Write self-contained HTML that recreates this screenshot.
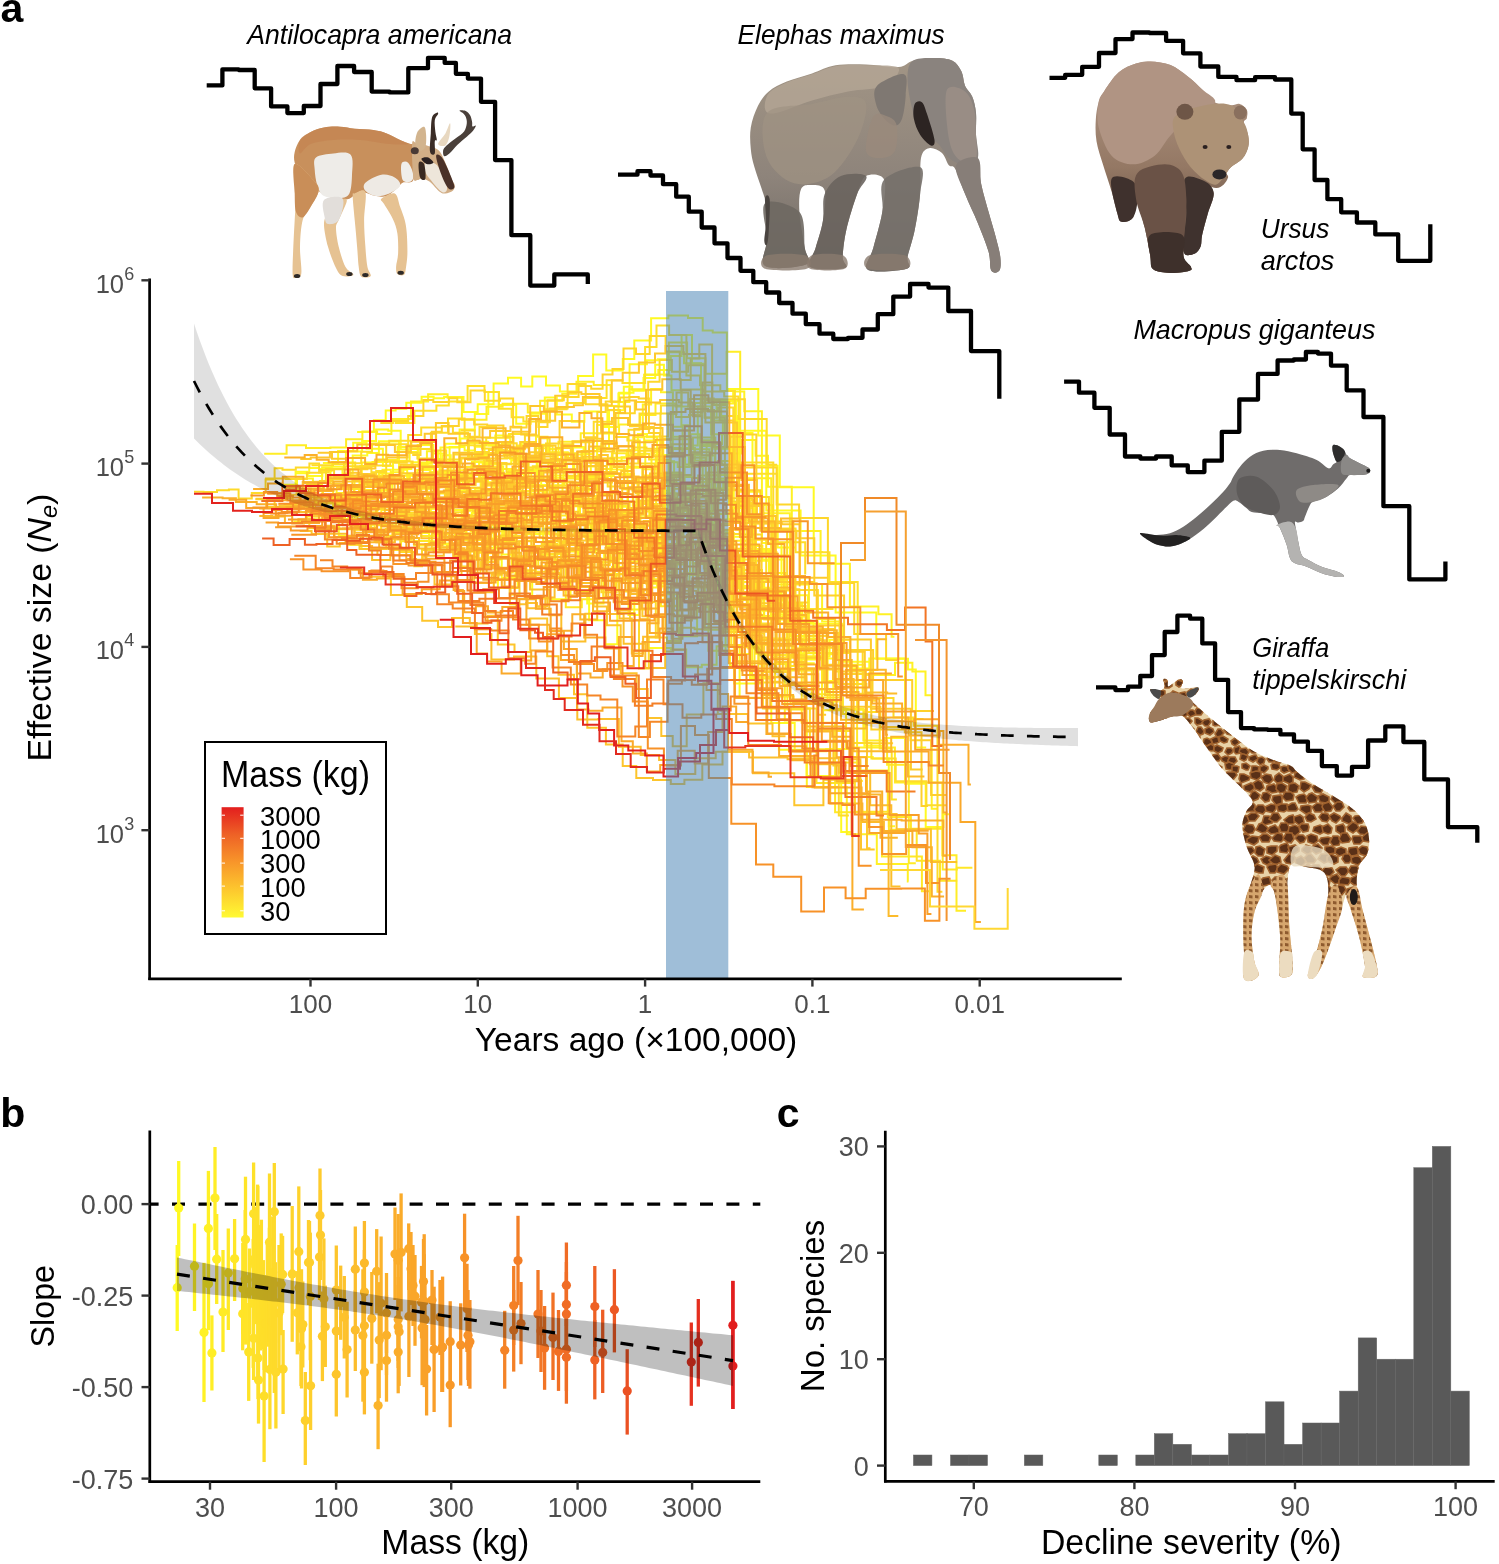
<!DOCTYPE html>
<html><head><meta charset="utf-8"><style>
html,body{margin:0;padding:0;background:#fff;}
svg{display:block;font-family:"Liberation Sans", sans-serif;will-change:transform;}
</style></head><body>
<svg width="1499" height="1564" viewBox="0 0 1499 1564">
<rect width="1499" height="1564" fill="#fff"/>
<g id="lines" fill="none" stroke-width="2" stroke-linejoin="miter"><path d="M439.3,493.6H459.9V470.2H471.3V466.3H487.8V472.3H503.4V474.0H523.8V487.2H541.2V463.2H552.0V477.8H562.5V497.7H582.8V477.7H602.7V493.2H620.8V538.2H634.2V517.3H652.1V520.5H672.0V483.7H685.3V487.3H698.2V497.0H718.3V550.0H742.2V587.7H769.8V590.5H790.5V635.9H827.6V701.5H838.7" stroke="#fffa23"/>
<path d="M336.0,498.9H359.5V481.4H373.0V484.3H392.0V479.0H405.0V488.7H429.7V472.8H449.8V479.4H462.5V487.7H484.1V469.8H501.1V479.3H517.0V481.7H531.2V484.9H549.5V475.6H568.0V476.3H588.9V476.1H613.7V473.8H633.9V489.0H655.5V475.9H680.5V495.8H700.2V455.5H714.7V536.8H752.4V592.9H780.7V600.6H786.1" stroke="#fffa23"/>
<path d="M357.1,432.0H373.9V420.2H385.7V410.6H395.6V408.7H406.3V402.8H421.6V396.7H433.6V398.3H444.1V397.0H463.5V412.1H477.7V404.2H493.6V383.4H508.0V377.8H521.1V386.4H532.3V376.4H546.0V385.6H559.9V391.4H578.1V376.0H593.1V354.5H606.3V370.4H622.8V359.0H634.3V340.4H651.1V318.3H668.4V315.5H688.0V318.0H702.7V330.5H712.7V332.6H726.9V389.1H758.3V435.6H779.8V487.2H813.7V552.1H822.9" stroke="#fffa23"/>
<path d="M283.2,484.8H295.6V471.8H307.7V475.9H322.3V470.9H331.6V466.7H342.5V473.8H352.7V455.4H367.3V452.9H378.9V441.2H390.7V441.4H399.0V469.1H411.3V462.3H419.5V465.1H427.7V461.9H438.2V461.6H449.6V447.1H464.6V450.6H475.0V446.7H484.5V454.9H495.3V435.6H510.2V459.1H521.7V442.5H534.2V444.7H548.9V449.1H561.1V459.9H571.6V447.1H583.6V453.9H593.4V448.0H609.0V410.2H623.8V386.7H632.2V390.4H643.5V378.1H655.2V364.7H663.9V375.4H671.5V390.3H681.4V425.2H688.9V445.6H697.8V406.6H711.0V434.2H722.9V415.9H737.5V432.9H752.5V465.7H777.7V547.4H795.0" stroke="#fffa23"/>
<path d="M405.1,475.7H422.4V487.2H440.0V477.3H457.2V478.3H466.9V481.5H479.1V462.6H487.9V485.6H501.6V464.2H511.2V460.6H526.6V461.0H536.7V476.9H550.6V452.4H567.4V457.7H581.4V489.7H593.9V506.5H611.3V469.6H627.1V450.3H637.9V434.1H647.0V437.3H657.1V474.4H668.6V462.3H677.7V466.9H689.0V434.3H700.1V444.2H714.3V448.7H732.3V502.9H753.4V560.8H770.8V614.2H801.2V663.2H814.7" stroke="#fffa23"/>
<path d="M323.1,517.3H338.8V536.1H348.9V544.7H361.5V549.1H373.8V548.9H386.3V535.8H394.3V532.8H407.2V531.1H420.1V533.1H429.1V542.7H444.3V540.2H459.0V537.1H473.2V543.4H483.6V557.2H495.7V541.8H510.5V533.1H520.3V527.3H535.3V533.8H550.0V534.5H561.0V576.8H570.5V589.4H578.5V556.7H592.4V539.7H608.1V559.1H619.9V553.7H633.7V533.7H643.4V524.2H657.9V560.4H667.6V538.3H676.8V551.3H690.2V533.1H700.1V552.0H713.9V620.7H722.0V613.9H734.2V683.5H761.7V655.2H769.5" stroke="#fffa23"/>
<path d="M362.0,489.9H379.9V490.0H392.2V483.4H408.4V474.7H417.2V470.0H430.5V472.2H442.3V455.2H450.7V475.6H464.3V491.9H475.1V488.7H483.7V512.4H492.3V524.4H502.2V554.4H515.5V521.6H524.7V534.2H540.9V532.2H550.8V526.6H559.4V549.5H567.8V563.3H578.0V546.6H595.3V552.7H604.1V557.6H618.7V538.3H630.7V508.0H646.9V500.0H664.5V503.7H673.0V537.8H682.9V522.8H698.1V501.4H711.6V488.5H731.4V508.0H754.0V550.7H774.0V595.3H807.9V623.8H841.9V661.7H870.1V673.3H871.8" stroke="#fffa23"/>
<path d="M322.9,463.1H338.1V451.1H353.2V442.7H366.6V448.8H382.9V465.9H393.1V469.8H407.2V481.2H426.8V480.5H440.5V447.4H459.6V429.6H474.8V414.1H488.3V392.0H499.0V405.0H516.2V423.7H530.7V413.8H544.8V397.5H556.8V414.5H571.8V421.8H584.4V411.5H601.1V426.9H618.4V393.5H629.6V364.2H646.9V360.2H657.8V359.3H667.6V352.3H684.0V363.2H701.0V402.5H716.2V401.3H736.0V430.8H766.3V510.4H800.6V555.6H835.6V612.5H876.3V658.7H908.0V669.6H915.8V747.6H926.2" stroke="#fffa23"/>
<path d="M295.3,473.2H309.2V468.1H319.0V469.1H332.2V462.0H345.9V451.5H362.1V441.1H376.1V429.6H388.3V430.7H400.7V449.5H408.2V452.0H417.7V445.0H433.3V453.6H445.3V443.8H460.4V438.6H472.9V441.8H488.3V445.7H500.8V444.8H509.8V448.9H523.5V458.0H534.8V448.3H548.1V452.5H557.7V471.6H573.1V447.4H584.8V459.4H597.1V425.0H607.4V405.9H619.1V392.7H633.5V390.4H644.2V374.9H658.3V370.0H670.8V356.0H681.6V334.9H692.0V363.8H704.8V417.7H716.6V401.0H730.6V400.7H739.0V491.8H762.0V543.0H781.5V606.4H799.8V659.5H825.6V681.1H839.1" stroke="#fffa23"/>
<path d="M457.3,490.9H481.4V491.3H493.6V479.0H507.3V494.9H531.6V504.7H555.5V508.6H572.6V531.0H588.1V531.2H602.7V521.2H624.9V561.8H638.2V540.5H655.3V518.7H667.9V483.3H680.8V488.6H697.9V482.0H710.5V478.5H733.8V520.4H755.7V653.7H775.1" stroke="#fffa23"/>
<path d="M435.7,486.7H453.3V510.1H471.0V495.7H483.0V474.2H502.9V475.5H520.9V457.0H537.7V485.9H554.0V523.2H573.1V518.5H584.4V524.5H596.0V511.6H611.4V506.3H621.9V525.6H642.8V542.7H662.9V557.3H681.1V505.8H691.4V518.8H706.9V474.9H728.7V503.8H743.4V545.9H762.4V559.4H784.1V620.6H811.2" stroke="#fffa23"/>
<path d="M413.2,545.5H428.8V541.4H440.9V549.9H456.4V558.8H475.3V547.8H497.9V588.1H517.6V571.6H532.2V598.4H551.4V599.3H570.5V587.1H589.1V620.2H605.3V644.2H617.3V612.9H634.3V600.0H647.5V647.9H670.9V649.6H686.2V667.3H701.8V664.8H716.6V646.3H739.6V697.7H778.9V749.7H806.6V775.9H841.2V832.1H850.8" stroke="#fffa23"/>
<path d="M429.8,536.1H441.2V543.4H451.6V526.4H462.7V527.0H471.6V521.0H480.5V517.4H494.1V513.4H506.3V490.6H519.8V481.0H531.3V470.0H543.0V481.1H556.3V464.3H566.9V476.1H574.3V458.7H586.9V483.6H597.4V506.5H604.6V500.5H617.6V517.5H627.2V532.3H638.1V539.2H651.6V544.4H665.2V545.6H680.2V548.9H690.5V557.8H698.5V592.2H707.1V607.2H721.4V565.2H732.9V599.9H747.0V639.1H773.1V644.1H801.1V622.7H813.5V658.6H833.3V709.8H864.4V745.7H884.2V738.1H905.1V783.7H925.7V826.9H943.4V814.3H948.9" stroke="#fffa23"/>
<path d="M452.0,520.5H461.3V533.4H475.6V536.2H484.6V553.3H494.0V525.6H512.0V512.0H522.1V505.6H536.9V517.2H555.8V510.2H569.2V505.6H584.5V514.2H600.0V493.9H612.4V506.7H627.6V514.7H639.5V518.0H649.3V490.8H668.0V473.0H683.9V485.1H692.8V513.7H709.5V513.8H727.9V519.2H741.6V496.0H755.1V552.2H777.6" stroke="#fffa23"/>
<path d="M333.0,496.0H350.7V493.0H366.5V494.7H381.4V490.7H396.9V498.6H419.5V501.8H436.4V507.8H453.4V515.6H471.8V513.0H494.0V508.9H516.9V508.9H534.5V511.0H551.3V511.7H566.8V499.4H578.2V524.9H590.3V550.5H609.7V545.1H625.6V556.3H646.5V536.4H659.9V552.1H672.3V516.5H683.2V550.6H703.3V513.9H723.3V577.7H763.8V616.2H793.3V656.4H829.6V639.7H850.1V668.6H869.3V658.4H905.0V719.1H923.6" stroke="#fffa23"/>
<path d="M417.6,519.6H430.8V508.8H440.9V544.5H451.2V544.3H460.7V534.4H468.6V551.6H485.1V559.5H501.7V578.0H515.4V548.4H525.3V576.5H535.9V559.9H547.7V544.9H562.1V542.1H578.2V591.1H587.2V603.4H603.5V569.1H611.9V567.1H628.5V614.9H639.3V601.5H651.8V587.6H661.6V533.6H673.1V514.9H681.3V511.3H689.2V549.7H702.2V564.1H710.1V601.7H725.6V653.9H750.0V678.5H771.3V722.9H794.7V751.2H826.2V748.9H852.3V757.0H872.8V758.5H888.8V826.2H895.0" stroke="#fffa23"/>
<path d="M421.7,475.3H435.8V471.6H451.7V480.1H468.7V491.2H482.0V478.1H495.0V474.6H508.3V470.7H527.3V471.2H538.4V470.3H553.9V468.4H565.2V454.5H584.8V484.5H596.5V472.8H610.3V457.7H628.1V467.7H645.3V440.6H663.3V461.3H674.1V516.2H692.6V487.0H706.1V480.5H723.2V513.2H740.9V597.1H780.4V612.2H800.6V653.3H817.7" stroke="#fff624"/>
<path d="M301.4,492.2H313.7V497.8H322.5V489.2H336.6V499.0H346.1V492.8H361.0V482.8H370.6V476.7H382.5V469.7H390.8V472.2H403.4V466.0H420.8V468.7H434.0V472.7H445.9V473.6H458.8V476.8H471.9V462.0H482.7V468.2H497.7V469.0H511.6V477.1H528.2V478.4H537.0V479.4H553.3V494.8H566.8V478.0H578.3V473.3H590.8V458.8H606.9V474.0H619.1V474.9H632.8V505.6H642.5V469.2H655.8V455.0H672.8V426.7H682.6V455.4H700.1V446.1H712.2V420.5H721.2V403.4H733.2V391.5H744.3V411.3H761.9V513.2H789.9V583.9H822.1V621.5H839.6V666.5H855.8" stroke="#fff225"/>
<path d="M293.4,521.6H309.3V528.3H327.5V527.3H339.4V529.3H353.6V529.5H366.8V536.4H381.1V522.8H396.4V514.3H411.6V529.3H424.8V528.6H437.5V516.1H455.7V523.6H470.7V531.2H489.0V544.5H498.2V547.4H512.8V556.3H525.4V556.9H539.6V554.7H554.5V576.7H572.0V579.6H589.8V558.7H603.6V575.3H619.1V578.5H628.1V568.8H646.3V583.8H657.1V586.2H667.8V594.3H678.6V636.2H697.1V594.8H708.4V650.8H730.0V665.6H732.6" stroke="#fff225"/>
<path d="M318.6,502.8H329.7V501.2H341.6V502.5H354.1V504.1H369.1V503.5H378.0V503.7H387.2V505.6H402.0V518.0H415.2V516.3H423.7V519.5H434.9V512.9H444.5V514.5H458.1V516.5H471.4V530.0H481.3V538.5H496.4V536.4H511.7V564.8H522.9V563.9H531.6V552.6H543.1V514.8H555.8V522.1H571.0V529.8H578.7V545.4H592.1V534.0H607.4V523.1H617.4V501.0H627.5V466.5H642.7V497.7H655.5V487.4H665.0V510.0H680.3V497.8H693.1V501.4H701.4V519.4H712.8V538.0H725.5V532.9H733.8V559.4H750.8V610.8H777.8V623.3H804.3V658.6H826.5V654.3H839.7V664.7H864.6V674.9H895.0V662.7H912.4V671.5H925.5V695.3H931.7V808.7H937.3" stroke="#fff125"/>
<path d="M306.1,484.1H319.7V490.9H333.2V505.8H345.5V494.1H354.5V481.1H361.8V462.6H372.5V461.9H387.0V460.1H397.6V447.0H406.9V452.7H418.9V463.8H431.9V458.9H439.7V477.1H448.5V466.7H457.6V473.9H470.2V479.9H484.5V461.6H493.1V466.6H503.2V490.4H516.9V480.9H526.6V467.6H536.3V469.1H548.4V460.0H563.4V482.4H576.3V483.9H588.2V495.9H596.1V517.9H605.4V505.0H618.4V506.0H627.2V534.6H636.5V496.2H644.1V475.4H651.5V452.5H660.8V477.4H669.5V498.8H684.6V447.9H694.9V460.6H706.6V443.9H722.1V434.0H730.8V453.5H741.1V439.9H755.6V455.7H768.0V486.7H791.8V530.9H820.6V563.7H849.9V606.6H878.4V614.3H891.6V636.7H894.4" stroke="#fff125"/>
<path d="M282.1,485.0H297.0V478.4H312.9V484.4H322.1V467.2H330.5V479.2H345.0V476.0H354.0V476.6H367.7V480.6H379.0V473.6H393.0V460.8H409.6V446.7H418.5V462.6H426.9V451.3H437.9V466.7H451.4V461.8H459.5V467.2H474.8V455.1H484.0V464.0H499.1V475.0H512.3V493.2H521.2V501.3H530.8V490.8H545.0V495.2H553.2V452.6H568.0V460.6H580.4V466.6H597.5V460.8H607.9V460.9H621.6V457.2H633.2V437.3H642.8V404.5H651.1V389.1H661.0V392.3H672.9V436.8H685.0V464.5H701.6V440.2H714.1V447.3H729.9V462.4H739.2V499.9H754.1V549.0H769.0V573.1H785.0V603.9H802.4V621.3H817.7V692.3H818.6" stroke="#fff125"/>
<path d="M454.9,478.3H465.3V470.5H483.3V482.2H500.2V489.9H510.2V484.7H521.8V485.6H538.8V498.5H555.3V503.4H575.2V488.1H586.9V489.8H597.8V505.6H617.7V513.4H637.5V478.2H656.5V482.7H676.4V477.1H694.3V449.3H709.3V519.6H732.3V585.9H752.1V676.8H784.8V720.6H806.8V787.1H846.8V834.3H876.8V864.0H907.8V881.6H908.5" stroke="#fff025"/>
<path d="M464.1,443.2H484.4V444.4H498.8V451.3H518.1V445.4H536.0V436.7H547.5V452.9H558.5V441.7H580.7V433.3H599.1V433.5H619.1V424.5H640.0V414.9H655.5V403.5H675.5V406.5H695.0V403.1H711.5V540.8H756.0V616.1H770.0" stroke="#ffee26"/>
<path d="M264.2,453.8H286.6V445.2H306.0V447.9H330.4V447.5H346.1V439.2H362.4V431.5H377.1V434.0H391.4V419.1H411.0V401.4H428.1V394.3H447.6V397.8H461.9V419.8H486.5V406.8H502.6V403.7H527.8V412.4H540.1V400.7H562.3V393.8H576.5V381.8H593.7V384.9H610.7V402.0H629.4V389.2H644.4V374.4H668.8V342.4H687.1V358.3H705.5V373.7H726.7V351.7H740.2V478.2H771.2V638.4H822.0V710.3H846.1V747.4H894.9V782.4H942.4V855.2H956.5V910.7H966.0" stroke="#ffed26"/>
<path d="M299.6,521.7H307.4V519.3H318.7V519.2H329.3V508.0H345.4V507.8H356.9V513.8H367.4V522.6H381.3V509.9H393.7V513.6H403.3V517.8H419.4V513.7H434.8V534.1H448.9V536.1H463.9V539.8H474.3V552.7H482.4V542.7H491.4V524.2H502.7V528.5H518.6V515.9H526.8V509.2H534.9V498.0H551.5V485.4H564.0V478.4H576.3V479.2H588.5V506.4H602.6V512.9H614.7V501.4H628.0V481.2H639.4V481.5H648.1V497.6H656.1V522.0H665.2V504.5H677.9V520.7H692.6V563.2H701.4V539.6H711.4V542.9H725.9V544.8H736.7V582.0H764.2V619.4H783.0V616.4H806.2V694.3H830.3V709.0H863.4V740.6H887.1V764.7H908.8V863.2H915.8" stroke="#ffea27"/>
<path d="M284.8,489.6H305.1V486.4H322.9V494.9H336.7V493.1H353.8V487.8H364.7V475.7H387.6V475.4H409.9V488.3H424.9V477.6H447.4V485.9H466.3V506.3H489.3V531.3H503.2V513.3H524.5V519.6H539.8V503.3H557.7V494.9H580.5V476.4H597.1V469.1H611.9V453.3H626.4V455.6H644.2V436.6H660.7V448.0H682.3V466.7H702.7V493.8H717.8V460.9H737.6V504.9H772.7V584.4H808.9V652.9H850.0V680.2H857.1V781.1H862.8" stroke="#ffe927"/>
<path d="M330.1,498.8H353.3V499.8H370.4V493.0H387.3V499.0H408.1V519.0H423.4V506.8H440.3V526.6H452.5V526.6H465.8V518.3H486.2V511.7H503.5V511.4H514.6V522.2H538.3V522.2H557.9V541.5H575.0V535.5H595.3V542.9H613.0V573.9H629.4V609.4H649.4V571.7H660.9V606.3H677.4V593.8H689.5V573.2H709.8V553.1H731.8V618.1H779.2V595.4H783.9" stroke="#ffe927"/>
<path d="M383.1,518.8H402.9V529.7H426.5V520.9H444.0V522.8H465.5V540.1H480.9V529.0H504.1V543.8H526.3V513.4H548.3V515.5H567.4V514.3H580.0V504.6H592.6V532.0H613.7V535.8H629.3V570.7H651.4V548.5H668.3V554.3H690.0V575.1H706.6V553.5H721.8V593.5H758.3V599.1H786.7V656.4H821.9" stroke="#ffe927"/>
<path d="M350.2,507.8H364.2V512.2H377.3V506.9H394.4V506.3H416.2V499.5H440.0V524.9H461.7V510.8H484.4V511.1H505.7V489.4H519.2V491.0H542.5V500.8H566.9V520.0H584.7V537.3H599.0V534.7H622.4V525.3H636.7V496.9H659.5V493.2H675.6V500.8H696.2V511.1H718.0V613.3H761.0V654.9H801.7V722.7H835.1V812.3H882.0V856.6H921.9V891.2H930.5" stroke="#ffe927"/>
<path d="M418.8,500.4H434.2V482.1H446.8V481.0H456.1V475.5H466.6V466.8H480.7V503.8H494.6V512.9H506.8V516.9H519.3V525.8H536.0V515.8H549.6V514.0H560.5V528.3H574.2V534.2H591.6V504.7H602.8V502.6H618.0V519.4H627.0V559.0H639.7V536.0H652.6V579.2H669.7V564.5H685.7V553.5H695.2V559.8H704.9V629.7H740.2V634.2H754.5V671.2H785.6V666.1H804.9V730.0H831.2" stroke="#ffe727"/>
<path d="M284.7,507.1H295.7V506.6H315.0V509.0H334.3V502.8H346.8V509.0H361.4V524.7H374.6V541.0H391.7V549.9H401.0V541.2H414.6V540.9H430.6V541.5H442.3V538.4H461.7V537.5H472.7V528.3H488.0V557.5H501.4V543.0H513.6V538.0H526.0V558.5H538.3V566.2H553.7V562.4H565.8V607.3H581.8V599.3H599.2V562.3H615.1V597.6H627.9V601.5H637.4V576.6H653.8V582.9H664.6V605.8H680.2V573.2H693.6V563.4H711.7V581.6H727.3V593.2H748.3V648.6H761.7" stroke="#ffe727"/>
<path d="M335.5,519.0H348.4V516.3H362.2V523.0H371.9V517.4H383.1V517.8H397.3V504.7H408.3V515.7H421.2V536.0H434.5V519.4H443.3V538.0H455.0V530.4H466.5V537.9H481.9V524.2H491.3V521.9H501.2V519.9H513.2V508.5H527.6V509.8H540.2V508.5H555.1V529.5H566.0V551.6H576.0V544.5H587.9V539.8H601.1V520.0H610.8V558.2H620.5V521.1H635.5V507.5H643.5V511.4H653.9V520.2H662.0V567.9H675.3V556.5H688.7V514.1H701.5V543.6H710.9V538.7H720.1V561.4H738.5V588.2H758.7V664.1H787.4V709.4H805.5V749.3H829.6V762.5H860.1V770.4H887.8V816.9H910.9V828.8H942.7V869.5H956.8V867.8H972.4" stroke="#ffe727"/>
<path d="M338.3,488.9H359.1V492.9H376.7V501.9H390.4V495.4H409.9V485.1H421.7V479.5H434.2V479.2H446.0V502.9H467.4V521.9H481.2V485.2H495.5V491.1H511.0V503.5H522.6V493.5H539.7V505.1H555.8V485.4H577.3V499.0H593.5V523.3H613.3V515.0H629.6V502.0H648.2V505.9H663.1V482.1H674.3V493.8H698.1V551.6H709.9V530.7H731.2V645.0H775.0V696.4H793.6V708.5H816.5V783.0H854.9V811.8H888.9V829.8H916.7V860.7H940.0V880.7H957.2" stroke="#fee328"/>
<path d="M417.7,466.0H437.6V459.4H459.4V445.3H474.0V445.6H486.2V437.7H509.0V434.0H528.9V445.7H552.6V453.3H575.8V459.8H601.2V443.2H616.7V450.3H630.7V453.7H649.1V459.6H670.2V449.1H692.9V437.4H715.3V495.5H729.9V464.5H744.3V575.9H794.2V609.1H833.5" stroke="#fee228"/>
<path d="M331.7,513.4H341.9V514.1H357.4V526.0H371.3V524.1H389.1V505.5H399.8V509.4H417.1V503.8H426.1V511.9H436.1V485.0H445.8V490.2H457.3V500.8H473.0V511.2H491.0V508.6H509.5V531.0H526.7V558.2H545.5V554.1H563.7V519.5H578.3V515.9H587.3V504.0H597.9V544.2H608.3V515.4H617.8V517.0H627.0V508.9H645.1V516.2H658.9V517.5H676.0V503.0H687.1V525.7H699.5V525.6H711.0V535.8H721.6V572.8H739.7V606.8H776.3V670.6H811.8V697.6H842.9V713.9H864.2V712.1H879.7V748.6H891.7V799.5H896.9" stroke="#fee029"/>
<path d="M394.7,422.9H414.4V410.7H436.4V405.4H448.8V401.4H467.6V386.0H484.5V392.1H498.8V408.7H511.6V417.2H523.4V421.4H546.1V409.2H566.6V402.9H584.9V397.9H606.6V380.3H622.5V382.9H645.1V347.1H656.5V325.5H669.1V335.0H686.4V375.6H700.0V385.2H720.3V391.1H734.9V473.7H777.1V528.5H795.6V552.3H829.5V582.1H857.7V694.0H865.3" stroke="#fee029"/>
<path d="M332.6,506.6H341.4V512.8H353.2V512.8H361.2V507.9H370.6V509.1H384.1V501.8H394.1V511.2H406.9V525.4H418.5V529.7H430.6V526.3H439.6V523.8H452.6V520.2H462.8V515.6H475.8V534.7H487.1V532.7H495.6V526.8H510.7V536.1H521.9V509.6H535.1V509.3H548.4V504.0H564.7V500.2H580.5V506.8H592.1V514.2H606.0V553.2H618.8V591.5H627.7V557.6H640.5V540.0H651.4V519.3H664.6V520.2H675.2V507.4H687.2V524.6H702.5V544.3H715.9V544.7H730.4V534.1H743.3V593.7H772.0V604.2H789.4V655.2H804.6V689.5H829.8V695.0H852.0" stroke="#fedd29"/>
<path d="M311.5,465.2H333.0V464.2H345.7V463.2H361.2V451.8H372.0V443.5H389.2V440.7H411.3V449.0H430.9V432.8H448.0V418.5H464.6V436.7H479.5V427.0H496.0V451.1H514.5V477.9H528.6V462.1H544.6V452.9H561.1V444.2H573.3V442.3H593.7V421.8H614.5V436.9H627.4V440.6H639.7V463.6H654.7V476.3H670.7V439.3H691.1V457.7H705.8V555.1H740.0V594.4H758.4V682.4H767.3" stroke="#fedc2a"/>
<path d="M273.0,507.6H293.6V500.7H311.3V495.4H330.6V501.2H347.3V498.1H362.8V484.7H376.2V470.9H385.9V478.8H402.5V489.1H418.6V486.4H429.9V472.5H442.5V474.7H453.8V454.4H468.9V441.9H482.0V448.4H501.8V443.2H516.7V463.9H527.1V467.8H541.0V479.7H558.1V505.4H574.0V506.2H591.5V536.3H610.3V528.9H621.1V539.0H640.4V504.0H657.7V544.3H671.0V544.1H681.3V543.3H693.0V513.6H706.8V553.5H726.5V617.3H746.0V623.4H772.4V657.5H790.5V703.4H823.1V731.0H852.3V742.9H871.4V758.4H895.7V781.3H926.4V805.2H946.6" stroke="#fedc2a"/>
<path d="M264.0,500.0H280.4V498.1H292.6V502.3H305.1V493.2H315.0V504.0H326.0V509.5H337.4V504.5H349.1V519.0H360.0V519.4H376.7V525.3H396.1V512.6H415.2V508.8H426.9V488.6H437.6V500.5H456.5V501.0H467.3V506.9H477.6V519.0H495.1V520.4H506.6V541.6H524.2V540.7H533.4V510.8H545.8V527.6H559.8V531.5H568.9V516.7H585.9V515.9H597.3V509.1H612.6V544.7H627.9V550.9H645.1V554.5H664.2V472.5H680.9V521.3H690.6V534.8H706.1V547.2H717.4V556.1H730.7V554.8H746.9V539.7H766.2V580.1H783.7V602.4H808.1" stroke="#fedb2a"/>
<path d="M460.8,430.5H474.8V451.9H488.9V450.0H503.8V454.6H518.9V470.0H532.8V466.3H551.6V459.4H565.6V459.1H581.5V451.0H597.2V449.0H612.6V460.8H628.6V429.8H639.5V413.4H660.9V405.6H681.5V389.6H703.1V391.6H724.2V396.6H738.5V419.1H766.7V464.8H777.2" stroke="#fedb2a"/>
<path d="M312.8,481.7H325.9V469.1H343.9V462.5H355.2V467.8H371.4V472.2H386.2V444.3H408.2V434.9H421.2V427.4H441.9V426.4H452.9V432.8H468.0V459.8H490.0V462.9H506.5V472.2H520.2V456.9H536.4V461.7H553.5V453.9H565.7V475.8H582.0V451.1H594.0V451.3H605.3V442.6H616.5V463.6H638.3V450.7H660.7V438.7H672.2V430.5H689.7V453.9H702.0V410.9H717.9V407.5H733.3V462.6H773.3V542.3H805.2V574.4H805.2" stroke="#fedb2a"/>
<path d="M429.6,508.3H453.4V512.3H466.7V504.0H478.1V509.5H497.3V489.8H514.9V487.7H529.3V485.9H549.3V495.0H569.2V501.5H591.5V520.4H609.0V531.8H624.9V530.2H648.6V564.2H661.3V563.7H679.3V544.3H697.3V546.5H712.2V594.0H733.8V647.2H762.9V708.4H809.9V764.3H838.8V815.6H848.9" stroke="#feda2a"/>
<path d="M255.4,499.2H274.6V508.7H299.5V496.4H316.6V502.8H336.1V497.6H358.4V496.7H380.4V494.3H400.6V487.0H416.0V484.0H430.7V486.1H447.7V491.9H471.3V493.2H493.3V500.9H511.6V485.1H531.7V489.9H556.7V496.9H573.7V514.7H596.8V530.7H615.7V524.3H639.4V539.5H655.1V531.3H672.5V488.8H698.2V475.4H719.8V463.2H723.4" stroke="#feda2a"/>
<path d="M194.0,491.7H203.5V491.9H217.0V490.3H228.9V489.4H238.6V498.4H251.8V493.0H265.6V479.4H274.6V468.3H282.5V469.7H295.8V467.5H309.4V463.4H319.1V472.4H328.7V469.2H345.1V466.2H360.4V466.0H374.9V460.6H385.3V461.7H395.0V462.7H406.8V452.7H417.4V458.4H433.0V450.6H446.2V463.2H461.3V458.5H469.7V453.0H477.9V453.6H488.4V452.9H504.6V458.0H518.6V453.7H529.7V459.4H539.2V438.3H549.7V454.3H565.9V463.6H574.8V460.7H586.4V478.9H596.6V478.0H607.7V486.6H622.7V489.3H632.1V447.5H646.5V448.8H660.5V413.6H676.1V417.1H689.0V415.0H700.7V398.4H713.8V405.1H727.0V416.0H734.8V463.4H744.9V497.1H768.9V530.5H787.1V590.0H817.9V619.1H835.1V650.1H862.7V697.9H893.5V717.4H913.7V725.8H937.5V891.8H942.4" stroke="#feda2a"/>
<path d="M297.3,521.7H306.2V516.4H318.6V512.8H334.3V513.9H351.6V511.7H363.4V516.0H373.1V513.0H389.7V515.9H398.6V527.9H412.1V521.8H424.5V529.8H436.3V519.0H452.8V506.2H464.7V515.8H473.6V525.8H487.6V539.0H500.9V535.5H516.3V530.0H529.1V526.9H539.7V537.7H555.2V560.2H563.9V536.0H576.7V536.4H594.1V516.1H609.2V521.2H621.0V547.8H635.9V552.3H650.3V512.9H666.4V551.4H678.2V550.6H690.1V537.5H705.2V565.4H715.1V560.4H730.2V568.7H744.2V569.9H762.0V599.2H787.7V639.4H802.2V647.8H835.7V671.4H864.1V688.8H865.9" stroke="#fed82a"/>
<path d="M265.0,478.6H285.9V478.9H306.9V472.7H320.5V470.1H334.1V476.8H349.8V469.3H367.3V465.4H390.3V461.5H412.6V466.4H434.4V483.7H454.9V481.1H472.6V466.6H484.5V458.6H507.2V447.7H524.9V435.5H538.9V422.2H549.9V408.4H567.6V384.1H585.7V404.2H607.4V410.0H620.0V413.2H634.8V401.9H648.2V381.7H659.6V359.9H671.9V371.7H688.2V365.3H704.6V417.4H724.9V489.6H746.7V555.6H793.3V633.1H838.6V683.9H866.4V743.3H893.1" stroke="#fed82b"/>
<path d="M384.8,529.0H400.3V552.0H414.3V566.3H422.0V550.0H434.2V547.6H449.5V549.6H458.4V566.6H468.7V546.3H477.3V558.2H488.0V567.7H498.6V579.7H509.8V594.6H519.5V570.3H534.9V571.8H549.3V572.4H559.9V582.7H570.0V580.6H579.6V564.2H593.4V587.4H603.4V597.2H614.4V602.6H630.0V620.0H639.0V668.5H648.8V637.4H658.3V595.8H666.3V598.7H674.9V598.2H686.1V596.4H700.0V602.5H713.6V605.6H728.1" stroke="#fed72b"/>
<path d="M296.3,511.9H306.8V519.8H315.5V520.8H327.0V519.0H345.0V512.4H354.6V529.7H370.8V522.6H381.8V526.2H396.1V527.5H405.0V517.4H422.0V530.9H431.8V549.8H447.0V546.0H459.4V542.5H470.4V573.1H480.5V561.9H498.1V572.6H512.8V566.6H524.4V575.0H541.7V544.0H557.2V562.2H572.4V565.1H584.4V559.3H601.4V592.3H616.6V574.2H629.4V588.5H642.2V602.0H655.8V637.4H666.9V641.1H679.4V627.7H694.6V629.3H709.1V585.2H720.9V631.9H757.3V627.2H771.0" stroke="#fed72b"/>
<path d="M380.3,422.9H392.9V421.0H408.2V415.9H423.4V400.0H433.3V401.9H448.9V398.2H457.3V402.2H470.5V390.5H484.8V400.7H500.0V398.5H513.1V427.5H526.6V416.1H538.4V427.1H547.5V400.2H563.8V397.0H578.6V386.0H591.2V388.8H602.6V374.4H612.5V368.9H623.5V348.6H636.0V353.9H649.7V336.0H665.6V351.6H679.8V379.9H690.7V358.5H699.3V344.6H712.1V399.3H744.9V467.4H776.6V504.4H799.1V518.1H827.9V583.1H854.2V633.9H886.1V659.9H897.4" stroke="#fed62b"/>
<path d="M321.8,503.5H344.0V502.4H361.5V507.7H384.8V514.9H398.0V518.2H411.3V514.6H425.9V506.1H448.9V523.9H465.5V505.9H480.5V505.6H499.5V502.0H511.5V515.6H534.7V519.4H547.9V510.4H570.6V499.9H588.8V514.5H613.2V558.8H628.6V545.3H643.6V521.1H662.8V547.5H683.6V553.3H700.5V554.8H723.0V529.8H739.7V534.6H761.6V605.9H805.6V635.8H826.4" stroke="#fed42b"/>
<path d="M412.2,455.1H420.5V443.1H432.0V431.7H441.8V426.0H458.8V419.3H474.2V424.4H487.2V425.4H503.4V436.7H513.5V449.2H524.7V443.8H535.1V453.7H546.0V443.6H559.6V421.1H570.3V421.1H584.0V437.2H597.3V412.0H605.7V401.6H620.1V397.4H629.4V397.1H638.7V398.6H648.9V433.1H659.9V436.6H668.1V413.8H676.5V392.5H688.2V406.4H702.8V409.9H714.0V446.8H730.1V436.8H742.6V434.6H756.4V523.6H771.6V597.7H792.1V657.7H822.8V664.7H852.3" stroke="#fed32c"/>
<path d="M321.1,507.7H333.1V510.8H350.2V515.0H367.3V514.0H382.9V520.0H399.4V514.6H416.9V513.3H426.4V513.6H436.2V502.5H444.9V493.3H454.2V476.1H468.0V497.5H484.1V485.0H496.2V505.4H508.2V512.8H517.1V494.0H525.6V510.1H535.2V531.4H551.8V533.5H569.2V559.3H581.8V556.2H597.4V573.8H611.9V581.8H623.1V566.5H640.7V582.4H649.0V560.5H663.5V583.5H676.9V526.4H692.5V522.5H703.6V564.3H721.0V615.0H750.3V633.4H764.2V671.9H789.2V650.0H823.5V682.2H842.6V674.1H872.5V700.8H877.1" stroke="#fed32c"/>
<path d="M384.0,480.9H400.6V464.8H419.5V473.3H439.6V470.6H459.6V457.4H474.4V456.9H489.2V473.8H500.9V463.7H520.2V442.1H535.9V460.8H556.0V448.1H570.8V458.9H585.6V438.7H602.8V451.4H614.0V406.4H630.0V426.3H641.2V427.0H653.8V456.6H671.7V444.3H690.0V399.0H706.8V399.9H719.7V420.5H733.5V490.3H760.3V530.8H796.5V538.3H814.3V595.4H844.1V650.1H873.1V680.0H912.2V710.9H934.0" stroke="#fed02c"/>
<path d="M268.0,493.6H283.7V491.3H303.1V482.9H315.7V482.0H329.9V483.4H343.1V477.4H362.6V473.9H374.6V476.8H385.7V482.4H404.1V488.8H417.3V497.9H436.3V502.1H449.7V501.2H463.0V499.2H479.7V513.4H494.6V518.4H513.8V493.8H529.8V513.3H539.7V507.5H550.0V506.2H561.4V511.7H578.0V514.2H587.6V513.7H600.8V540.9H620.4V527.3H636.3V559.2H649.7V539.3H669.3V526.9H680.1V521.0H690.4V497.4H708.5V531.9H721.4V523.6H731.0V573.4H761.4V589.3H799.4V629.1H834.1V680.0H854.1V693.7H871.3V729.5H904.8V732.2H921.5V806.0H927.9" stroke="#fed02c"/>
<path d="M448.0,488.8H467.2V480.1H482.2V490.4H493.6V505.4H514.7V495.1H537.5V506.7H551.2V491.6H573.0V506.1H585.0V505.5H600.9V526.6H618.0V520.0H638.7V500.6H658.6V498.0H677.4V493.6H699.4V518.6H717.0V490.1H729.4V501.6H749.9V578.2H795.5V669.5H840.2V706.8H880.4V727.1H910.5V740.2H931.1V795.1H946.9" stroke="#fecf2d"/>
<path d="M283.6,504.9H296.9V508.4H311.4V516.2H325.0V512.3H347.9V502.1H367.7V506.1H382.1V507.5H402.8V510.1H425.7V531.4H437.4V533.1H461.6V542.9H486.4V557.7H509.4V522.8H530.0V505.3H548.5V512.5H568.7V534.6H585.9V539.2H609.0V511.9H633.3V478.7H649.5V476.4H662.4V536.9H680.5V536.2H692.9V587.6H712.0V559.4H726.6V548.7H751.0V599.0H775.8V640.2H824.9V695.0H843.2" stroke="#fece2d"/>
<path d="M264.4,492.3H276.0V492.9H289.5V486.6H302.7V482.1H319.9V480.9H332.6V485.8H349.3V485.4H362.4V492.7H373.3V485.0H383.0V478.2H401.6V473.2H419.9V487.5H437.7V492.7H449.1V505.6H461.8V497.0H476.6V502.7H492.7V491.0H510.8V478.1H525.0V459.1H542.9V445.6H555.6V455.0H565.7V458.1H583.0V456.8H596.8V482.4H612.0V481.0H622.2V524.9H641.4V525.7H655.8V510.1H674.1V557.1H692.4V520.7H707.6V500.4H718.7V471.5H736.9V518.1H755.3V581.9H791.6V627.6H799.5" stroke="#fecd2d"/>
<path d="M336.0,487.2H352.4V480.3H362.1V497.1H379.3V493.8H389.7V497.6H400.1V504.0H408.2V509.5H417.1V505.8H428.5V492.2H439.8V492.6H450.8V494.2H462.3V492.3H470.7V487.8H483.4V483.4H498.2V483.8H514.2V447.5H528.8V452.2H541.8V456.5H555.3V460.5H572.5V441.2H589.2V462.8H599.5V471.9H617.0V450.7H634.3V429.0H649.6V427.9H662.5V478.5H674.0V501.6H683.4V510.2H698.0V538.1H710.6V570.0H737.3V618.4H760.4V645.8H762.9" stroke="#feca2d"/>
<path d="M445.6,494.3H457.7V485.0H468.9V491.0H486.4V493.7H498.8V504.6H513.7V502.7H528.5V503.5H547.0V481.8H566.8V493.0H580.8V488.9H595.6V458.4H614.0V467.0H624.5V476.5H638.7V509.5H650.0V473.6H671.2V474.9H691.7V452.3H710.2V465.0H727.3V498.2H752.3V603.3H779.9V630.1H818.1V714.7H826.1" stroke="#feca2d"/>
<path d="M286.5,494.8H296.5V493.2H312.2V490.0H328.6V478.6H345.9V481.5H362.4V483.2H380.3V495.9H389.6V503.3H401.8V490.2H415.7V485.0H428.7V484.0H442.9V484.5H460.8V484.9H475.6V478.4H492.4V480.4H507.4V482.4H522.5V506.6H536.5V501.1H552.9V509.7H568.1V524.1H583.4V481.2H599.1V455.0H607.8V464.8H624.1V488.3H635.8V493.2H646.3V492.4H660.0V528.6H668.9V537.3H683.0V498.9H693.1V506.4H707.1V472.6H724.7V467.7H741.4V480.1H756.9V523.3H782.1V524.2H799.7V577.8H827.1" stroke="#feca2d"/>
<path d="M408.5,488.6H421.2V499.6H430.0V505.8H443.9V507.0H455.8V502.5H467.2V481.5H483.0V489.2H499.3V485.2H516.3V479.2H526.1V479.4H543.5V472.5H555.6V481.5H572.8V500.9H582.6V498.5H596.5V510.2H612.0V518.3H627.9V527.4H645.7V556.8H656.7V544.2H673.4V514.1H681.9V514.2H692.0V477.9H702.6V491.0H720.2V468.9H731.0V522.9H762.9V521.5H793.4V583.2H816.7V625.5H843.9V651.7H864.8V696.4H867.0V848.2H870.5" stroke="#feca2d"/>
<path d="M317.7,452.7H332.0V458.8H347.4V472.7H360.9V468.5H375.4V459.4H387.0V457.4H407.6V445.5H420.0V442.1H435.9V422.9H448.6V433.8H469.9V437.4H490.1V431.0H510.5V426.8H521.2V434.5H536.0V420.8H555.2V395.7H568.4V392.2H581.4V393.9H599.6V405.6H611.8V380.6H622.7V372.8H638.9V362.4H655.0V353.5H665.6V346.0H683.4V354.0H705.4V422.4H737.1V505.9H763.5V529.2H791.0V582.1H812.8V584.1H839.8V639.6H870.9V708.8H910.9V769.6H922.6" stroke="#feca2d"/>
<path d="M444.5,516.1H452.7V519.3H467.4V502.1H480.9V504.5H497.4V517.0H505.8V510.1H516.2V533.3H531.5V558.8H547.1V578.2H561.5V554.7H575.5V520.7H586.6V549.6H598.6V564.9H609.7V550.3H625.8V568.9H642.4V616.3H654.7V615.8H663.6V651.5H673.2V577.0H686.0V550.7H703.3V517.4H717.7V539.8H732.4V592.0H758.3V628.5H771.8V681.7H780.9" stroke="#feca2d"/>
<path d="M255.6,498.7H266.2V506.9H279.5V505.4H292.8V500.5H307.0V508.9H315.6V512.6H329.5V514.0H340.0V512.0H355.5V503.9H368.4V498.9H376.9V494.0H388.9V482.2H404.4V481.9H415.2V487.0H427.1V492.9H438.9V491.4H447.3V496.5H461.0V495.0H475.3V509.6H484.6V495.4H494.5V516.0H505.9V486.9H514.2V520.0H526.1V546.1H542.8V546.5H554.6V529.2H570.4V519.0H580.0V540.4H594.8V540.4H607.1V539.3H616.5V526.0H627.1V514.8H643.5V507.2H657.4V537.0H673.2V517.3H683.5V492.5H699.1V542.0H713.1V556.6H723.0V580.0H736.6V637.6H767.3V682.6H782.6" stroke="#fec92d"/>
<path d="M433.3,487.3H452.7V479.4H463.9V469.7H483.4V470.5H493.8V481.1H510.0V488.2H523.2V486.3H542.9V501.2H557.1V511.6H571.3V490.0H586.1V465.9H606.5V473.8H621.2V471.0H633.2V483.3H646.5V485.6H665.2V477.3H683.2V541.5H698.3V479.0H713.4V510.2H732.5V556.2H752.7V596.6H776.6V662.1H804.6V729.7H833.4V765.4H846.3" stroke="#fec92d"/>
<path d="M300.3,459.1H310.7V457.5H329.9V451.9H347.2V451.3H357.3V444.5H375.9V444.9H394.9V451.9H410.9V441.7H424.7V433.7H436.1V466.6H453.4V452.7H472.0V458.1H486.8V460.8H495.8V442.0H512.7V431.7H530.2V405.9H543.9V411.1H556.5V407.1H573.9V405.2H582.9V396.9H601.1V432.6H615.7V413.1H625.1V400.5H636.1V409.4H645.5V402.5H660.1V400.1H678.9V402.5H692.7V416.3H701.7V455.2H712.2V443.2H721.1V464.6H739.0V516.0H775.9V611.2H787.1" stroke="#fdc72c"/>
<path d="M376.6,523.6H392.4V539.5H411.8V529.3H427.2V527.7H443.9V526.4H461.2V550.4H474.2V583.0H491.6V574.8H501.6V567.7H519.1V541.2H531.5V552.1H548.1V540.9H557.5V535.3H569.8V530.4H587.8V511.9H599.5V503.4H612.5V515.1H626.4V531.8H644.3V555.2H658.6V572.6H673.6V557.2H692.9V543.2H703.8V568.5H722.7V593.4H746.8V624.9H768.9V653.2H779.4" stroke="#fdc72c"/>
<path d="M369.8,576.7H390.9V595.1H406.8V607.0H422.2V620.7H438.0V627.0H452.0V618.1H469.8V623.6H487.6V615.8H497.8V644.4H514.5V652.1H530.3V618.5H547.2V656.3H558.5V674.7H574.0V694.3H587.3V727.7H605.9V744.5H622.7V766.1H636.3V777.9H653.0V779.9H670.8V784.0H684.4V779.8H702.3V764.5H722.5V751.8H753.0V773.2H794.3V805.3H823.4V779.8H861.0V849.6H874.7" stroke="#fdc52c"/>
<path d="M313.5,482.3H328.8V475.7H341.6V475.6H357.4V474.3H367.3V485.7H379.9V478.5H394.6V493.2H405.3V485.3H416.7V476.3H432.3V474.8H447.6V467.3H465.2V470.0H481.0V472.8H497.7V455.7H515.8V470.2H527.2V455.5H540.8V459.6H551.0V459.0H559.8V471.7H577.2V451.7H588.9V446.4H602.7V423.9H611.9V418.0H628.1V425.1H646.0V389.7H662.3V379.3H680.7V390.3H690.7V412.3H702.5V382.5H712.3V434.5H712.6" stroke="#fdc42c"/>
<path d="M299.7,531.0H311.6V534.1H327.2V546.6H339.8V543.0H350.5V544.5H359.5V549.1H377.4V555.0H394.0V555.0H411.3V561.9H421.2V565.1H434.5V584.5H451.3V575.0H461.5V556.8H477.6V592.2H493.8V573.1H509.8V604.2H526.2V602.9H537.0V606.3H547.3V569.4H559.4V563.1H577.6V593.3H593.6V606.4H606.9V625.3H620.7V673.3H636.6V688.9H647.7V717.9H661.3V736.1H672.7V746.3H686.7V714.6H703.4V683.2H717.8V713.9H747.9V723.6H772.5V736.3H785.5" stroke="#fdc32c"/>
<path d="M318.5,515.8H328.9V517.2H342.8V515.2H360.5V506.0H376.1V514.0H385.6V519.6H404.2V531.1H421.8V525.1H432.9V533.4H445.4V529.7H459.3V536.4H472.9V527.6H484.9V524.5H495.3V539.9H508.3V531.3H525.5V525.5H542.3V522.9H551.1V510.2H560.4V545.0H575.8V524.7H587.9V523.6H604.1V518.7H620.6V510.4H631.7V508.0H642.8V465.9H652.1V519.9H665.9V518.2H677.9V508.8H694.6V528.3H705.1V524.7H714.2V533.7H729.5V592.5H755.6V629.9H782.8V684.9H818.1V729.4H842.0V759.3H860.4V813.9H896.6V829.2H930.9V862.0H957.1" stroke="#fdc22c"/>
<path d="M375.5,529.8H389.6V531.3H404.7V525.6H413.0V531.3H421.3V538.3H438.1V547.3H453.2V556.5H468.6V536.0H482.0V566.8H499.5V572.6H510.5V598.8H527.6V608.2H545.3V597.6H554.6V584.5H568.4V567.4H578.5V583.1H595.9V572.3H607.2V568.7H619.5V618.4H631.8V653.6H643.1V636.7H658.2V577.3H675.1V547.4H684.1V590.8H696.2V593.5H705.0V604.7H721.8V645.0H737.0V661.3H770.3V707.2H790.7V758.4H810.6" stroke="#fdc02c"/>
<path d="M329.1,533.7H347.0V535.8H360.8V546.0H372.1V560.0H390.3V549.2H411.4V562.6H422.8V555.8H443.8V551.9H455.8V549.9H478.6V568.2H494.7V580.0H509.3V557.9H530.1V589.4H549.3V615.3H561.3V641.5H585.4V613.7H599.9V614.0H623.6V643.7H645.3V668.1H665.2V643.0H681.0V618.6H696.3V604.9H715.3V570.7H733.7V606.5H755.1V640.3H788.3V682.9H803.4" stroke="#fcbf2c"/>
<path d="M455.3,626.6H474.9V634.0H491.4V659.6H514.0V656.5H536.3V678.6H558.9V698.1H577.3V719.5H598.3V719.1H618.8V746.7H640.7V755.0H659.1V759.9H675.4V773.9H695.3V758.3H715.7V751.8H749.1V757.4H787.6V759.2H808.6V758.3H838.8V772.8H870.2V805.2H891.3V886.4H900.5" stroke="#fcbf2c"/>
<path d="M339.8,520.4H352.0V513.0H363.3V527.9H376.3V542.3H394.9V534.2H408.7V538.0H419.0V548.6H433.6V552.2H454.6V557.6H466.9V549.2H486.6V573.2H506.4V575.8H518.9V561.9H531.7V578.2H551.7V557.0H565.7V549.9H581.9V560.7H598.0V588.3H615.3V610.5H630.2V590.1H650.0V562.2H664.5V539.2H678.8V551.2H698.2V599.4H716.1V591.3H736.9V604.1H752.3V642.8H771.3V677.2H806.3V726.4H845.4V728.5H866.2V692.6H887.2V693.4H897.2" stroke="#fcbc2b"/>
<path d="M296.6,512.3H313.9V514.5H327.7V508.3H336.1V499.0H345.3V503.2H355.6V512.1H369.4V501.8H385.0V510.1H401.4V498.2H417.0V520.0H426.8V530.3H442.4V536.4H451.4V548.3H464.6V559.4H474.2V543.5H488.4V544.5H497.7V548.1H512.8V560.2H529.4V552.6H545.6V528.3H561.4V548.3H577.2V523.0H589.1V512.3H604.1V538.6H612.3V539.4H621.8V536.1H630.7V594.1H646.9V547.9H662.2V529.3H673.0V521.1H681.8V514.1H691.2V511.6H704.6V537.0H721.2V552.4H738.3V563.0H754.1V618.8H775.6V669.0H806.2V731.4H830.2V803.6H862.4V822.1H883.9V832.1H888.6V915.9H898.3" stroke="#fcbb2b"/>
<path d="M328.7,478.2H344.0V492.6H361.0V487.1H383.8V476.1H404.0V479.3H422.6V467.1H438.1V465.3H459.6V454.5H482.6V428.2H505.6V453.2H523.1V457.4H539.8V454.2H555.4V472.6H577.6V451.4H592.8V440.9H614.6V446.3H632.2V442.2H655.6V439.7H670.8V412.0H685.5V409.0H708.0V411.4H727.0V447.0H744.8V527.9H781.0V518.5H799.7V585.5H800.6" stroke="#fcba2b"/>
<path d="M324.7,525.7H334.5V537.0H354.3V527.1H365.1V514.9H376.8V532.7H387.5V528.0H405.6V507.6H417.4V511.8H427.5V513.0H442.9V525.2H455.6V526.6H473.3V527.8H485.3V540.7H501.2V546.2H511.3V552.7H521.2V576.0H535.1V567.2H547.6V574.5H560.9V581.4H580.7V557.5H593.1V544.2H605.9V547.6H623.5V520.1H638.7V507.6H657.2V547.6H673.3V562.6H686.7V585.7H698.4V563.4H717.1V525.3H730.4V484.8H748.9V521.6H775.0V587.5H793.7V644.1H833.1V679.0H853.6V751.3H891.2V736.8H907.9V776.6H924.4" stroke="#fcb92b"/>
<path d="M259.3,515.9H272.0V516.5H284.9V523.0H298.4V519.3H313.6V520.6H329.8V520.5H347.6V524.6H363.2V542.2H383.8V537.6H405.6V529.1H420.9V523.3H432.6V525.4H452.1V536.7H471.9V548.3H489.4V523.9H501.1V518.3H514.1V531.7H534.0V551.4H553.1V551.0H569.0V536.2H587.4V539.3H604.6V544.1H623.3V532.7H638.5V540.0H657.1V560.9H672.1V587.2H691.0V635.6H710.9V607.1H722.6V566.9H741.6V597.9H769.5V611.5H794.6V648.5H825.0" stroke="#fcb72b"/>
<path d="M304.3,492.8H317.6V497.3H331.7V495.0H347.3V499.2H356.9V493.1H373.7V496.2H382.1V501.5H390.8V500.7H402.3V508.1H414.8V519.6H427.3V514.7H443.5V522.7H460.7V525.6H469.1V527.0H481.8V524.1H490.7V522.3H508.0V492.6H525.2V513.6H538.5V524.0H553.3V549.3H566.3V539.1H580.1V555.8H594.7V578.0H605.5V547.9H622.8V579.7H635.0V583.1H646.5V560.1H660.8V562.7H673.9V610.5H688.5V600.7H697.2V593.7H709.1V579.9H718.3V568.8H728.5V556.3H738.9V564.9H757.5V596.2H784.7V615.0H806.3V668.4H841.0V719.7H865.8V669.8H885.8V734.7H887.9" stroke="#fcb72b"/>
<path d="M315.4,526.8H327.9V528.6H342.7V528.2H354.6V532.8H365.8V535.7H379.2V548.8H392.2V547.2H401.2V549.9H412.1V559.7H426.4V545.3H442.5V537.2H459.1V551.3H472.2V544.5H489.4V519.8H506.1V538.1H516.8V576.8H526.3V550.5H540.5V558.3H552.7V568.0H563.6V595.6H580.3V619.4H597.2V588.8H612.1V594.7H623.3V599.2H637.5V590.2H649.7V561.5H660.5V592.3H671.6V638.8H682.4V574.0H696.5V586.5H709.6V594.4H723.9V628.6H749.2V631.7H770.1V645.8H796.2V668.4H813.7V689.1H845.9V670.0H877.4V639.3H886.8" stroke="#fcb72b"/>
<path d="M433.4,499.3H445.9V537.7H456.8V545.0H467.1V548.8H483.2V572.5H498.5V543.0H515.3V565.6H526.8V547.8H539.2V557.3H554.8V552.3H569.6V542.5H583.1V571.7H593.0V611.2H608.3V560.8H616.8V563.2H629.2V559.5H641.4V608.4H658.6V565.8H672.2V530.1H689.4V516.4H698.7V509.2H707.6V552.9H725.3V613.6H746.2V635.5H761.8V695.1H793.1V702.5H817.2V764.0H836.6V781.2H860.4V794.4H880.5V837.8H897.8" stroke="#fbb52b"/>
<path d="M337.0,498.6H350.2V495.9H364.1V475.4H374.5V480.6H387.6V506.0H396.0V512.1H409.2V507.5H425.7V519.0H437.2V518.6H453.1V531.1H464.1V503.8H477.0V508.2H491.5V483.1H506.6V489.0H520.0V479.3H530.1V496.3H538.0V499.9H549.5V507.4H559.0V521.9H571.6V540.3H580.5V518.8H589.4V519.2H598.9V479.0H610.4V491.1H618.3V524.0H629.4V591.6H643.7V602.7H652.2V537.6H665.8V536.8H677.4V507.7H688.4V557.3H702.3V533.9H713.2V548.0H721.9V617.3H754.5V590.5H768.6V591.3H786.0V626.5H817.3V630.2H836.8V660.1H851.7V698.8H879.3V717.5H908.4V735.4H939.7V731.1H943.4V812.6H947.3" stroke="#fbb22b"/>
<path d="M334.2,528.9H349.0V528.8H363.6V532.0H378.4V531.1H393.3V538.0H416.7V517.6H435.4V513.2H449.7V543.3H462.4V528.7H483.0V529.9H497.2V503.0H520.2V506.5H542.1V509.6H556.7V529.1H576.2V548.8H599.9V531.6H616.0V517.3H637.0V517.9H650.5V567.3H671.8V547.0H683.4V560.1H704.6V584.9H728.8V663.2H766.4V733.9H790.8V760.2H812.4V787.2H838.9" stroke="#fbb12a"/>
<path d="M284.3,457.5H304.7V455.1H316.7V459.7H328.7V462.2H346.0V458.0H365.1V464.0H376.5V454.8H387.9V455.2H406.4V446.2H421.0V443.2H431.7V461.4H444.3V438.2H456.2V443.2H467.3V440.4H479.7V442.9H498.7V445.4H510.3V454.0H529.2V418.9H541.0V411.8H562.0V427.4H579.4V412.9H591.5V418.2H602.4V443.7H616.5V433.9H629.2V435.3H642.8V423.4H654.8V424.8H672.9V430.5H694.1V395.2H708.4V402.3H729.3V486.1H743.8" stroke="#fbb02a"/>
<path d="M351.9,535.9H375.3V531.4H394.0V536.8H413.9V544.3H430.5V542.7H445.1V532.6H462.6V538.8H483.3V579.7H501.8V586.4H514.6V581.0H526.4V624.8H549.7V630.8H572.3V614.2H584.2V637.6H605.3V648.5H619.0V665.9H633.7V650.6H647.3V623.2H658.5V599.8H671.9V615.6H688.8V582.9H703.6V627.5H723.3V635.6H735.0V697.9H779.1V756.0H814.7V787.4H861.6V819.8H901.6V820.4H943.3V855.8H946.3" stroke="#fbaf2a"/>
<path d="M269.9,500.2H286.1V487.6H299.8V492.0H308.7V488.7H323.8V486.0H333.6V481.5H344.6V469.4H358.5V476.5H376.9V478.7H389.8V499.6H408.4V493.8H419.6V502.8H433.9V481.5H450.6V486.2H465.0V458.9H478.5V457.8H488.7V454.8H497.5V482.6H512.5V466.6H523.5V446.0H541.4V462.8H553.5V464.0H562.5V445.9H581.1V440.5H593.3V460.1H602.9V473.5H620.1V488.3H632.5V490.6H650.2V506.3H661.3V480.3H679.6V436.2H690.7V462.8H709.3V536.4H727.6V605.1H747.6V618.1H771.6V650.7H798.8V674.3H818.2V705.2H836.7V757.3H866.0V791.6H882.2V830.9H912.4V847.3H931.8V896.6H944.1" stroke="#fbaf2a"/>
<path d="M202.1,497.4H222.6V498.2H235.9V501.9H256.7V504.3H276.2V507.2H292.7V506.2H310.4V497.6H326.5V507.6H337.8V513.9H352.8V510.2H364.4V497.8H383.9V480.6H407.0V483.6H430.9V497.5H451.5V496.9H467.4V501.7H481.4V489.2H494.5V508.0H508.5V521.2H523.6V526.6H542.8V511.6H562.1V497.1H582.7V501.3H604.6V503.8H628.3V541.6H646.0V533.5H663.5V564.0H675.4V575.6H686.9V550.3H698.9V513.4H719.2V553.3H731.5V578.7H750.7V629.7H779.6V686.0H788.9" stroke="#fbaf2a"/>
<path d="M333.1,499.8H348.6V487.0H362.8V490.7H375.5V497.1H385.5V493.7H399.7V507.7H412.0V501.7H431.7V491.7H443.8V490.6H459.7V495.5H472.5V506.1H486.4V473.3H503.9V498.8H517.0V482.9H535.6V489.8H547.4V470.1H562.0V460.1H579.9V481.4H598.9V515.1H613.8V547.5H631.5V529.9H650.1V543.0H664.7V520.0H674.8V501.5H690.9V553.3H703.9V559.9H715.9V564.7H729.5V527.9H740.0V536.9H751.9V518.2H768.1V543.9H784.4V575.9H805.0V612.6H828.2V637.0H850.4V700.1H872.0V703.4H902.1V728.9H931.9" stroke="#fbae2a"/>
<path d="M397.1,539.1H406.3V559.1H416.1V561.8H425.3V544.0H437.7V540.1H452.5V528.0H462.2V524.8H477.0V559.8H487.6V552.1H496.9V570.8H504.6V587.4H518.9V579.9H532.0V582.1H545.6V562.7H560.3V565.0H573.9V577.0H585.4V561.0H598.3V568.8H606.1V596.9H617.5V609.2H631.2V601.0H639.7V619.2H649.7V633.0H665.9V587.5H681.7V620.5H691.8V585.9H699.8V582.6H714.3V622.0H729.3V604.5H741.6V643.2H768.8V650.2H794.5V664.5H816.0V701.5H832.2V736.7H852.4V909.5H863.9" stroke="#fbae2a"/>
<path d="M336.0,506.4H355.8V503.0H365.8V509.6H378.1V494.0H396.5V494.7H415.2V484.3H433.6V499.1H451.8V479.4H466.8V473.2H477.1V468.4H496.7V501.5H514.0V486.5H526.9V479.7H546.2V481.7H560.3V469.3H575.0V493.6H587.1V474.2H601.1V448.4H618.3V446.3H633.6V482.3H652.9V478.1H662.4V499.5H680.1V554.6H696.6V548.7H710.3V585.8H729.2V616.2H746.7V615.0H762.8" stroke="#fbae2a"/>
<path d="M404.1,492.1H419.7V478.7H442.6V467.1H462.5V463.4H473.6V466.3H492.8V447.2H513.3V448.6H524.6V444.1H540.4V437.3H562.3V454.4H573.8V461.3H587.0V474.3H604.5V479.2H615.9V480.9H636.1V477.2H659.3V447.2H671.8V455.0H692.6V466.1H710.0V453.2H731.8V544.5H759.5V643.7H799.0V626.7H822.8V665.8H856.7V680.1H883.1V721.2H914.2V719.2H938.9V744.7H968.5V784.6H970.9" stroke="#fbad2a"/>
<path d="M253.1,488.9H268.0V483.6H282.8V476.7H303.4V482.4H318.3V490.7H333.4V485.5H344.0V485.1H362.0V481.9H376.9V481.2H397.9V491.1H412.4V491.7H426.1V480.4H438.7V497.7H457.6V478.2H473.3V474.9H492.6V477.4H513.9V479.2H527.0V476.6H549.4V487.7H570.6V495.2H592.7V507.7H607.1V493.1H628.7V487.2H645.9V466.4H658.2V485.9H679.1V495.3H692.9V485.7H708.9V493.0H723.5V551.1H758.6V608.2H799.2V631.4H826.8V692.0H858.5V719.6H883.0V751.5H892.2" stroke="#faac2a"/>
<path d="M416.4,563.6H427.1V558.7H444.4V576.3H455.3V591.1H464.2V612.3H475.9V606.3H488.0V612.6H502.3V606.9H519.4V599.2H535.9V608.8H550.7V631.2H563.9V649.1H576.8V673.5H590.5V677.4H602.7V669.3H618.9V637.1H632.3V655.9H642.6V642.0H659.7V628.6H672.7V649.7H685.2V665.8H698.0V684.0H706.5V690.0H719.8V694.0H728.1V749.7H752.5V772.5H768.6V776.8H772.0" stroke="#faaa2a"/>
<path d="M351.3,569.8H362.9V579.8H376.9V578.4H389.5V575.8H402.6V593.9H421.8V589.2H439.8V580.6H453.6V589.9H462.9V622.9H476.7V653.5H487.0V661.4H501.6V673.6H520.7V660.5H531.2V650.6H547.2V634.3H560.9V659.9H577.0V709.5H588.6V710.7H602.5V707.5H621.5V741.3H632.8V753.4H646.8V771.4H660.2V765.1H677.7V750.8H694.7V763.4H708.1V732.0H722.5V706.4H736.2V722.1H748.3" stroke="#faa92a"/>
<path d="M434.7,527.3H451.9V545.0H469.7V535.9H482.5V542.6H498.9V503.3H510.9V505.2H528.2V500.5H538.8V494.4H554.3V492.8H570.3V482.5H581.3V482.9H599.6V511.0H616.8V526.0H627.5V513.3H642.5V489.5H652.0V508.8H667.1V537.2H681.8V537.3H696.4V517.5H710.9V532.3H722.9V601.8H742.4V675.1H767.3V733.5H790.1V746.3H806.1V750.9H829.4V793.3H869.3V833.1H905.1V830.7H928.7" stroke="#faa82a"/>
<path d="M259.1,508.5H275.9V515.8H292.2V523.4H303.9V523.1H319.0V509.9H331.4V521.3H350.5V527.8H366.8V532.3H389.3V530.1H406.6V507.6H428.9V522.8H450.1V497.8H464.7V495.3H478.3V511.5H495.3V501.0H508.4V501.1H526.7V522.4H550.6V507.8H570.5V525.3H585.8V531.9H608.2V543.9H627.0V557.6H641.3V566.6H654.0V561.0H669.3V568.9H687.0V534.7H700.5V519.9H722.9V578.6H768.1V659.3H788.1V682.5H836.5V723.0H886.4V751.5H928.7V782.7H960.5V822.0H975.3V921.9H980.9" stroke="#faa82a"/>
<path d="M228.6,499.8H246.2V507.9H263.6V518.0H278.5V512.9H287.3V507.4H304.2V504.4H314.3V490.6H330.9V485.4H346.7V478.8H364.3V479.5H378.6V493.0H389.4V494.2H405.3V494.3H422.8V493.4H439.2V499.2H453.9V506.1H467.4V522.3H476.0V513.2H489.4V498.7H501.6V478.0H512.9V477.6H524.9V481.5H539.0V470.8H552.5V491.7H566.0V513.4H575.1V515.4H587.6V561.6H599.9V532.1H613.1V570.7H625.3V590.3H635.3V563.4H648.9V573.2H660.7V592.4H670.9V583.6H686.9V581.5H701.5V603.7H710.3V610.9H722.6V612.7H746.7V630.1H771.6V677.7H774.5" stroke="#faa72a"/>
<path d="M302.4,526.1H322.2V514.9H342.3V504.3H353.4V511.9H366.4V518.4H381.5V526.2H400.9V534.2H418.4V516.6H434.0V526.8H452.6V521.0H467.2V506.9H478.9V529.9H488.7V544.1H508.5V568.3H521.2V561.3H531.0V556.4H544.9V546.5H563.5V560.9H574.4V575.1H584.0V558.3H596.8V553.1H614.6V562.9H634.6V541.5H648.5V616.6H662.5V631.8H677.1V593.7H689.2V608.1H699.2V611.7H716.8V591.9H730.3V593.3H740.2V609.5H780.7V596.2H797.6V633.0H835.2V686.8H851.6V834.2H856.2" stroke="#faa529"/>
<path d="M290.1,508.4H310.9V508.2H321.5V493.9H341.0V500.9H360.7V504.9H381.5V505.2H398.3V496.9H419.1V506.9H440.4V522.9H463.1V522.9H474.1V550.2H493.1V558.3H507.9V575.8H518.9V573.3H541.5V562.5H558.1V559.5H575.7V532.4H597.5V495.6H611.9V547.3H626.3V578.1H642.8V581.1H659.6V553.4H680.6V522.7H691.6V500.7H706.4V541.3H736.3V599.5H760.0V618.2H800.4V645.4H835.7V687.4H869.2V673.4H891.9" stroke="#faa529"/>
<path d="M286.9,509.6H300.6V488.8H310.8V500.2H332.7V501.4H351.3V505.6H363.3V509.2H378.6V504.7H398.5V501.4H415.1V512.1H425.9V516.9H443.6V507.5H465.3V494.6H478.9V511.4H491.6V493.8H502.2V495.4H514.3V503.6H526.6V509.3H538.5V523.6H556.4V506.0H569.3V519.6H586.0V512.1H604.8V514.1H615.1V477.3H631.7V457.0H652.5V445.1H668.5V452.9H683.2V493.9H702.5V496.1H713.1V495.8H730.9V528.7H749.6V591.5H784.2V650.5H819.4V668.2H829.4" stroke="#f9a329"/>
<path d="M265.6,522.6H278.1V526.6H295.3V526.4H313.6V526.9H334.0V537.5H351.2V538.7H363.0V529.7H383.9V544.9H399.5V560.2H413.2V561.8H435.5V572.1H458.5V555.5H472.2V582.6H495.6V558.5H516.6V581.0H536.4V584.1H559.7V577.5H576.7V596.1H594.7V602.5H610.0V620.8H633.2V620.5H654.5V614.2H674.0V616.2H694.0V596.1H705.6V624.1H725.4V635.1H744.9V668.4H790.0V699.5H806.5" stroke="#f9a229"/>
<path d="M445.3,505.2H456.2V500.8H475.4V516.2H494.1V523.6H508.9V518.3H523.6V520.0H532.9V517.0H544.0V517.1H559.7V528.1H569.1V560.2H581.5V552.3H594.2V518.2H605.8V500.3H615.3V482.9H633.7V491.8H646.2V518.0H660.9V518.4H678.5V549.9H695.5V541.8H707.5V598.2H723.7V559.8H732.9V518.5H743.1V553.8H777.8V624.1H809.1V643.0H846.6V697.4H876.6V711.4H915.2V749.7H949.6" stroke="#f9a029"/>
<path d="M456.8,537.7H478.7V531.6H499.3V540.0H513.9V537.7H535.9V542.1H553.9V527.3H567.4V543.2H581.2V567.6H602.7V580.7H621.7V582.9H643.7V555.4H663.4V545.8H680.2V609.5H695.6V599.7H711.0V668.0H756.4V688.3H782.2V704.1H821.8V740.8H849.4V773.1H889.6V814.9H918.7V833.5H927.4V914.1H931.4" stroke="#f99f29"/>
<path d="M288.0,519.4H305.9V511.0H324.2V516.3H342.5V525.2H358.0V518.9H370.3V522.0H384.9V516.0H404.7V517.8H421.7V513.5H440.5V514.0H455.4V514.9H468.8V518.4H487.0V504.0H504.1V501.0H517.0V502.6H530.6V504.9H547.1V551.0H565.5V564.8H586.5V544.0H598.4V551.1H617.4V553.2H636.8V559.1H651.8V576.3H666.8V551.1H685.6V566.4H698.0V547.7H716.1V510.6H731.4V576.0H775.6V631.9H819.3V667.7H821.9" stroke="#f99f29"/>
<path d="M366.2,497.1H378.7V496.3H393.0V504.9H406.8V503.1H420.2V494.4H437.1V486.7H450.9V499.9H468.5V507.8H486.4V512.8H495.6V514.8H508.8V506.3H519.1V508.7H536.1V513.7H551.0V538.5H560.8V525.9H576.0V515.8H585.6V485.9H594.7V492.6H609.5V517.9H623.1V516.8H636.1V521.8H650.1V531.6H666.0V521.8H675.7V528.9H694.3V525.4H706.0V541.9H716.1V605.1H750.0V671.0H764.5" stroke="#f99d29"/>
<path d="M454.2,537.0H463.5V542.7H477.3V533.0H490.5V552.5H502.7V538.3H512.1V526.6H523.8V566.1H534.0V548.9H549.5V573.8H557.7V560.8H571.6V576.4H581.2V586.3H592.0V561.9H601.5V569.3H613.7V601.7H628.4V582.7H640.2V575.7H650.5V595.1H664.4V554.1H680.6V574.0H696.2V550.3H710.5V597.2H723.1V570.5H736.6V605.0H749.4V659.0H751.0" stroke="#f99b28"/>
<path d="M275.1,527.2H290.8V530.5H307.5V527.4H325.1V521.0H341.7V519.9H351.8V535.5H366.0V523.8H377.1V535.0H388.1V518.6H399.3V524.3H413.6V530.7H426.3V530.9H439.6V549.7H456.4V533.7H470.0V537.3H482.9V551.7H495.9V568.6H514.6V568.2H525.3V597.1H543.7V587.1H558.3V589.9H576.7V562.2H592.3V575.1H613.6V569.3H628.5V549.1H639.4V595.0H654.8V601.0H670.7V592.5H684.7V559.7H700.1V573.1H709.5" stroke="#f89b28"/>
<path d="M252.4,507.6H267.2V500.1H279.0V496.0H292.9V497.4H309.3V508.8H327.9V508.1H345.6V507.2H359.6V514.7H381.8V522.9H400.4V520.7H413.7V518.0H434.9V518.6H451.5V529.2H472.8V544.4H485.6V531.2H496.0V544.6H515.1V546.6H526.8V537.4H542.8V537.9H564.1V538.8H581.7V531.0H603.0V543.8H625.3V545.7H641.2V532.1H653.6V510.9H673.3V502.1H690.6V490.6H710.9V503.2H726.3V513.8H737.3V517.0H766.5" stroke="#f89a28"/>
<path d="M391.9,506.0H412.0V499.9H425.5V518.0H436.2V509.3H447.5V519.4H465.6V526.4H484.9V564.8H498.1V568.2H512.9V559.6H529.2V548.8H549.0V547.9H563.4V556.5H581.5V586.6H594.9V598.4H611.6V578.4H621.8V604.1H638.9V589.2H651.2V617.0H665.2V558.1H686.2V541.9H703.3V554.4H713.6" stroke="#f89828"/>
<path d="M291.3,534.8H316.0V529.4H329.0V537.2H345.6V542.1H369.7V547.4H393.3V563.9H408.6V565.4H431.0V572.7H450.1V560.6H474.8V577.7H497.9V579.5H517.5V561.0H534.1V558.4H551.9V566.6H567.0V565.0H580.6V558.0H600.3V570.4H617.1V544.8H629.8V573.1H642.1V571.1H667.1V584.3H683.2V601.1H702.5V642.3H722.1V650.7H734.4V703.7H750.6" stroke="#f89628"/>
<path d="M290.2,502.9H305.7V495.0H318.2V483.1H327.3V489.2H341.2V485.3H351.1V492.0H364.4V492.6H375.5V497.0H389.5V475.1H399.5V467.2H415.0V482.4H428.3V484.8H436.8V477.7H447.6V474.9H458.9V488.1H469.7V493.6H485.5V478.7H500.1V452.4H515.3V453.7H525.9V497.6H538.2V480.5H550.8V465.9H565.2V463.9H580.7V495.8H593.8V481.7H602.1V480.6H617.3V494.3H632.4V496.6H647.4V483.0H658.4V463.1H670.3V483.7H685.5V505.5H699.4V531.6H709.8V547.6H717.7V499.8H725.9V477.7H741.3V465.2H754.3V503.5H768.7V539.3H792.6V521.2H807.8V563.2H834.7" stroke="#f89628"/>
<path d="M250.4,495.4H263.9V492.1H277.2V496.4H287.6V500.5H303.9V504.8H318.4V501.2H328.5V495.4H341.3V499.3H362.2V493.2H373.3V479.6H387.2V479.7H401.2V487.6H413.5V475.0H434.8V484.5H451.0V472.5H467.6V469.6H484.3V471.6H496.7V493.9H517.0V473.1H534.8V495.1H553.6V498.9H569.8V503.5H583.5V508.0H595.0V522.2H616.2V510.0H636.6V508.6H652.9V488.6H664.5V456.4H684.8V426.3H701.6V442.2H720.0V472.6H747.0V514.3H760.9" stroke="#f89528"/>
<path d="M389.9,537.2H401.4V531.7H414.7V520.3H424.3V525.6H439.1V506.2H453.1V524.5H465.2V529.9H480.8V521.4H494.9V568.7H509.2V571.0H520.7V564.6H530.0V566.4H541.6V573.8H549.3V561.9H556.8V587.6H572.4V578.4H584.7V545.3H596.2V522.2H609.1V509.7H619.6V510.0H634.5V523.7H647.0V541.5H654.9V565.9H664.5V575.4H679.8V596.8H693.1V578.5H701.6V575.5H713.5V620.9H728.7V647.1H741.8V670.4H758.2V690.1H776.7V719.2H789.3V750.4H810.5V776.9H828.7V803.2H842.4V805.0H854.8V814.5H869.1V826.9H882.2V854.1H906.2V844.9H926.0V883.0H938.9" stroke="#f89428"/>
<path d="M289.9,559.3H303.4V569.6H321.6V571.2H332.9V571.2H348.3V568.6H360.7V577.5H371.5V570.6H383.3V576.3H401.5V588.3H417.8V581.8H428.5V565.3H444.4V572.1H457.4V579.9H471.2V592.8H485.4V620.7H501.5V617.2H518.9V624.7H538.8V641.4H550.9V628.5H561.2V655.1H574.1V663.9H594.0V671.0H607.3V663.1H622.5V686.4H632.8V701.5H647.8V748.6H663.9V765.6H680.9V726.0H695.0V735.1H708.8V778.1H731.3V823.7H756.0V864.5H773.3V876.8H801.2V911.6H824.0V887.5H845.6V898.2H865.7V888.7H901.2V888.4H924.9V920.7H939.4V878.7H950.6" stroke="#f79228"/>
<path d="M272.0,510.2H281.7V512.1H298.8V504.4H316.0V505.7H325.3V515.4H336.5V515.0H350.1V503.4H363.3V506.1H380.1V505.5H396.9V519.6H410.0V522.8H427.1V524.8H440.1V523.2H457.6V520.4H475.3V517.7H494.2V515.2H507.8V507.8H521.3V528.4H531.9V497.6H545.4V501.5H559.6V527.2H577.0V545.4H595.2V536.2H606.2V544.0H622.1V520.6H638.6V496.5H656.0V495.7H670.3V526.4H684.2V527.4H695.9V489.7H715.3V520.4H725.6V521.4H740.2V526.5H755.4V538.5H773.0V576.9H809.7V584.1H827.4V607.2H860.3V634.0H898.2V676.6H902.8" stroke="#f79228"/>
<path d="M278.3,503.8H293.1V508.8H309.2V507.9H320.7V514.7H332.2V520.9H350.8V520.9H371.1V504.1H390.1V530.5H405.5V541.9H417.0V554.4H428.5V552.2H449.9V539.2H460.7V570.9H470.9V569.5H491.4V557.0H508.5V568.5H520.6V577.7H541.1V576.4H554.8V586.6H574.5V593.4H590.8V559.4H607.9V549.8H626.8V554.3H638.9V565.0H649.4V593.3H659.4V568.7H674.3V585.7H692.4V578.5H708.9V545.6H729.5V593.7H756.5V652.4H796.7V689.3H813.4V741.8H847.1V748.3H858.7V865.8H871.6" stroke="#f79228"/>
<path d="M309.4,513.8H331.6V514.8H347.4V508.6H360.8V506.0H378.6V506.6H393.1V491.6H405.4V494.2H422.8V501.9H443.4V502.3H465.5V522.5H488.3V518.8H505.9V522.7H517.5V508.6H539.6V511.0H562.0V500.8H579.3V503.4H603.0V519.4H616.8V532.6H638.8V550.9H652.5V548.2H676.3V560.0H691.2V503.4H706.9V520.0H723.1V504.8H735.9V529.2H748.1V573.2H773.3V629.5H795.8V686.0H819.5" stroke="#f68e27"/>
<path d="M262.8,512.9H271.2V513.6H284.9V512.7H296.9V515.0H311.4V510.0H324.5V518.1H341.6V511.1H353.0V500.4H362.3V501.4H377.7V487.7H386.2V483.5H403.6V486.2H416.9V493.9H433.2V505.2H441.9V524.7H453.6V524.6H464.1V522.7H478.6V534.1H490.2V522.7H499.2V524.0H512.3V532.8H522.1V550.8H538.0V559.6H552.0V566.6H567.3V577.7H582.1V544.8H599.3V520.2H609.6V532.0H618.0V540.2H626.7V559.1H642.7V533.2H653.1V519.7H669.5V532.2H678.9V545.3H689.9V537.7H701.2V561.3H710.6V576.5H719.3V655.1H746.5V693.3H778.5V713.3H802.3V748.4H814.9" stroke="#f68c27"/>
<path d="M277.6,522.9H302.0V521.6H324.9V539.4H336.7V543.7H354.5V543.0H368.0V539.8H389.0V548.8H408.8V532.9H420.4V531.7H441.6V540.0H455.1V554.0H467.7V568.8H484.3V552.5H498.5V548.4H515.9V547.0H535.1V568.2H550.5V601.2H568.6V565.9H585.6V577.8H605.8V590.1H623.9V597.8H645.7V615.4H658.6V580.9H672.2V577.6H684.3V602.6H697.5V592.7H720.7V666.9H755.9V707.6H789.1V751.4H817.7V728.5H850.4V766.1H868.7" stroke="#f58927"/>
<path d="M457.1,552.2H467.5V590.6H483.3V589.3H498.9V598.0H514.7V579.4H524.6V596.6H537.1V595.8H547.1V569.2H556.6V583.0H568.5V596.7H577.1V593.6H589.9V586.6H604.9V570.6H620.4V568.2H628.8V574.5H640.9V595.2H651.1V574.5H660.4V602.3H669.5V622.8H684.8V617.6H700.5V604.0H713.8V612.1H723.6V619.4H738.1V631.9H746.3V646.0H747.6" stroke="#f58927"/>
<path d="M266.9,493.5H290.3V502.2H312.8V511.3H336.0V510.5H351.3V511.6H366.3V513.6H389.6V489.4H402.3V483.8H424.8V482.2H438.3V480.3H454.3V503.4H466.5V507.7H489.9V522.2H506.8V513.1H526.5V513.0H541.7V504.6H555.6V494.2H567.9V485.2H584.4V460.8H607.6V464.0H627.0V458.6H640.1V466.9H652.6V499.7H672.5V484.1H694.4V465.1H714.3V482.2H736.7V496.0H761.8V531.7H793.1V644.1H842.4V695.6H883.6V761.9H928.8V765.4H943.9" stroke="#f58827"/>
<path d="M320.0,560.2H332.5V566.6H347.2V568.9H358.9V573.2H369.3V571.1H386.5V574.0H403.7V582.8H416.8V587.1H431.4V594.2H448.9V602.6H465.6V602.7H483.4V616.9H500.7V611.0H513.0V619.4H529.1V638.6H544.9V638.4H557.4V636.4H571.6V623.5H585.2V634.8H597.1V669.2H610.3V675.4H627.1V675.6H638.8V737.0H649.9V721.7H667.6V683.8H681.9V679.9H691.8V684.7H707.2V668.8H720.2V710.4H730.7V696.5H748.3V744.9H781.9" stroke="#f58827"/>
<path d="M294.3,555.8H315.7V568.3H333.7V569.4H350.2V578.0H369.4V572.2H381.0V566.5H392.3V576.8H404.4V579.1H416.0V573.0H437.2V604.3H452.7V608.4H474.9V629.2H491.2V630.6H508.4V658.2H525.2V663.7H535.6V651.5H552.6V667.6H570.8V684.6H587.2V695.6H600.5V699.6H617.3V736.6H635.3V726.6H647.0V679.4H663.5V704.3H682.5V717.8H701.3V714.6H716.2V719.1H731.8V784.5H774.4V786.2H814.3V755.5H818.5" stroke="#f58527"/>
<path d="M340.9,538.2H356.9V535.0H369.0V550.4H380.9V555.1H393.4V560.5H406.4V562.9H417.7V564.8H430.6V562.7H452.8V567.9H470.4V605.1H483.7V611.1H495.7V615.5H516.7V596.1H540.5V604.6H556.8V635.9H568.9V662.1H591.6V646.6H613.9V678.9H634.9V705.8H652.4V703.4H668.2V680.4H685.1V643.2H697.9V641.9H720.0V680.0H761.8V706.7H804.7V762.5H845.4V797.0H876.5V815.6H884.0" stroke="#f47f26"/>
<path d="M313.3,527.7H325.7V520.7H344.3V520.3H360.7V529.4H374.3V539.1H391.5V555.5H410.3V560.5H429.4V564.7H441.9V586.3H458.3V600.9H479.4V598.8H493.7V598.5H509.8V593.4H530.0V598.1H542.2V614.4H561.5V600.3H580.1V580.0H598.7V598.1H617.5V613.4H634.6V650.7H652.5V677.0H671.1V680.0H695.1V674.5H712.2V635.5H736.7V667.8H755.7V719.9H804.1V722.9H843.2V771.0H886.7V791.4H915.5" stroke="#f37e26"/>
<path d="M317.5,531.3H331.0V522.3H355.8V523.2H379.2V519.7H404.1V524.6H422.5V518.3H446.6V499.1H458.6V507.0H479.4V529.5H499.0V511.0H515.9V513.8H536.4V496.3H550.0V511.6H567.9V519.2H587.8V516.4H608.2V529.1H625.0V575.4H643.7V571.3H656.5V514.4H676.3V516.0H701.5V556.1H725.3V626.7H772.2V700.9H818.2V777.2H842.1" stroke="#f37a26"/>
<path d="M261.3,500.9H282.4V486.0H299.8V493.3H314.1V494.8H335.0V506.5H345.8V494.7H366.1V518.7H379.7V513.8H393.8V507.4H415.1V502.8H434.5V498.7H452.6V515.7H467.2V499.1H479.3V499.7H490.8V493.3H501.6V493.5H520.5V505.8H535.7V506.0H552.3V520.7H573.1V493.8H591.9V483.5H602.2V500.7H619.1V501.6H634.2V537.7H654.4V557.6H674.0V530.5H691.5V523.7H710.4V538.8H727.1V563.0H747.2V595.4H790.2V610.7H813.2V617.7H848.0V624.3H886.9V629.9H905.0V607.5H925.6V641.5H932.3V745.9H942.5" stroke="#f27525"/>
<path d="M284.8,489.8H296.2V485.8H318.0V495.6H330.3V500.5H345.6V478.7H362.2V494.4H381.2V501.9H403.0V481.4H419.8V459.8H434.5V462.8H456.9V484.3H474.1V473.1H485.7V477.4H504.9V475.8H520.8V461.6H540.1V466.5H552.3V480.8H566.7V472.1H583.9V471.9H602.5V492.1H620.1V496.9H642.3V483.7H659.8V502.8H680.5V482.4H699.6V462.6H719.0V433.0H742.7V556.4H790.2V620.8H816.9V698.5H824.0" stroke="#ee6224"/>
<path d="M262.1,538.5H273.6V545.1H289.6V539.1H304.9V544.8H316.4V544.0H332.5V540.0H347.2V550.0H356.4V554.8H367.3V554.7H380.4V572.1H393.5V578.8H404.5V596.0H416.4V592.9H425.7V593.9H436.0V592.4H445.2V574.7H457.2V593.8H472.1V613.0H482.7V622.7H491.4V620.5H499.5V633.3H508.4V608.4H520.3V630.2H535.0V632.8H543.0V637.0H553.2V672.4H567.6V679.3H580.4V661.1H594.9V657.3H610.5V676.9H625.4V683.7H636.1V698.0H650.9V655.0H663.4V633.7H676.1V635.1H692.8V633.5H708.9V684.0H720.2V653.6H733.1V666.5H756.5V713.5H789.8V737.3H813.1V750.7H841.0V776.0H867.4" stroke="#ee6124"/>
<path d="M295.6,526.3H315.0V531.2H336.8V525.0H347.2V540.7H359.8V538.7H371.4V537.5H382.5V544.4H399.8V547.7H415.0V565.3H432.5V574.5H452.7V561.5H473.6V573.6H488.9V587.5H509.6V566.5H522.7V579.3H541.4V583.6H560.1V588.9H575.7V590.2H593.1V587.8H615.0V608.7H629.9V600.6H650.8V563.7H665.8V519.7H683.1V519.9H694.5V529.3H706.4V519.6H719.9V550.4H735.3V593.5H767.6V600.7H775.1" stroke="#ec5523"/>
<path d="M339.9,567.4H364.2V574.3H385.6V584.5H401.8V584.9H416.6V587.3H433.5V586.7H452.2V581.9H474.4V590.5H494.2V602.9H518.2V628.8H538.1V638.4H558.4V635.4H580.1V625.0H592.0V613.6H604.4V647.5H627.5V668.2H643.7V661.3H661.0V654.0H682.8V676.6H698.0V680.8H711.4V709.7H724.2V747.4H745.3V746.1H790.5V777.2H820.8V778.6H843.6V756.9H852.2V835.9H859.7" stroke="#e63420"/>
<path d="M439.7,619.8H453.5V637.1H471.0V654.1H487.1V663.7H505.8V659.3H521.3V675.3H537.6V685.6H552.6V685.5H567.5V679.4H577.8V703.4H588.1V713.5H599.2V730.1H614.1V745.5H628.3V750.5H645.2V755.4H663.5V776.5H678.1V758.0H696.2V753.0H713.5V708.7H729.2V732.9H748.0V740.7H774.0V741.7H804.6V741.7H827.4" stroke="#e21e1e"/>
<path d="M194,493.7 H212 V503 H233 V510.7 H252 V512 H272 V509 H292 V515 H312 V520 H330 V516 H350 V524 H368 V530" stroke="#E3231E"/>
<path d="M263,498 H284 V491 H306 V486 H328 V475 H348 V448 H370 V421 H391 V408 H413 V440 H436 V558 H458 V575 H478 V590 H496 V602" stroke="#E3231E"/>
<path d="M470,628 H490 V640 H508 V652 H526 V668 H545 V690 H553.7 V699 H564.7 V710 H583 V724.8 H599.5 V741.3 H616 V754 H630.7 V767 H647 V772.5 H663.8 V768.8 H680 V761.5 H700 V745 H716 V730 H728" stroke="#E22A1F"/>
<path d="M812,700 H841 V543 H865 V498 H896.5 V624.7 H939 V773 H950 V860" stroke="#F08A28"/>
<path d="M850,560 H865 V511.6 H905.8 V847 H925" stroke="#F5A030"/>
<path d="M915,640 H946.6 V921" stroke="#F39530"/>
<path d="M880,870 H930 V906.5 H974.4 V928.8 H1007.7 V888" stroke="#FFD733"/></g>
<path d="M194.0,323.5 L197.0,332.4 L200.0,341.0 L203.0,349.1 L206.0,356.9 L209.0,364.4 L212.0,371.5 L215.0,378.3 L218.0,384.9 L221.0,391.1 L224.0,397.0 L227.0,402.7 L230.0,408.2 L233.0,413.4 L236.0,418.4 L239.0,423.1 L242.0,427.7 L245.0,432.0 L248.0,436.2 L251.0,440.2 L254.0,444.0 L257.0,447.7 L260.0,451.2 L263.0,454.5 L266.0,457.7 L269.0,460.7 L272.0,463.7 L275.0,466.5 L278.0,469.1 L281.0,471.7 L284.0,474.1 L287.0,476.5 L290.0,478.7 L293.0,480.9 L296.0,482.9 L299.0,484.9 L302.0,486.8 L305.0,488.6 L308.0,490.3 L311.0,492.0 L314.0,493.5 L317.0,495.1 L320.0,496.5 L323.0,497.9 L326.0,499.2 L329.0,500.5 L332.0,501.7 L335.0,502.9 L338.0,504.0 L341.0,505.1 L344.0,506.1 L347.0,507.1 L350.0,508.0 L353.0,508.9 L356.0,509.8 L359.0,510.6 L362.0,511.4 L365.0,512.1 L368.0,512.8 L371.0,513.5 L374.0,514.2 L377.0,514.8 L380.0,515.4 L383.0,516.0 L386.0,516.6 L389.0,517.1 L392.0,517.6 L395.0,518.1 L398.0,518.6 L401.0,519.1 L404.0,519.5 L407.0,519.9 L410.0,520.3 L413.0,520.7 L416.0,521.0 L419.0,521.4 L422.0,521.7 L425.0,522.0 L428.0,522.4 L431.0,522.6 L434.0,522.9 L437.0,523.2 L440.0,523.5 L443.0,523.7 L446.0,523.9 L449.0,524.2 L452.0,524.4 L455.0,524.6 L458.0,524.8 L461.0,525.0 L464.0,525.2 L467.0,525.4 L470.0,525.5 L473.0,525.7 L476.0,525.8 L479.0,526.0 L482.0,526.1 L485.0,526.3 L488.0,526.4 L491.0,526.5 L494.0,526.7 L497.0,526.8 L500.0,526.9 L503.0,527.0 L506.0,527.1 L509.0,527.2 L512.0,527.3 L515.0,527.4 L518.0,527.5 L521.0,527.5 L524.0,527.6 L527.0,527.7 L530.0,527.8 L533.0,527.8 L536.0,527.9 L539.0,528.0 L542.0,528.0 L545.0,528.1 L548.0,528.2 L551.0,528.2 L554.0,528.3 L557.0,528.3 L560.0,528.4 L563.0,528.4 L566.0,528.5 L569.0,528.5 L572.0,528.5 L575.0,528.6 L578.0,528.6 L581.0,528.6 L584.0,528.7 L587.0,528.7 L590.0,528.7 L593.0,528.8 L596.0,528.8 L599.0,528.8 L602.0,528.9 L605.0,528.9 L608.0,528.9 L611.0,528.9 L614.0,529.0 L617.0,529.0 L620.0,529.0 L623.0,529.0 L626.0,529.0 L629.0,529.1 L632.0,529.1 L635.0,529.1 L638.0,529.1 L641.0,529.1 L644.0,529.1 L647.0,529.2 L650.0,529.2 L653.0,529.2 L656.0,529.2 L659.0,529.2 L662.0,529.2 L665.0,529.2 L668.0,529.2 L671.0,529.3 L674.0,529.3 L677.0,529.3 L680.0,529.3 L683.0,529.3 L686.0,529.3 L689.0,529.3 L692.0,529.3 L695.0,529.3 L695.0,532.3 L692.0,532.3 L689.0,532.3 L686.0,532.3 L683.0,532.3 L680.0,532.3 L677.0,532.3 L674.0,532.3 L671.0,532.3 L668.0,532.3 L665.0,532.3 L662.0,532.2 L659.0,532.2 L656.0,532.2 L653.0,532.2 L650.0,532.2 L647.0,532.2 L644.0,532.2 L641.0,532.2 L638.0,532.1 L635.0,532.1 L632.0,532.1 L629.0,532.1 L626.0,532.1 L623.0,532.1 L620.0,532.1 L617.0,532.0 L614.0,532.0 L611.0,532.0 L608.0,532.0 L605.0,532.0 L602.0,531.9 L599.0,531.9 L596.0,531.9 L593.0,531.9 L590.0,531.8 L587.0,531.8 L584.0,531.8 L581.0,531.7 L578.0,531.7 L575.0,531.7 L572.0,531.7 L569.0,531.6 L566.0,531.6 L563.0,531.5 L560.0,531.5 L557.0,531.5 L554.0,531.4 L551.0,531.4 L548.0,531.3 L545.0,531.3 L542.0,531.2 L539.0,531.2 L536.0,531.1 L533.0,531.1 L530.0,531.0 L527.0,531.0 L524.0,530.9 L521.0,530.8 L518.0,530.8 L515.0,530.7 L512.0,530.6 L509.0,530.6 L506.0,530.5 L503.0,530.4 L500.0,530.3 L497.0,530.2 L494.0,530.1 L491.0,530.0 L488.0,529.9 L485.0,529.8 L482.0,529.7 L479.0,529.6 L476.0,529.5 L473.0,529.4 L470.0,529.3 L467.0,529.1 L464.0,529.0 L461.0,528.9 L458.0,528.7 L455.0,528.6 L452.0,528.4 L449.0,528.3 L446.0,528.1 L443.0,527.9 L440.0,527.7 L437.0,527.6 L434.0,527.4 L431.0,527.2 L428.0,526.9 L425.0,526.7 L422.0,526.5 L419.0,526.3 L416.0,526.0 L413.0,525.8 L410.0,525.5 L407.0,525.2 L404.0,524.9 L401.0,524.7 L398.0,524.3 L395.0,524.0 L392.0,523.7 L389.0,523.4 L386.0,523.0 L383.0,522.6 L380.0,522.3 L377.0,521.9 L374.0,521.4 L371.0,521.0 L368.0,520.6 L365.0,520.1 L362.0,519.6 L359.0,519.2 L356.0,518.6 L353.0,518.1 L350.0,517.6 L347.0,517.0 L344.0,516.4 L341.0,515.8 L338.0,515.2 L335.0,514.5 L332.0,513.8 L329.0,513.1 L326.0,512.4 L323.0,511.6 L320.0,510.8 L317.0,510.0 L314.0,509.2 L311.0,508.3 L308.0,507.4 L305.0,506.5 L302.0,505.5 L299.0,504.5 L296.0,503.5 L293.0,502.4 L290.0,501.3 L287.0,500.1 L284.0,499.0 L281.0,497.7 L278.0,496.5 L275.0,495.1 L272.0,493.8 L269.0,492.4 L266.0,490.9 L263.0,489.4 L260.0,487.9 L257.0,486.3 L254.0,484.6 L251.0,482.9 L248.0,481.2 L245.0,479.4 L242.0,477.5 L239.0,475.6 L236.0,473.6 L233.0,471.5 L230.0,469.4 L227.0,467.2 L224.0,465.0 L221.0,462.6 L218.0,460.2 L215.0,457.8 L212.0,455.3 L209.0,452.7 L206.0,450.0 L203.0,447.2 L200.0,444.4 L197.0,441.5 L194.0,438.5Z" fill="#000" fill-opacity="0.12"/>
<path d="M698.0,527.5 L701.0,536.1 L704.0,544.4 L707.0,552.3 L710.0,559.9 L713.0,567.2 L716.0,574.2 L719.0,580.8 L722.0,587.2 L725.0,593.4 L728.0,599.2 L731.0,604.8 L734.0,610.2 L737.0,615.3 L740.0,620.3 L743.0,625.0 L746.0,629.5 L749.0,633.9 L752.0,638.0 L755.0,642.0 L758.0,645.8 L761.0,649.4 L764.0,652.9 L767.0,656.2 L770.0,659.4 L773.0,662.5 L776.0,665.4 L779.0,668.2 L782.0,670.9 L785.0,673.5 L788.0,676.0 L791.0,678.3 L794.0,680.6 L797.0,682.7 L800.0,684.8 L803.0,686.8 L806.0,688.7 L809.0,690.5 L812.0,692.2 L815.0,693.9 L818.0,695.5 L821.0,697.0 L824.0,698.4 L827.0,699.8 L830.0,701.2 L833.0,702.4 L836.0,703.6 L839.0,704.8 L842.0,705.9 L845.0,707.0 L848.0,708.0 L851.0,709.0 L854.0,709.9 L857.0,710.8 L860.0,711.7 L863.0,712.5 L866.0,713.3 L869.0,714.0 L872.0,714.7 L875.0,715.4 L878.0,716.0 L881.0,716.7 L884.0,717.3 L887.0,717.8 L890.0,718.4 L893.0,718.9 L896.0,719.4 L899.0,719.8 L902.0,720.3 L905.0,720.7 L908.0,721.1 L911.0,721.5 L914.0,721.9 L917.0,722.2 L920.0,722.6 L923.0,722.9 L926.0,723.2 L929.0,723.5 L932.0,723.8 L935.0,724.0 L938.0,724.3 L941.0,724.5 L944.0,724.7 L947.0,724.9 L950.0,725.1 L953.0,725.3 L956.0,725.5 L959.0,725.7 L962.0,725.9 L965.0,726.0 L968.0,726.2 L971.0,726.3 L974.0,726.4 L977.0,726.6 L980.0,726.7 L983.0,726.8 L986.0,726.9 L989.0,727.0 L992.0,727.1 L995.0,727.2 L998.0,727.3 L1001.0,727.3 L1004.0,727.4 L1007.0,727.5 L1010.0,727.5 L1013.0,727.6 L1016.0,727.6 L1019.0,727.7 L1022.0,727.7 L1025.0,727.8 L1028.0,727.8 L1031.0,727.8 L1034.0,727.9 L1037.0,727.9 L1040.0,727.9 L1043.0,727.9 L1046.0,728.0 L1049.0,728.0 L1052.0,728.0 L1055.0,728.0 L1058.0,728.0 L1061.0,728.0 L1064.0,728.0 L1067.0,728.0 L1070.0,728.0 L1073.0,728.0 L1076.0,728.0 L1078.0,728.0 L1078.0,746.2 L1076.0,746.1 L1073.0,746.0 L1070.0,745.9 L1067.0,745.8 L1064.0,745.8 L1061.0,745.7 L1058.0,745.6 L1055.0,745.5 L1052.0,745.4 L1049.0,745.3 L1046.0,745.2 L1043.0,745.1 L1040.0,745.0 L1037.0,744.8 L1034.0,744.7 L1031.0,744.6 L1028.0,744.5 L1025.0,744.4 L1022.0,744.2 L1019.0,744.1 L1016.0,744.0 L1013.0,743.8 L1010.0,743.7 L1007.0,743.5 L1004.0,743.4 L1001.0,743.2 L998.0,743.1 L995.0,742.9 L992.0,742.7 L989.0,742.5 L986.0,742.3 L983.0,742.2 L980.0,742.0 L977.0,741.7 L974.0,741.5 L971.0,741.3 L968.0,741.1 L965.0,740.9 L962.0,740.6 L959.0,740.4 L956.0,740.1 L953.0,739.8 L950.0,739.5 L947.0,739.2 L944.0,738.9 L941.0,738.6 L938.0,738.3 L935.0,738.0 L932.0,737.6 L929.0,737.3 L926.0,736.9 L923.0,736.5 L920.0,736.1 L917.0,735.6 L914.0,735.2 L911.0,734.8 L908.0,734.3 L905.0,733.8 L902.0,733.3 L899.0,732.7 L896.0,732.2 L893.0,731.6 L890.0,731.0 L887.0,730.4 L884.0,729.7 L881.0,729.0 L878.0,728.3 L875.0,727.6 L872.0,726.8 L869.0,726.0 L866.0,725.2 L863.0,724.3 L860.0,723.4 L857.0,722.5 L854.0,721.5 L851.0,720.5 L848.0,719.4 L845.0,718.3 L842.0,717.2 L839.0,716.0 L836.0,714.7 L833.0,713.4 L830.0,712.0 L827.0,710.6 L824.0,709.1 L821.0,707.6 L818.0,706.0 L815.0,704.3 L812.0,702.6 L809.0,700.7 L806.0,698.8 L803.0,696.9 L800.0,694.8 L797.0,692.6 L794.0,690.4 L791.0,688.0 L788.0,685.6 L785.0,683.0 L782.0,680.4 L779.0,677.6 L776.0,674.7 L773.0,671.7 L770.0,668.5 L767.0,665.3 L764.0,661.8 L761.0,658.3 L758.0,654.5 L755.0,650.6 L752.0,646.6 L749.0,642.4 L746.0,637.9 L743.0,633.3 L740.0,628.5 L737.0,623.5 L734.0,618.3 L731.0,612.8 L728.0,607.1 L725.0,601.1 L722.0,594.9 L719.0,588.5 L716.0,581.7 L713.0,574.6 L710.0,567.3 L707.0,559.6 L704.0,551.6 L701.0,543.2 L698.0,534.5Z" fill="#000" fill-opacity="0.12"/>
<rect x="666" y="291" width="62.3" height="687" fill="#4682B4" fill-opacity="0.52"/>
<path d="M194.0,381.0 L197.0,387.0 L200.0,392.7 L203.0,398.2 L206.0,403.5 L209.0,408.5 L212.0,413.4 L215.0,418.1 L218.0,422.5 L221.0,426.9 L224.0,431.0 L227.0,435.0 L230.0,438.8 L233.0,442.4 L236.0,446.0 L239.0,449.3 L242.0,452.6 L245.0,455.7 L248.0,458.7 L251.0,461.6 L254.0,464.3 L257.0,467.0 L260.0,469.5 L263.0,472.0 L266.0,474.3 L269.0,476.6 L272.0,478.7 L275.0,480.8 L278.0,482.8 L281.0,484.7 L284.0,486.5 L287.0,488.3 L290.0,490.0 L293.0,491.6 L296.0,493.2 L299.0,494.7 L302.0,496.1 L305.0,497.5 L308.0,498.9 L311.0,500.1 L314.0,501.4 L317.0,502.5 L320.0,503.7 L323.0,504.8 L326.0,505.8 L329.0,506.8 L332.0,507.8 L335.0,508.7 L338.0,509.6 L341.0,510.4 L344.0,511.2 L347.0,512.0 L350.0,512.8 L353.0,513.5 L356.0,514.2 L359.0,514.9 L362.0,515.5 L365.0,516.1 L368.0,516.7 L371.0,517.3 L374.0,517.8 L377.0,518.3 L380.0,518.9 L383.0,519.3 L386.0,519.8 L389.0,520.2 L392.0,520.7 L395.0,521.1 L398.0,521.5 L401.0,521.9 L404.0,522.2 L407.0,522.6 L410.0,522.9 L413.0,523.2 L416.0,523.5 L419.0,523.8 L422.0,524.1 L425.0,524.4 L428.0,524.6 L431.0,524.9 L434.0,525.1 L437.0,525.4 L440.0,525.6 L443.0,525.8 L446.0,526.0 L449.0,526.2 L452.0,526.4 L455.0,526.6 L458.0,526.8 L461.0,526.9 L464.0,527.1 L467.0,527.3 L470.0,527.4 L473.0,527.5 L476.0,527.7 L479.0,527.8 L482.0,527.9 L485.0,528.1 L488.0,528.2 L491.0,528.3 L494.0,528.4 L497.0,528.5 L500.0,528.6 L503.0,528.7 L506.0,528.8 L509.0,528.9 L512.0,529.0 L515.0,529.0 L518.0,529.1 L521.0,529.2 L524.0,529.3 L527.0,529.3 L530.0,529.4 L533.0,529.5 L536.0,529.5 L539.0,529.6 L542.0,529.6 L545.0,529.7 L548.0,529.7 L551.0,529.8 L554.0,529.8 L557.0,529.9 L560.0,529.9 L563.0,530.0 L566.0,530.0 L569.0,530.1 L572.0,530.1 L575.0,530.1 L578.0,530.2 L581.0,530.2 L584.0,530.2 L587.0,530.3 L590.0,530.3 L593.0,530.3 L596.0,530.3 L599.0,530.4 L602.0,530.4 L605.0,530.4 L608.0,530.4 L611.0,530.5 L614.0,530.5 L617.0,530.5 L620.0,530.5 L623.0,530.5 L626.0,530.6 L629.0,530.6 L632.0,530.6 L635.0,530.6 L638.0,530.6 L641.0,530.6 L644.0,530.7 L647.0,530.7 L650.0,530.7 L653.0,530.7 L656.0,530.7 L659.0,530.7 L662.0,530.7 L665.0,530.7 L668.0,530.8 L671.0,530.8 L674.0,530.8 L677.0,530.8 L680.0,530.8 L683.0,530.8 L686.0,530.8 L689.0,530.8 L692.0,530.8 L695.0,530.8 L698.0,531.0 L701.0,539.7 L704.0,548.0 L707.0,556.0 L710.0,563.6 L713.0,570.9 L716.0,577.9 L719.0,584.7 L722.0,591.1 L725.0,597.2 L728.0,603.2 L731.0,608.8 L734.0,614.2 L737.0,619.4 L740.0,624.4 L743.0,629.2 L746.0,633.7 L749.0,638.1 L752.0,642.3 L755.0,646.3 L758.0,650.2 L761.0,653.8 L764.0,657.4 L767.0,660.8 L770.0,664.0 L773.0,667.1 L776.0,670.1 L779.0,672.9 L782.0,675.7 L785.0,678.3 L788.0,680.8 L791.0,683.2 L794.0,685.5 L797.0,687.7 L800.0,689.8 L803.0,691.8 L806.0,693.7 L809.0,695.6 L812.0,697.4 L815.0,699.1 L818.0,700.7 L821.0,702.3 L824.0,703.8 L827.0,705.2 L830.0,706.6 L833.0,707.9 L836.0,709.2 L839.0,710.4 L842.0,711.5 L845.0,712.7 L848.0,713.7 L851.0,714.7 L854.0,715.7 L857.0,716.6 L860.0,717.5 L863.0,718.4 L866.0,719.2 L869.0,720.0 L872.0,720.8 L875.0,721.5 L878.0,722.2 L881.0,722.8 L884.0,723.5 L887.0,724.1 L890.0,724.7 L893.0,725.2 L896.0,725.8 L899.0,726.3 L902.0,726.8 L905.0,727.2 L908.0,727.7 L911.0,728.1 L914.0,728.5 L917.0,728.9 L920.0,729.3 L923.0,729.7 L926.0,730.0 L929.0,730.4 L932.0,730.7 L935.0,731.0 L938.0,731.3 L941.0,731.6 L944.0,731.8 L947.0,732.1 L950.0,732.3 L953.0,732.6 L956.0,732.8 L959.0,733.0 L962.0,733.2 L965.0,733.4 L968.0,733.6 L971.0,733.8 L974.0,734.0 L977.0,734.2 L980.0,734.3 L983.0,734.5 L986.0,734.6 L989.0,734.8 L992.0,734.9 L995.0,735.0 L998.0,735.2 L1001.0,735.3 L1004.0,735.4 L1007.0,735.5 L1010.0,735.6 L1013.0,735.7 L1016.0,735.8 L1019.0,735.9 L1022.0,736.0 L1025.0,736.1 L1028.0,736.1 L1031.0,736.2 L1034.0,736.3 L1037.0,736.4 L1040.0,736.4 L1043.0,736.5 L1046.0,736.6 L1049.0,736.6 L1052.0,736.7 L1055.0,736.7 L1058.0,736.8 L1061.0,736.8 L1064.0,736.9 L1067.0,736.9 L1070.0,737.0 L1073.0,737.0 L1076.0,737.1 L1075.0,737.1" fill="none" stroke="#000" stroke-width="2.7" stroke-dasharray="12.7 13.3"/>
<g stroke="#000" stroke-width="2.7" fill="none">
<line x1="149.6" y1="278.5" x2="149.6" y2="980"/>
<line x1="148.3" y1="978.8" x2="1121.8" y2="978.8"/>
<line x1="141.4" y1="280.3" x2="149.6" y2="280.3" stroke="#333" stroke-width="2.4"/>
<line x1="141.4" y1="463.6" x2="149.6" y2="463.6" stroke="#333" stroke-width="2.4"/>
<line x1="141.4" y1="646.9" x2="149.6" y2="646.9" stroke="#333" stroke-width="2.4"/>
<line x1="141.4" y1="830.2" x2="149.6" y2="830.2" stroke="#333" stroke-width="2.4"/>
<line x1="310.5" y1="978.8" x2="310.5" y2="986.6" stroke="#333" stroke-width="2.4"/>
<line x1="477.8" y1="978.8" x2="477.8" y2="986.6" stroke="#333" stroke-width="2.4"/>
<line x1="645.1" y1="978.8" x2="645.1" y2="986.6" stroke="#333" stroke-width="2.4"/>
<line x1="812.4" y1="978.8" x2="812.4" y2="986.6" stroke="#333" stroke-width="2.4"/>
<line x1="979.7" y1="978.8" x2="979.7" y2="986.6" stroke="#333" stroke-width="2.4"/>
</g>
<text x="124" y="292.6" font-size="25.5" fill="#4D4D4D" text-anchor="end">10</text>
<text x="124.3" y="279.7" font-size="18" fill="#4D4D4D">6</text>
<text x="124" y="475.9" font-size="25.5" fill="#4D4D4D" text-anchor="end">10</text>
<text x="124.3" y="463.0" font-size="18" fill="#4D4D4D">5</text>
<text x="124" y="659.2" font-size="25.5" fill="#4D4D4D" text-anchor="end">10</text>
<text x="124.3" y="646.3" font-size="18" fill="#4D4D4D">4</text>
<text x="124" y="842.5" font-size="25.5" fill="#4D4D4D" text-anchor="end">10</text>
<text x="124.3" y="829.6" font-size="18" fill="#4D4D4D">3</text>
<text x="310.5" y="1013.2" font-size="26" text-anchor="middle" fill="#4D4D4D" font-weight="normal" font-style="normal">100</text>
<text x="477.8" y="1013.2" font-size="26" text-anchor="middle" fill="#4D4D4D" font-weight="normal" font-style="normal">10</text>
<text x="645.1" y="1013.2" font-size="26" text-anchor="middle" fill="#4D4D4D" font-weight="normal" font-style="normal">1</text>
<text x="812.4" y="1013.2" font-size="26" text-anchor="middle" fill="#4D4D4D" font-weight="normal" font-style="normal">0.1</text>
<text x="979.7" y="1013.2" font-size="26" text-anchor="middle" fill="#4D4D4D" font-weight="normal" font-style="normal">0.01</text>
<text x="636.0" y="1050.8" font-size="33.3" text-anchor="middle" fill="#000" font-weight="normal" font-style="normal" textLength="322.5" lengthAdjust="spacingAndGlyphs">Years ago (×100,000)</text>
<text transform="translate(50.7,627.6) rotate(-90)" font-size="33" text-anchor="middle" fill="#000" textLength="268" lengthAdjust="spacingAndGlyphs">Effective size (<tspan font-style="italic">N</tspan><tspan font-style="italic" font-size="23" dy="6">e</tspan><tspan dy="-6">)</tspan></text>
<rect x="205" y="742" width="181" height="192" fill="#fff" stroke="#000" stroke-width="2"/>
<text x="221.0" y="786.6" font-size="36" text-anchor="start" fill="#000" font-weight="normal" font-style="normal" textLength="149" lengthAdjust="spacingAndGlyphs">Mass (kg)</text>
<defs><linearGradient id="mg" x1="0" y1="1" x2="0" y2="0"><stop offset="0" stop-color="#FFFA33"/><stop offset="0.25" stop-color="#FDC82E"/><stop offset="0.5" stop-color="#F8962A"/><stop offset="0.75" stop-color="#EE6226"/><stop offset="1" stop-color="#E31E1E"/></linearGradient></defs>
<rect x="221.6" y="807.2" width="22" height="110.3" fill="url(#mg)"/>
<line x1="221.6" y1="815.2" x2="225" y2="815.2" stroke="#fff" stroke-width="1"/>
<line x1="240.2" y1="815.2" x2="243.6" y2="815.2" stroke="#fff" stroke-width="1"/>
<line x1="221.6" y1="838.3" x2="225" y2="838.3" stroke="#fff" stroke-width="1"/>
<line x1="240.2" y1="838.3" x2="243.6" y2="838.3" stroke="#fff" stroke-width="1"/>
<line x1="221.6" y1="863.1" x2="225" y2="863.1" stroke="#fff" stroke-width="1"/>
<line x1="240.2" y1="863.1" x2="243.6" y2="863.1" stroke="#fff" stroke-width="1"/>
<line x1="221.6" y1="886.1" x2="225" y2="886.1" stroke="#fff" stroke-width="1"/>
<line x1="240.2" y1="886.1" x2="243.6" y2="886.1" stroke="#fff" stroke-width="1"/>
<line x1="221.6" y1="910.8" x2="225" y2="910.8" stroke="#fff" stroke-width="1"/>
<line x1="240.2" y1="910.8" x2="243.6" y2="910.8" stroke="#fff" stroke-width="1"/>
<text x="260.0" y="825.6" font-size="28.5" text-anchor="start" fill="#000" font-weight="normal" font-style="normal" textLength="60.8" lengthAdjust="spacingAndGlyphs">3000</text>
<text x="260.0" y="849.1" font-size="28.5" text-anchor="start" fill="#000" font-weight="normal" font-style="normal" textLength="60.8" lengthAdjust="spacingAndGlyphs">1000</text>
<text x="260.0" y="873.4" font-size="28.5" text-anchor="start" fill="#000" font-weight="normal" font-style="normal" textLength="45.6" lengthAdjust="spacingAndGlyphs">300</text>
<text x="260.0" y="896.7" font-size="28.5" text-anchor="start" fill="#000" font-weight="normal" font-style="normal" textLength="45.6" lengthAdjust="spacingAndGlyphs">100</text>
<text x="260.0" y="921.2" font-size="28.5" text-anchor="start" fill="#000" font-weight="normal" font-style="normal" textLength="30.4" lengthAdjust="spacingAndGlyphs">30</text>
<path d="M294.7,152.0 C295.6,148.3 297.3,143.4 300.0,140.0 C302.7,136.7 306.7,134.1 310.7,132.0 C314.7,129.9 319.1,128.2 324.0,127.4 C328.9,126.5 334.9,126.5 340.0,126.7 C345.2,126.9 349.2,128.1 354.7,128.7 C360.3,129.2 368.1,129.2 373.4,130.0 C378.7,130.8 382.3,131.7 386.7,133.4 C391.2,135.0 396.1,138.2 400.1,140.0 C404.1,141.8 408.3,143.4 410.8,144.0 C413.2,144.7 414.3,142.0 414.8,144.0 C415.2,146.0 413.6,150.0 413.4,156.0 C413.2,162.0 415.2,175.6 413.4,180.1 C411.6,184.5 405.4,181.4 402.7,182.7 C400.1,184.1 400.1,185.8 397.4,188.1 C394.7,190.3 390.3,194.7 386.7,196.1 C383.2,197.4 380.5,196.7 376.1,196.1 C371.6,195.4 364.5,191.6 360.1,192.1 C355.6,192.5 352.7,197.6 349.4,198.7 C346.0,199.8 343.2,199.0 340.0,198.7 C336.9,198.5 334.0,198.5 330.7,197.4 C327.4,196.3 323.1,194.1 320.0,192.1 C316.9,190.1 315.4,188.3 312.0,185.4 C308.7,182.5 302.9,178.5 300.0,174.7 C297.1,170.9 295.6,166.5 294.7,162.7 C293.8,158.9 293.8,155.8 294.7,152.0 Z" fill="#C8905C"/>
<path d="M300.0,140.0 C301.8,136.5 306.7,134.1 310.7,132.0 C314.7,129.9 319.1,128.2 324.0,127.4 C328.9,126.5 334.9,126.5 340.0,126.7 C345.2,126.9 349.2,128.1 354.7,128.7 C360.3,129.2 368.1,129.2 373.4,130.0 C378.7,130.8 382.3,131.7 386.7,133.4 C391.2,135.0 396.5,138.2 400.1,140.0 C403.6,141.8 409.9,143.4 408.1,144.0 C406.3,144.7 397.4,144.7 389.4,144.0 C381.4,143.4 369.4,140.7 360.1,140.0 C350.7,139.4 341.6,139.4 333.4,140.0 C325.1,140.7 316.2,141.8 310.7,144.0 C305.1,146.3 301.8,154.0 300.0,153.4 C298.2,152.7 298.2,143.6 300.0,140.0 Z" fill="#C48553" opacity="0.8"/>
<path d="M316.0,157.4 C319.1,154.7 327.6,153.8 333.4,153.4 C339.2,152.9 347.6,151.1 350.7,154.7 C353.8,158.3 352.3,168.3 352.0,174.7 C351.8,181.2 351.4,189.5 349.4,193.4 C347.4,197.3 344.3,197.6 340.0,198.1 C335.8,198.5 327.8,198.2 324.0,196.1 C320.2,194.0 318.9,189.8 317.4,185.4 C315.8,180.9 314.9,174.0 314.7,169.4 C314.5,164.7 312.9,160.0 316.0,157.4 Z" fill="#EEECE8"/>
<path d="M365.4,182.7 C368.1,180.1 376.5,175.6 381.4,174.7 C386.3,173.8 391.6,175.6 394.7,177.4 C397.9,179.2 401.0,182.7 400.1,185.4 C399.2,188.1 393.4,191.6 389.4,193.4 C385.4,195.2 380.1,196.5 376.1,196.1 C372.1,195.6 367.2,193.0 365.4,190.7 C363.6,188.5 362.7,185.4 365.4,182.7 Z" fill="#EEEAE4"/>
<path d="M401.4,164.0 C402.3,161.2 406.1,160.9 408.1,162.7 C410.1,164.5 413.0,171.6 413.4,174.7 C413.9,177.8 412.5,180.5 410.8,181.4 C409.0,182.3 404.3,182.9 402.7,180.1 C401.2,177.2 400.5,166.9 401.4,164.0 Z" fill="#F0EEEA"/>
<path d="M394.7,193.4 C397.9,194.7 398.4,202.3 400.1,206.7 C401.7,211.2 403.6,215.6 404.7,220.1 C405.9,224.5 406.3,227.9 406.8,233.4 C407.2,239.0 407.5,247.9 407.4,253.4 C407.3,259.0 406.6,263.2 406.1,266.8 C405.5,270.3 405.5,273.6 404.1,274.8 C402.6,276.0 398.7,275.5 397.4,274.1 C396.1,272.8 396.0,270.2 396.1,266.8 C396.2,263.3 397.9,259.0 398.1,253.4 C398.3,247.9 398.3,239.2 397.4,233.4 C396.5,227.6 395.0,223.6 392.7,218.7 C390.5,213.9 386.0,207.4 384.1,204.1 C382.2,200.7 379.6,200.5 381.4,198.7 C383.2,197.0 391.6,192.1 394.7,193.4 Z" fill="#E6C292"/>
<path d="M354.7,193.4 C356.8,192.7 363.8,187.6 365.4,192.1 C366.9,196.5 364.1,211.0 364.1,220.1 C364.1,229.2 364.8,239.0 365.4,246.8 C365.9,254.5 366.5,261.9 367.4,266.8 C368.3,271.7 371.7,274.4 370.7,276.1 C369.7,277.8 363.4,278.3 361.4,276.8 C359.4,275.2 359.4,271.8 358.7,266.8 C358.0,261.8 357.8,254.5 357.1,246.8 C356.5,239.0 355.5,228.5 354.7,220.1 C354.0,211.6 352.7,200.5 352.7,196.1 C352.7,191.6 352.6,194.1 354.7,193.4 Z" fill="#E6C292"/>
<path d="M342.7,198.7 C345.2,199.2 347.4,197.8 346.7,201.4 C346.0,205.0 340.5,215.6 338.7,220.1 C336.9,224.5 336.0,223.6 336.0,228.1 C336.0,232.5 337.1,240.3 338.7,246.8 C340.3,253.2 342.9,262.1 345.4,266.8 C347.8,271.4 353.8,273.2 353.4,274.8 C352.9,276.3 345.6,277.2 342.7,276.1 C339.8,275.0 338.5,273.0 336.0,268.1 C333.6,263.2 330.0,253.9 328.0,246.8 C326.0,239.6 324.3,231.0 324.0,225.4 C323.8,219.9 325.4,217.9 326.7,213.4 C328.0,209.0 329.4,201.2 332.0,198.7 C334.7,196.3 340.3,198.3 342.7,198.7 Z" fill="#E6C292"/>
<path d="M313.4,180.1 C317.4,184.5 319.1,186.3 318.7,190.7 C318.2,195.2 313.4,201.8 310.7,206.7 C308.0,211.6 304.5,213.4 302.7,220.1 C300.9,226.8 300.2,237.9 300.0,246.8 C299.8,255.7 302.0,268.3 301.3,273.4 C300.7,278.6 297.5,277.2 296.0,277.5 C294.6,277.7 293.1,279.9 292.7,274.8 C292.2,269.7 293.0,255.9 293.3,246.8 C293.7,237.6 294.2,229.0 294.7,220.1 C295.1,211.2 296.0,202.7 296.0,193.4 C296.0,184.1 291.8,166.3 294.7,164.0 C297.6,161.8 309.4,175.6 313.4,180.1 Z" fill="#E6C292"/>
<path d="M294.7,164.0 C297.8,161.8 309.4,175.6 313.4,180.1 C317.4,184.5 319.1,186.3 318.7,190.7 C318.2,195.2 313.4,202.3 310.7,206.7 C308.0,211.2 305.1,216.5 302.7,217.4 C300.2,218.3 297.3,216.1 296.0,212.1 C294.7,208.1 294.9,201.4 294.7,193.4 C294.5,185.4 291.6,166.3 294.7,164.0 Z" fill="#C98E58"/>
<path d="M324.0,200.1 C327.0,197.0 340.3,195.4 342.7,198.7 C345.2,202.1 341.2,215.9 338.7,220.1 C336.3,224.3 330.4,224.5 328.0,224.1 C325.7,223.6 325.4,221.4 324.7,217.4 C324.0,213.4 321.0,203.2 324.0,200.1 Z" fill="#E2DEDA"/>
<ellipse cx="400.7" cy="272.8" rx="3.2" ry="2" fill="#2E2A28"/>
<ellipse cx="365.4" cy="275.1" rx="3.2" ry="2" fill="#2E2A28"/>
<ellipse cx="349.4" cy="274.1" rx="3.2" ry="2" fill="#2E2A28"/>
<ellipse cx="297.1" cy="275.9" rx="3.2" ry="2" fill="#2E2A28"/>
<path d="M412.1,144.0 C412.5,138.2 413.6,142.5 416.1,142.7 C418.5,142.9 423.7,144.5 426.8,145.4 C429.9,146.3 432.5,146.9 434.8,148.0 C437.0,149.1 438.3,149.6 440.1,152.0 C441.9,154.5 443.4,158.0 445.4,162.7 C447.4,167.4 450.6,176.3 452.1,180.1 C453.7,183.8 454.7,183.6 454.8,185.4 C454.9,187.2 454.3,189.4 452.8,190.7 C451.2,192.1 447.6,193.2 445.4,193.4 C443.3,193.6 442.8,194.1 440.1,192.1 C437.4,190.1 432.5,183.6 429.4,181.4 C426.3,179.2 423.4,178.9 421.4,178.7 C419.4,178.5 418.8,180.3 417.4,180.1 C416.1,179.8 414.3,183.4 413.4,177.4 C412.5,171.4 411.6,149.8 412.1,144.0 Z" fill="#D2AE86"/>
<path d="M425.4,162.7 C426.8,161.2 431.0,161.6 433.4,162.7 C435.9,163.8 437.9,165.6 440.1,169.4 C442.3,173.2 445.9,181.6 446.8,185.4 C447.7,189.2 446.6,191.2 445.4,192.1 C444.3,193.0 442.6,192.7 440.1,190.7 C437.7,188.7 433.2,183.2 430.8,180.1 C428.3,176.9 426.3,174.9 425.4,172.0 C424.5,169.2 424.1,164.3 425.4,162.7 Z" fill="#EEE6DA"/>
<path d="M436.1,156.0 C436.3,153.4 439.9,154.3 442.8,158.7 C445.7,163.2 451.7,177.7 453.4,182.7 C455.2,187.7 454.3,187.8 453.4,188.7 C452.6,189.6 450.1,190.4 448.1,188.1 C446.1,185.7 443.4,180.1 441.4,174.7 C439.4,169.4 435.9,158.7 436.1,156.0 Z" fill="#4A3128"/>
<path d="M421.4,158.7 C421.6,157.6 426.1,156.7 428.1,157.4 C430.1,158.0 433.7,161.6 433.4,162.7 C433.2,163.8 428.8,164.7 426.8,164.0 C424.8,163.4 421.2,159.8 421.4,158.7 Z" fill="#2A2020"/>
<path d="M418.8,162.7 C419.4,160.5 423.0,161.4 424.1,164.0 C425.2,166.7 426.1,176.5 425.4,178.7 C424.8,180.9 421.2,180.1 420.1,177.4 C419.0,174.7 418.1,164.9 418.8,162.7 Z" fill="#3A2A22"/>
<path d="M415.4,144.0 C415.0,140.9 416.0,134.9 417.4,132.0 C418.9,129.1 422.7,126.2 424.1,126.7 C425.5,127.1 425.9,131.4 426.1,134.7 C426.3,138.0 426.4,144.0 425.4,146.7 C424.4,149.4 421.8,151.1 420.1,150.7 C418.4,150.3 415.9,147.1 415.4,144.0 Z" fill="#D2B48E"/>
<ellipse cx="414.8" cy="150.7" rx="4" ry="3.5" fill="#4A3A35"/>
<path d="M430.1,152.0 C429.4,148.7 430.4,139.1 430.8,133.4 C431.1,127.6 431.1,120.8 432.1,117.3 C433.1,113.9 435.8,113.2 436.8,112.7 C437.8,112.1 438.4,112.8 438.1,114.0 C437.8,115.2 435.2,117.0 434.8,120.0 C434.3,123.0 435.1,128.7 435.4,132.0 C435.8,135.4 436.9,138.5 436.8,140.0 C436.7,141.6 435.1,139.1 434.8,141.4 C434.4,143.6 435.5,151.6 434.8,153.4 C434.0,155.1 430.8,155.4 430.1,152.0 Z" fill="#3A2C26"/>
<path d="M443.4,149.4 C444.2,147.4 446.3,145.9 448.4,144.0 C450.5,142.1 453.5,140.1 456.1,138.0 C458.7,135.9 462.3,133.8 464.1,131.4 C465.9,128.9 466.5,125.8 466.8,123.3 C467.1,120.9 466.4,118.4 465.7,116.7 C465.0,114.9 463.6,113.9 462.5,112.8 C461.5,111.8 458.9,110.7 459.5,110.4 C460.0,110.1 463.9,110.1 465.7,110.9 C467.5,111.8 469.1,113.5 470.1,115.3 C471.2,117.2 471.8,120.2 472.1,122.0 C472.5,123.9 471.8,125.8 472.4,126.4 C473.0,127.0 475.7,124.9 475.9,125.6 C476.0,126.3 474.7,128.6 473.2,130.4 C471.7,132.3 469.4,134.3 466.8,136.7 C464.2,139.1 460.3,141.9 457.5,144.7 C454.6,147.5 451.7,151.5 449.4,153.4 C447.2,155.3 445.1,156.7 444.1,156.0 C443.1,155.4 442.7,151.4 443.4,149.4 Z" fill="#4A403A"/>
<path d="M438.1,144.0 C438.1,142.0 443.4,136.8 445.4,133.4 C447.4,129.9 449.4,122.9 450.1,123.3 C450.8,123.8 450.2,132.4 449.4,136.0 C448.7,139.7 447.3,144.0 445.4,145.4 C443.6,146.7 438.1,146.0 438.1,144.0 Z" fill="#E8D8C0"/>
<defs><linearGradient id="eg" x1="0" y1="0" x2="0" y2="1"><stop offset="0" stop-color="#A29585"/><stop offset="0.55" stop-color="#8E847B"/><stop offset="1" stop-color="#6E6862"/></linearGradient></defs>
<path d="M750.8,127.4 C752.0,120.2 755.0,111.8 758.0,105.8 C761.0,99.8 764.0,95.5 768.8,91.4 C773.6,87.4 779.6,84.5 786.8,81.5 C794.0,78.5 803.9,76.1 812.0,73.4 C820.2,70.7 826.5,66.8 835.5,65.3 C844.5,63.8 855.6,64.1 866.1,64.4 C876.6,64.7 890.7,67.7 898.5,67.1 C906.3,66.5 906.9,62.3 912.9,60.8 C918.9,59.3 927.9,58.1 934.5,58.1 C941.1,58.1 948.0,58.6 952.5,60.8 C957.0,63.1 959.4,67.4 961.5,71.6 C963.6,75.8 963.3,81.8 965.1,86.0 C966.9,90.2 970.5,92.3 972.3,96.8 C974.1,101.3 975.4,106.7 976.0,113.0 C976.6,119.3 975.7,127.1 976.0,134.7 C976.3,142.2 976.9,149.7 977.8,158.1 C978.7,166.5 979.6,176.1 981.4,185.1 C983.2,194.1 986.2,203.4 988.6,212.1 C991.0,220.8 993.8,229.8 995.8,237.3 C997.7,244.8 999.7,251.6 1000.3,257.1 C1000.9,262.7 1000.9,268.4 999.4,270.6 C997.9,272.9 993.1,273.8 991.3,270.6 C989.5,267.5 990.8,259.7 988.6,251.7 C986.3,243.8 981.7,232.5 977.8,222.9 C973.8,213.3 968.9,203.1 965.1,194.1 C961.4,185.1 957.9,173.7 955.2,168.9 C952.5,164.1 951.2,168.0 948.9,165.3 C946.7,162.6 945.0,155.5 941.7,152.7 C938.4,149.8 932.6,147.3 929.1,148.2 C925.7,149.1 922.5,150.4 921.0,158.1 C919.5,165.7 921.2,182.1 920.1,194.1 C919.1,206.1 916.8,219.6 914.7,230.1 C912.6,240.6 908.9,250.7 907.5,257.1 C906.2,263.6 913.2,266.7 906.6,268.8 C900.0,270.9 873.4,273.2 867.9,269.7 C862.3,266.3 870.9,257.7 873.3,248.1 C875.7,238.5 880.5,223.5 882.3,212.1 C884.1,200.7 886.8,185.7 884.1,179.7 C881.4,173.7 870.6,173.7 866.1,176.1 C861.6,178.5 860.4,185.1 857.1,194.1 C853.8,203.1 848.7,219.6 846.3,230.1 C843.9,240.6 843.0,250.8 842.7,257.1 C842.4,263.4 849.9,266.3 844.5,267.9 C839.1,269.6 815.0,270.3 810.2,267.0 C805.4,263.7 813.5,255.8 815.6,248.1 C817.7,240.5 821.4,230.7 822.9,221.1 C824.4,211.5 826.5,196.5 824.7,190.5 C822.9,184.5 815.9,185.4 812.0,185.1 C808.1,184.8 803.3,184.2 801.2,188.7 C799.1,193.2 798.8,202.2 799.4,212.1 C800.0,222.0 803.6,239.4 804.8,248.1 C806.0,256.8 813.2,261.3 806.6,264.3 C800.0,267.3 771.8,270.3 765.2,266.1 C758.6,261.9 767.0,249.6 767.0,239.1 C767.0,228.6 765.8,210.6 765.2,203.1 C764.6,195.6 765.2,200.1 763.4,194.1 C761.6,188.1 756.5,174.6 754.4,167.1 C752.3,159.6 751.4,155.7 750.8,149.1 C750.2,142.5 749.6,134.7 750.8,127.4 Z" fill="url(#eg)"/>
<path d="M768.8,93.2 C772.4,88.7 779.6,85.6 786.8,82.4 C794.0,79.3 803.9,77.0 812.0,74.3 C820.2,71.6 826.5,67.7 835.5,66.2 C844.5,64.7 855.6,65.0 866.1,65.3 C876.6,65.6 895.5,64.6 898.5,68.0 C901.5,71.5 892.5,82.1 884.1,86.0 C875.7,89.9 860.1,89.0 848.1,91.4 C836.1,93.8 824.1,96.8 812.0,100.4 C800.0,104.0 783.8,111.5 776.0,113.0 C768.2,114.5 766.4,112.7 765.2,109.4 C764.0,106.1 765.2,97.7 768.8,93.2 Z" fill="#B3A594" opacity="0.85"/>
<path d="M767.0,113.0 C774.5,104.0 798.5,106.7 812.0,104.0 C825.6,101.3 839.1,96.8 848.1,96.8 C857.1,96.8 864.6,96.8 866.1,104.0 C867.6,111.2 863.1,128.0 857.1,140.1 C851.1,152.1 840.6,168.9 830.1,176.1 C819.6,183.3 804.5,186.3 794.0,183.3 C783.5,180.3 771.5,169.8 767.0,158.1 C762.5,146.4 759.5,122.0 767.0,113.0 Z" fill="#A09383" opacity="0.7"/>
<path d="M765.2,203.1 C770.6,198.6 792.8,204.6 799.4,212.1 C806.0,219.6 803.6,239.4 804.8,248.1 C806.0,256.8 813.2,261.3 806.6,264.3 C800.0,267.3 771.8,270.3 765.2,266.1 C758.6,261.9 767.0,249.6 767.0,239.1 C767.0,228.6 759.8,207.6 765.2,203.1 Z" fill="#6E6862" opacity="0.9"/>
<path d="M824.7,194.1 C827.7,186.6 834.0,179.1 840.9,176.1 C847.8,173.1 863.4,173.1 866.1,176.1 C868.8,179.1 860.4,185.1 857.1,194.1 C853.8,203.1 848.7,219.6 846.3,230.1 C843.9,240.6 843.0,250.8 842.7,257.1 C842.4,263.4 849.9,266.3 844.5,267.9 C839.1,269.6 815.0,270.3 810.2,267.0 C805.4,263.7 813.5,255.8 815.6,248.1 C817.7,240.5 821.4,230.1 822.9,221.1 C824.4,212.1 821.7,201.6 824.7,194.1 Z" fill="#6A645E" opacity="0.9"/>
<path d="M884.1,179.7 C890.4,172.2 914.1,164.7 920.1,167.1 C926.1,169.5 921.0,183.6 920.1,194.1 C919.2,204.6 916.8,219.6 914.7,230.1 C912.6,240.6 908.9,250.7 907.5,257.1 C906.2,263.6 913.2,266.7 906.6,268.8 C900.0,270.9 873.4,273.2 867.9,269.7 C862.3,266.3 870.9,257.7 873.3,248.1 C875.7,238.5 880.5,223.5 882.3,212.1 C884.1,200.7 877.8,187.2 884.1,179.7 Z" fill="#75706A" opacity="0.9"/>
<path d="M767.0,255.3 C773.6,253.1 798.2,253.1 804.8,255.3 C811.4,257.6 813.2,266.6 806.6,268.8 C800.0,271.1 771.8,271.1 765.2,268.8 C758.6,266.6 760.4,257.6 767.0,255.3 Z" fill="#8A7A6E" opacity="0.8"/>
<path d="M812.0,255.3 C817.4,253.1 837.3,253.1 842.7,255.3 C848.1,257.6 849.9,266.6 844.5,268.8 C839.1,271.1 815.6,271.1 810.2,268.8 C804.8,266.6 806.6,257.6 812.0,255.3 Z" fill="#8A7A6E" opacity="0.8"/>
<path d="M869.7,255.3 C875.8,253.1 898.7,253.1 904.8,255.3 C911.0,257.6 912.8,266.6 906.6,268.8 C900.5,271.1 874.0,271.1 867.9,268.8 C861.7,266.6 863.5,257.6 869.7,255.3 Z" fill="#8A7A6E" opacity="0.8"/>
<path d="M912.9,60.8 C917.4,57.7 927.9,58.1 934.5,58.1 C941.1,58.1 948.0,58.6 952.5,60.8 C957.0,63.1 959.4,67.4 961.5,71.6 C963.6,75.8 963.3,81.8 965.1,86.0 C966.9,90.2 970.5,92.3 972.3,96.8 C974.1,101.3 975.4,106.7 976.0,113.0 C976.6,119.3 975.7,127.1 976.0,134.7 C976.3,142.2 979.6,153.0 977.8,158.1 C976.0,163.2 969.9,165.3 965.1,165.3 C960.3,165.3 953.4,161.7 948.9,158.1 C944.4,154.5 942.9,148.2 938.1,143.7 C933.3,139.2 924.6,137.7 920.1,131.1 C915.6,124.4 913.2,113.0 911.1,104.0 C909.0,95.0 907.2,84.2 907.5,77.0 C907.8,69.8 908.4,64.0 912.9,60.8 Z" fill="#8A837E"/>
<path d="M947.1,89.6 C950.1,83.9 960.6,88.1 965.1,91.4 C969.6,94.7 972.3,102.2 974.1,109.4 C976.0,116.6 975.7,126.5 976.0,134.7 C976.3,142.8 978.1,153.6 976.0,158.1 C973.8,162.6 967.2,162.9 963.3,161.7 C959.4,160.5 955.2,156.9 952.5,150.9 C949.8,144.9 948.0,135.9 947.1,125.6 C946.2,115.4 944.1,95.3 947.1,89.6 Z" fill="#9A8E86" opacity="0.9"/>
<path d="M876.9,86.0 C881.5,81.1 899.1,72.8 903.9,74.3 C908.7,75.8 906.0,87.7 905.7,95.0 C905.4,102.4 903.9,113.3 902.1,118.4 C900.3,123.5 897.9,125.6 894.9,125.6 C891.9,125.6 887.2,122.0 884.1,118.4 C880.9,114.8 877.2,109.4 876.0,104.0 C874.8,98.6 872.2,91.0 876.9,86.0 Z" fill="#7F7872"/>
<path d="M873.3,116.6 C876.9,110.9 883.8,115.1 887.7,116.6 C891.6,118.1 895.5,119.9 896.7,125.6 C897.9,131.4 897.6,145.5 894.9,150.9 C892.2,156.3 885.3,158.1 880.5,158.1 C875.7,158.1 867.3,157.8 866.1,150.9 C864.9,144.0 869.7,122.3 873.3,116.6 Z" fill="#9A8A7C" opacity="0.8"/>
<path d="M914.7,104.0 C916.1,101.3 919.8,100.4 921.9,102.2 C924.0,104.0 925.2,108.5 927.3,114.8 C929.4,121.1 933.9,135.0 934.5,140.1 C935.1,145.2 933.3,146.4 930.9,145.5 C928.5,144.6 923.0,139.2 920.1,134.7 C917.3,130.2 914.7,123.5 913.8,118.4 C912.9,113.3 913.4,106.7 914.7,104.0 Z" fill="#2C2422"/>
<path d="M956.1,165.3 C958.2,159.3 973.5,154.8 977.8,158.1 C982.0,161.4 979.6,176.1 981.4,185.1 C983.2,194.1 986.2,203.4 988.6,212.1 C991.0,220.8 993.8,229.8 995.8,237.3 C997.7,244.8 999.7,251.6 1000.3,257.1 C1000.9,262.7 1000.9,268.4 999.4,270.6 C997.9,272.9 993.1,273.8 991.3,270.6 C989.5,267.5 990.8,259.7 988.6,251.7 C986.3,243.8 981.7,232.5 977.8,222.9 C973.8,213.3 968.7,203.7 965.1,194.1 C961.5,184.5 954.0,171.3 956.1,165.3 Z" fill="#877E78"/>
<path d="M765.2,197.7 C765.8,194.1 769.1,194.1 769.7,199.5 C770.3,204.9 769.3,222.6 768.8,230.1 C768.4,237.6 767.8,242.7 767.0,244.5 C766.3,246.3 764.5,244.8 764.3,240.9 C764.2,237.0 766.0,228.3 766.1,221.1 C766.3,213.9 764.6,201.3 765.2,197.7 Z" fill="#4A4440"/>
<defs><linearGradient id="bg" x1="0" y1="0" x2="0" y2="1"><stop offset="0" stop-color="#B49A88"/><stop offset="0.5" stop-color="#947864"/><stop offset="1" stop-color="#4A3A33"/></linearGradient></defs>
<path d="M1104.4,91.0 C1107.7,85.9 1113.5,76.8 1118.8,72.3 C1124.0,67.7 1130.7,65.4 1136.0,63.6 C1141.3,61.8 1144.7,61.2 1150.4,61.5 C1156.2,61.7 1164.3,62.6 1170.5,65.1 C1176.8,67.6 1182.5,72.5 1187.8,76.6 C1193.1,80.6 1197.6,85.2 1202.2,89.5 C1206.7,93.8 1210.3,99.8 1215.1,102.5 C1219.9,105.1 1226.9,105.1 1230.9,105.3 C1235.0,105.6 1236.9,103.2 1239.6,103.9 C1242.2,104.6 1245.6,107.3 1246.8,109.7 C1248.0,112.0 1247.2,116.1 1246.8,118.3 C1246.3,120.4 1243.7,119.7 1243.9,122.6 C1244.1,125.5 1247.5,131.5 1248.2,135.5 C1248.9,139.6 1249.2,143.2 1248.2,147.0 C1247.2,150.9 1245.3,155.2 1242.5,158.6 C1239.6,161.9 1233.6,164.8 1230.9,167.2 C1228.3,169.6 1227.1,171.3 1226.6,172.9 C1226.2,174.6 1228.5,175.3 1228.1,177.2 C1227.6,179.2 1225.7,182.6 1223.8,184.4 C1221.8,186.2 1219.2,187.9 1216.6,188.0 C1213.9,188.2 1209.9,186.5 1207.9,185.2 C1206.0,183.8 1204.1,178.8 1205.1,180.1 C1206.0,181.4 1213.2,187.6 1213.7,193.1 C1214.2,198.6 1209.9,206.3 1207.9,213.2 C1206.0,220.2 1203.4,229.3 1202.2,234.8 C1201.0,240.3 1201.9,243.2 1200.7,246.3 C1199.5,249.4 1197.6,252.2 1195.0,253.5 C1192.4,254.8 1186.8,256.1 1184.9,254.2 C1183.0,252.3 1183.2,246.4 1183.5,242.0 C1183.7,237.5 1186.4,225.2 1186.4,227.6 C1186.4,230.0 1182.8,249.9 1183.5,256.4 C1184.2,262.8 1189.7,264.0 1190.7,266.4 C1191.6,268.8 1192.6,269.7 1189.2,270.7 C1185.9,271.8 1176.5,273.1 1170.5,272.9 C1164.5,272.7 1156.6,272.1 1153.3,269.3 C1149.9,266.5 1151.8,263.3 1150.4,256.4 C1149.0,249.4 1147.0,237.2 1144.7,227.6 C1142.3,218.0 1137.9,200.5 1136.0,198.8 C1134.1,197.1 1135.5,213.7 1133.1,217.5 C1130.7,221.4 1124.3,222.6 1121.6,221.8 C1119.0,221.1 1119.0,218.2 1117.3,213.2 C1115.6,208.2 1114.0,199.8 1111.6,191.6 C1109.2,183.5 1105.5,172.7 1102.9,164.3 C1100.4,155.9 1097.7,148.7 1096.5,141.3 C1095.3,133.9 1095.4,126.2 1095.8,119.7 C1096.1,113.2 1097.2,107.3 1098.6,102.5 C1100.1,97.7 1101.0,96.0 1104.4,91.0 Z" fill="url(#bg)"/>
<path d="M1104.4,91.0 C1107.7,85.9 1113.5,76.8 1118.8,72.3 C1124.0,67.7 1130.7,65.4 1136.0,63.6 C1141.3,61.8 1144.7,61.2 1150.4,61.5 C1156.2,61.7 1164.3,62.6 1170.5,65.1 C1176.8,67.6 1182.5,72.5 1187.8,76.6 C1193.1,80.6 1197.6,85.2 1202.2,89.5 C1206.7,93.8 1217.0,98.1 1215.1,102.5 C1213.2,106.8 1198.1,109.9 1190.7,115.4 C1183.2,120.9 1176.5,128.8 1170.5,135.5 C1164.5,142.3 1161.0,150.9 1154.7,155.7 C1148.5,160.5 1140.3,164.3 1133.1,164.3 C1126.0,164.3 1117.3,161.9 1111.6,155.7 C1105.8,149.4 1100.8,135.8 1098.6,126.9 C1096.5,118.0 1097.7,108.5 1098.6,102.5 C1099.6,96.5 1101.0,96.0 1104.4,91.0 Z" fill="#B09483"/>
<path d="M1176.3,115.4 C1181.6,111.3 1195.9,107.0 1205.1,105.3 C1214.2,103.7 1224.5,102.5 1230.9,105.3 C1237.4,108.2 1241.0,117.6 1243.9,122.6 C1246.8,127.6 1247.5,131.5 1248.2,135.5 C1248.9,139.6 1249.2,143.2 1248.2,147.0 C1247.2,150.9 1245.3,155.2 1242.5,158.6 C1239.6,161.9 1233.6,164.8 1230.9,167.2 C1228.3,169.6 1229.0,170.1 1226.6,172.9 C1224.2,175.8 1220.2,183.2 1216.6,184.4 C1213.0,185.6 1209.4,183.0 1205.1,180.1 C1200.7,177.2 1195.0,172.5 1190.7,167.2 C1186.4,161.9 1182.0,154.7 1179.2,148.5 C1176.3,142.3 1173.9,135.3 1173.4,129.8 C1172.9,124.3 1171.0,119.5 1176.3,115.4 Z" fill="#AD9276"/>
<ellipse cx="1184.9" cy="111.8" rx="8.5" ry="8" fill="#6E5647"/>
<ellipse cx="1240.3" cy="112.5" rx="6.5" ry="7" fill="#8A705E"/>
<ellipse cx="1205.1" cy="147.0" rx="2.5" ry="2" fill="#2A2020"/>
<ellipse cx="1228.8" cy="147.0" rx="2.5" ry="2" fill="#2A2020"/>
<ellipse cx="1219.4" cy="174.4" rx="7" ry="5" fill="#2A2628"/>
<path d="M1111.6,178.7 C1114.2,173.4 1128.8,178.2 1133.1,181.6 C1137.5,184.9 1137.5,192.8 1137.5,198.8 C1137.5,204.8 1135.8,213.7 1133.1,217.5 C1130.5,221.4 1124.3,222.6 1121.6,221.8 C1119.0,221.1 1119.0,220.4 1117.3,213.2 C1115.6,206.0 1108.9,184.0 1111.6,178.7 Z" fill="#3F312D"/>
<path d="M1184.9,178.7 C1188.0,173.4 1200.3,179.2 1205.1,181.6 C1209.9,184.0 1213.2,187.8 1213.7,193.1 C1214.2,198.3 1209.9,206.3 1207.9,213.2 C1206.0,220.2 1203.4,229.3 1202.2,234.8 C1201.0,240.3 1201.9,243.2 1200.7,246.3 C1199.5,249.4 1197.6,252.2 1195.0,253.5 C1192.4,254.8 1186.8,256.1 1184.9,254.2 C1183.0,252.3 1183.2,248.8 1183.5,242.0 C1183.7,235.1 1186.1,223.8 1186.4,213.2 C1186.6,202.7 1181.8,184.0 1184.9,178.7 Z" fill="#3F322E"/>
<path d="M1137.5,172.9 C1142.3,167.2 1157.4,164.3 1164.8,164.3 C1172.2,164.3 1178.5,167.2 1182.0,172.9 C1185.6,178.7 1185.9,189.7 1186.4,198.8 C1186.8,207.9 1185.4,218.0 1184.9,227.6 C1184.4,237.2 1182.5,249.9 1183.5,256.4 C1184.4,262.8 1189.7,264.0 1190.7,266.4 C1191.6,268.8 1192.6,269.7 1189.2,270.7 C1185.9,271.8 1176.5,273.1 1170.5,272.9 C1164.5,272.7 1156.6,272.1 1153.3,269.3 C1149.9,266.5 1151.8,263.3 1150.4,256.4 C1149.0,249.4 1147.0,237.2 1144.7,227.6 C1142.3,218.0 1137.2,207.9 1136.0,198.8 C1134.8,189.7 1132.7,178.7 1137.5,172.9 Z" fill="#6A5246"/>
<path d="M1150.4,234.8 C1155.7,231.2 1176.5,231.2 1182.0,234.8 C1187.6,238.4 1182.0,251.1 1183.5,256.4 C1184.9,261.6 1189.7,264.0 1190.7,266.4 C1191.6,268.8 1192.6,269.7 1189.2,270.7 C1185.9,271.8 1176.5,273.1 1170.5,272.9 C1164.5,272.7 1156.6,272.1 1153.3,269.3 C1149.9,266.5 1150.9,262.1 1150.4,256.4 C1149.9,250.6 1145.1,238.4 1150.4,234.8 Z" fill="#3E302B"/>
<path d="M1140.0,533.3 C1140.0,534.2 1143.6,537.2 1146.7,539.2 C1149.7,541.1 1154.2,543.8 1158.3,545.0 C1162.5,546.2 1167.2,546.9 1171.7,546.3 C1176.1,545.8 1180.3,544.1 1185.0,541.7 C1189.7,539.2 1195.3,535.3 1200.0,531.7 C1204.7,528.1 1209.2,523.9 1213.3,520.0 C1217.5,516.1 1221.7,511.5 1225.0,508.3 C1228.3,505.1 1231.1,501.9 1233.3,500.8 C1235.6,499.7 1236.1,500.4 1238.3,501.7 C1240.6,502.9 1244.4,506.6 1246.7,508.3 C1248.9,510.1 1248.9,511.2 1251.7,512.0 C1254.4,512.8 1259.7,512.8 1263.3,513.3 C1266.9,513.8 1270.6,512.5 1273.3,515.0 C1276.1,517.5 1277.8,523.3 1280.0,528.3 C1282.2,533.3 1285.0,540.0 1286.7,545.0 C1288.3,550.0 1288.6,555.3 1290.0,558.3 C1291.4,561.4 1292.2,561.9 1295.0,563.3 C1297.8,564.7 1302.2,565.0 1306.7,566.7 C1311.1,568.3 1316.9,571.7 1321.7,573.3 C1326.4,575.0 1331.4,576.1 1335.0,576.7 C1338.6,577.2 1342.1,577.1 1343.3,576.7 C1344.6,576.2 1343.9,575.1 1342.5,574.2 C1341.1,573.2 1338.5,572.1 1335.0,570.8 C1331.5,569.6 1326.1,568.5 1321.7,566.7 C1317.2,564.9 1311.7,561.9 1308.3,560.0 C1305.0,558.1 1303.3,558.1 1301.7,555.0 C1300.0,551.9 1299.3,546.1 1298.3,541.7 C1297.4,537.2 1296.4,531.7 1295.8,528.3 C1295.3,525.0 1294.6,522.6 1295.0,521.7 C1295.4,520.7 1296.9,522.6 1298.3,522.5 C1299.7,522.4 1302.2,521.8 1303.3,520.8 C1304.4,519.9 1303.9,519.3 1305.0,516.7 C1306.1,514.0 1308.6,507.5 1310.0,505.0 C1311.4,502.5 1310.6,503.1 1313.3,501.7 C1316.1,500.3 1322.5,498.9 1326.7,496.7 C1330.8,494.4 1335.0,491.4 1338.3,488.3 C1341.7,485.3 1344.7,480.6 1346.7,478.3 C1348.6,476.1 1347.8,475.6 1350.0,475.0 C1352.2,474.4 1357.2,475.1 1360.0,475.0 C1362.8,474.9 1365.0,474.7 1366.7,474.2 C1368.3,473.6 1369.6,472.6 1370.0,471.7 C1370.4,470.7 1370.3,469.4 1369.2,468.3 C1368.1,467.2 1365.4,466.1 1363.3,465.0 C1361.2,463.9 1358.9,462.8 1356.7,461.7 C1354.4,460.6 1351.7,459.4 1350.0,458.3 C1348.3,457.2 1347.5,456.1 1346.7,455.0 C1345.8,453.9 1346.1,453.1 1345.0,451.7 C1343.9,450.3 1341.9,447.8 1340.0,446.7 C1338.1,445.6 1334.6,444.4 1333.3,445.0 C1332.1,445.6 1332.4,448.1 1332.5,450.0 C1332.6,451.9 1333.5,454.7 1334.2,456.7 C1334.9,458.6 1336.8,460.4 1336.7,461.7 C1336.5,462.9 1334.7,463.1 1333.3,464.2 C1331.9,465.3 1331.1,469.0 1328.3,468.3 C1325.6,467.6 1321.9,462.5 1316.7,460.0 C1311.4,457.5 1302.8,455.0 1296.7,453.3 C1290.6,451.7 1285.6,450.4 1280.0,450.0 C1274.4,449.6 1268.3,449.7 1263.3,450.8 C1258.3,451.9 1253.9,454.0 1250.0,456.7 C1246.1,459.3 1242.8,463.3 1240.0,466.7 C1237.2,470.0 1235.0,473.9 1233.3,476.7 C1231.7,479.4 1231.7,480.8 1230.0,483.3 C1228.3,485.8 1226.7,488.1 1223.3,491.7 C1220.0,495.3 1214.4,500.8 1210.0,505.0 C1205.6,509.2 1201.1,513.1 1196.7,516.7 C1192.2,520.3 1187.8,523.9 1183.3,526.7 C1178.9,529.4 1174.4,531.9 1170.0,533.3 C1165.6,534.7 1160.6,534.9 1156.7,535.0 C1152.8,535.1 1149.4,534.4 1146.7,534.2 C1143.9,533.9 1140.0,532.5 1140.0,533.3 Z" fill="#6F6C6B"/>
<path d="M1276.7,525.0 C1275.0,526.1 1278.3,525.0 1280.0,528.3 C1281.7,531.7 1285.0,540.0 1286.7,545.0 C1288.3,550.0 1288.6,555.3 1290.0,558.3 C1291.4,561.4 1292.2,561.9 1295.0,563.3 C1297.8,564.7 1302.2,565.0 1306.7,566.7 C1311.1,568.3 1316.9,571.7 1321.7,573.3 C1326.4,575.0 1331.4,576.1 1335.0,576.7 C1338.6,577.2 1342.1,577.1 1343.3,576.7 C1344.6,576.2 1343.9,575.1 1342.5,574.2 C1341.1,573.2 1338.5,572.1 1335.0,570.8 C1331.5,569.6 1326.1,568.5 1321.7,566.7 C1317.2,564.9 1311.7,561.9 1308.3,560.0 C1305.0,558.1 1303.3,558.1 1301.7,555.0 C1300.0,551.9 1299.3,546.1 1298.3,541.7 C1297.4,537.2 1297.2,531.7 1295.8,528.3 C1294.4,525.0 1293.2,522.2 1290.0,521.7 C1286.8,521.1 1278.3,523.9 1276.7,525.0 Z" fill="#B4B3B1"/>
<path d="M1240.0,478.3 C1243.3,475.8 1251.1,474.7 1256.7,476.7 C1262.2,478.6 1269.4,485.0 1273.3,490.0 C1277.2,495.0 1280.0,502.5 1280.0,506.7 C1280.0,510.8 1277.2,514.2 1273.3,515.0 C1269.4,515.8 1261.7,513.3 1256.7,511.7 C1251.7,510.0 1246.7,508.3 1243.3,505.0 C1240.0,501.7 1237.2,496.1 1236.7,491.7 C1236.1,487.2 1236.7,480.8 1240.0,478.3 Z" fill="#5E5B5A"/>
<path d="M1296.7,490.0 C1298.9,487.2 1306.4,485.8 1313.3,485.0 C1320.3,484.2 1336.1,483.1 1338.3,485.0 C1340.6,486.9 1330.8,493.9 1326.7,496.7 C1322.5,499.4 1317.8,500.8 1313.3,501.7 C1308.9,502.5 1302.8,503.6 1300.0,501.7 C1297.2,499.7 1294.4,492.8 1296.7,490.0 Z" fill="#8E8A86"/>
<path d="M1140.0,533.3 C1139.4,534.2 1143.6,537.2 1146.7,539.2 C1149.7,541.1 1154.2,543.8 1158.3,545.0 C1162.5,546.2 1167.2,546.9 1171.7,546.3 C1176.1,545.8 1181.9,543.1 1185.0,541.7 C1188.1,540.2 1191.4,538.6 1190.0,537.5 C1188.6,536.4 1181.1,535.3 1176.7,535.0 C1172.2,534.7 1167.8,536.0 1163.3,535.8 C1158.9,535.7 1153.9,534.6 1150.0,534.2 C1146.1,533.8 1140.6,532.5 1140.0,533.3 Z" fill="#222121"/>
<path d="M1345.0,451.7 C1344.7,449.4 1341.9,447.8 1340.0,446.7 C1338.1,445.6 1334.6,444.4 1333.3,445.0 C1332.1,445.6 1332.4,448.1 1332.5,450.0 C1332.6,451.9 1333.5,454.7 1334.2,456.7 C1334.9,458.6 1335.4,461.1 1336.7,461.7 C1337.9,462.2 1340.3,461.7 1341.7,460.0 C1343.1,458.3 1345.3,453.9 1345.0,451.7 Z" fill="#2E2D2D"/>
<path d="M1341.7,460.0 C1342.5,456.9 1345.3,455.3 1346.7,455.0 C1348.1,454.7 1348.3,457.2 1350.0,458.3 C1351.7,459.4 1354.4,460.6 1356.7,461.7 C1358.9,462.8 1361.2,463.9 1363.3,465.0 C1365.4,466.1 1368.1,467.2 1369.2,468.3 C1370.3,469.4 1370.4,470.7 1370.0,471.7 C1369.6,472.6 1368.3,473.6 1366.7,474.2 C1365.0,474.7 1362.8,474.9 1360.0,475.0 C1357.2,475.1 1353.1,475.3 1350.0,475.0 C1346.9,474.7 1343.1,475.8 1341.7,473.3 C1340.3,470.8 1340.8,463.1 1341.7,460.0 Z" fill="#8A8886"/>
<ellipse cx="1368.3" cy="470.8" rx="2" ry="2" fill="#1A1A1A"/>
<defs><clipPath id="gclip"><path d="M1163.5,679.2 C1164.0,678.2 1166.8,679.0 1167.6,680.2 C1168.5,681.4 1166.8,686.5 1168.6,686.4 C1170.5,686.2 1176.5,680.1 1178.9,679.2 C1181.3,678.4 1182.5,679.7 1183.0,681.3 C1183.5,682.8 1179.4,687.4 1181.9,688.4 C1184.5,689.4 1196.1,686.4 1198.3,687.4 C1200.5,688.4 1197.1,693.0 1195.2,694.5 C1193.4,696.1 1187.4,695.2 1187.1,696.6 C1186.7,698.0 1189.1,699.0 1193.2,702.7 C1197.3,706.5 1205.1,713.6 1211.6,719.1 C1218.1,724.6 1224.9,730.0 1232.1,735.5 C1239.2,740.9 1246.7,747.4 1254.6,751.8 C1262.4,756.3 1273.0,759.7 1279.1,762.1 C1285.3,764.4 1288.3,764.4 1291.4,766.2 C1294.5,767.9 1293.8,769.2 1297.5,772.3 C1301.3,775.4 1307.8,780.5 1313.9,784.6 C1320.0,788.7 1327.9,792.7 1334.4,796.8 C1340.8,800.9 1347.7,804.7 1352.8,809.1 C1357.9,813.5 1362.3,818.3 1365.0,823.4 C1367.8,828.6 1368.8,834.7 1369.1,839.8 C1369.5,844.9 1368.8,849.7 1367.1,854.1 C1365.4,858.6 1360.6,860.9 1358.9,866.4 C1357.2,871.9 1356.2,879.4 1356.9,886.9 C1357.5,894.4 1360.6,902.2 1363.0,911.4 C1365.4,920.6 1368.8,932.5 1371.2,942.1 C1373.6,951.6 1376.6,962.9 1377.3,968.7 C1378.0,974.5 1377.7,975.5 1375.3,976.9 C1372.9,978.2 1364.7,978.6 1363.0,976.9 C1361.3,975.2 1365.7,973.5 1365.0,966.6 C1364.4,959.8 1361.3,945.5 1358.9,936.0 C1356.5,926.4 1352.8,916.2 1350.7,909.4 C1348.7,902.5 1348.0,895.7 1346.6,895.0 C1345.3,894.4 1344.6,899.1 1342.5,905.3 C1340.5,911.4 1337.4,922.7 1334.4,931.9 C1331.3,941.1 1326.9,953.7 1324.1,960.5 C1321.4,967.3 1320.0,969.7 1318.0,972.8 C1315.9,975.9 1313.6,978.6 1311.8,978.9 C1310.1,979.3 1307.4,977.9 1307.8,974.8 C1308.1,971.8 1311.5,968.0 1313.9,960.5 C1316.3,953.0 1319.7,940.7 1322.1,929.8 C1324.5,918.9 1327.9,904.6 1328.2,895.0 C1328.6,885.5 1328.2,877.3 1324.1,872.5 C1320.0,867.8 1309.1,867.8 1303.7,866.4 C1298.2,865.0 1294.1,861.3 1291.4,864.4 C1288.7,867.4 1287.6,874.6 1287.3,884.8 C1287.0,895.0 1288.5,913.1 1289.3,925.7 C1290.2,938.3 1292.1,952.3 1292.4,960.5 C1292.8,968.7 1293.3,972.1 1291.4,974.8 C1289.5,977.6 1283.2,977.9 1281.2,976.9 C1279.1,975.9 1279.3,975.5 1279.1,968.7 C1278.9,961.9 1280.8,948.2 1280.1,936.0 C1279.5,923.7 1276.6,903.6 1275.0,895.0 C1273.5,886.5 1273.0,885.5 1270.9,884.8 C1268.9,884.1 1265.5,886.5 1262.7,890.9 C1260.0,895.4 1256.4,903.9 1254.6,911.4 C1252.7,918.9 1251.5,927.4 1251.5,936.0 C1251.5,944.5 1253.4,956.1 1254.6,962.6 C1255.8,969.0 1259.3,971.8 1258.7,974.8 C1258.0,977.9 1253.0,980.6 1250.5,981.0 C1247.9,981.3 1244.3,980.3 1243.3,976.9 C1242.3,973.5 1244.3,967.3 1244.3,960.5 C1244.3,953.7 1243.3,945.2 1243.3,936.0 C1243.3,926.8 1243.1,913.8 1244.3,905.3 C1245.5,896.7 1248.8,891.3 1250.5,884.8 C1252.2,878.3 1255.2,872.9 1254.6,866.4 C1253.9,859.9 1248.4,852.8 1246.4,845.9 C1244.3,839.1 1242.3,831.3 1242.3,825.5 C1242.3,819.7 1244.7,815.3 1246.4,811.2 C1248.1,807.1 1253.9,805.4 1252.5,800.9 C1251.2,796.5 1243.3,790.0 1238.2,784.6 C1233.1,779.1 1227.3,774.7 1221.8,768.2 C1216.4,761.7 1210.6,752.9 1205.5,745.7 C1200.4,738.5 1195.2,730.4 1191.1,725.2 C1187.1,720.1 1184.3,716.4 1180.9,715.0 C1177.5,713.6 1174.4,716.0 1170.7,717.1 C1166.9,718.1 1161.8,720.3 1158.4,721.1 C1155.0,722.0 1151.8,723.2 1150.2,722.2 C1148.7,721.1 1148.5,717.6 1149.2,715.0 C1149.9,712.5 1152.6,709.6 1154.3,706.8 C1156.0,704.1 1160.1,701.5 1159.4,698.6 C1158.8,695.7 1150.1,690.8 1150.2,689.4 C1150.4,688.1 1158.1,691.0 1160.5,690.5 C1162.8,689.9 1164.0,688.2 1164.5,686.4 C1165.1,684.5 1163.0,680.2 1163.5,679.2 Z"/></clipPath></defs>
<path d="M1163.5,679.2 C1164.0,678.2 1166.8,679.0 1167.6,680.2 C1168.5,681.4 1166.8,686.5 1168.6,686.4 C1170.5,686.2 1176.5,680.1 1178.9,679.2 C1181.3,678.4 1182.5,679.7 1183.0,681.3 C1183.5,682.8 1179.4,687.4 1181.9,688.4 C1184.5,689.4 1196.1,686.4 1198.3,687.4 C1200.5,688.4 1197.1,693.0 1195.2,694.5 C1193.4,696.1 1187.4,695.2 1187.1,696.6 C1186.7,698.0 1189.1,699.0 1193.2,702.7 C1197.3,706.5 1205.1,713.6 1211.6,719.1 C1218.1,724.6 1224.9,730.0 1232.1,735.5 C1239.2,740.9 1246.7,747.4 1254.6,751.8 C1262.4,756.3 1273.0,759.7 1279.1,762.1 C1285.3,764.4 1288.3,764.4 1291.4,766.2 C1294.5,767.9 1293.8,769.2 1297.5,772.3 C1301.3,775.4 1307.8,780.5 1313.9,784.6 C1320.0,788.7 1327.9,792.7 1334.4,796.8 C1340.8,800.9 1347.7,804.7 1352.8,809.1 C1357.9,813.5 1362.3,818.3 1365.0,823.4 C1367.8,828.6 1368.8,834.7 1369.1,839.8 C1369.5,844.9 1368.8,849.7 1367.1,854.1 C1365.4,858.6 1360.6,860.9 1358.9,866.4 C1357.2,871.9 1356.2,879.4 1356.9,886.9 C1357.5,894.4 1360.6,902.2 1363.0,911.4 C1365.4,920.6 1368.8,932.5 1371.2,942.1 C1373.6,951.6 1376.6,962.9 1377.3,968.7 C1378.0,974.5 1377.7,975.5 1375.3,976.9 C1372.9,978.2 1364.7,978.6 1363.0,976.9 C1361.3,975.2 1365.7,973.5 1365.0,966.6 C1364.4,959.8 1361.3,945.5 1358.9,936.0 C1356.5,926.4 1352.8,916.2 1350.7,909.4 C1348.7,902.5 1348.0,895.7 1346.6,895.0 C1345.3,894.4 1344.6,899.1 1342.5,905.3 C1340.5,911.4 1337.4,922.7 1334.4,931.9 C1331.3,941.1 1326.9,953.7 1324.1,960.5 C1321.4,967.3 1320.0,969.7 1318.0,972.8 C1315.9,975.9 1313.6,978.6 1311.8,978.9 C1310.1,979.3 1307.4,977.9 1307.8,974.8 C1308.1,971.8 1311.5,968.0 1313.9,960.5 C1316.3,953.0 1319.7,940.7 1322.1,929.8 C1324.5,918.9 1327.9,904.6 1328.2,895.0 C1328.6,885.5 1328.2,877.3 1324.1,872.5 C1320.0,867.8 1309.1,867.8 1303.7,866.4 C1298.2,865.0 1294.1,861.3 1291.4,864.4 C1288.7,867.4 1287.6,874.6 1287.3,884.8 C1287.0,895.0 1288.5,913.1 1289.3,925.7 C1290.2,938.3 1292.1,952.3 1292.4,960.5 C1292.8,968.7 1293.3,972.1 1291.4,974.8 C1289.5,977.6 1283.2,977.9 1281.2,976.9 C1279.1,975.9 1279.3,975.5 1279.1,968.7 C1278.9,961.9 1280.8,948.2 1280.1,936.0 C1279.5,923.7 1276.6,903.6 1275.0,895.0 C1273.5,886.5 1273.0,885.5 1270.9,884.8 C1268.9,884.1 1265.5,886.5 1262.7,890.9 C1260.0,895.4 1256.4,903.9 1254.6,911.4 C1252.7,918.9 1251.5,927.4 1251.5,936.0 C1251.5,944.5 1253.4,956.1 1254.6,962.6 C1255.8,969.0 1259.3,971.8 1258.7,974.8 C1258.0,977.9 1253.0,980.6 1250.5,981.0 C1247.9,981.3 1244.3,980.3 1243.3,976.9 C1242.3,973.5 1244.3,967.3 1244.3,960.5 C1244.3,953.7 1243.3,945.2 1243.3,936.0 C1243.3,926.8 1243.1,913.8 1244.3,905.3 C1245.5,896.7 1248.8,891.3 1250.5,884.8 C1252.2,878.3 1255.2,872.9 1254.6,866.4 C1253.9,859.9 1248.4,852.8 1246.4,845.9 C1244.3,839.1 1242.3,831.3 1242.3,825.5 C1242.3,819.7 1244.7,815.3 1246.4,811.2 C1248.1,807.1 1253.9,805.4 1252.5,800.9 C1251.2,796.5 1243.3,790.0 1238.2,784.6 C1233.1,779.1 1227.3,774.7 1221.8,768.2 C1216.4,761.7 1210.6,752.9 1205.5,745.7 C1200.4,738.5 1195.2,730.4 1191.1,725.2 C1187.1,720.1 1184.3,716.4 1180.9,715.0 C1177.5,713.6 1174.4,716.0 1170.7,717.1 C1166.9,718.1 1161.8,720.3 1158.4,721.1 C1155.0,722.0 1151.8,723.2 1150.2,722.2 C1148.7,721.1 1148.5,717.6 1149.2,715.0 C1149.9,712.5 1152.6,709.6 1154.3,706.8 C1156.0,704.1 1160.1,701.5 1159.4,698.6 C1158.8,695.7 1150.1,690.8 1150.2,689.4 C1150.4,688.1 1158.1,691.0 1160.5,690.5 C1162.8,689.9 1164.0,688.2 1164.5,686.4 C1165.1,684.5 1163.0,680.2 1163.5,679.2 Z" fill="#E9D3A8"/>
<g clip-path="url(#gclip)"><path d="M1148,674 1149,677 1149,680 1144,681 1142,679 1142,675Z" fill="#5A3017" stroke="#A0622E" stroke-width="1.6"/><path d="M1156,678 1151,676 1151,672 1154,671 1157,670 1159,675Z" fill="#5A3017" stroke="#A0622E" stroke-width="1.6"/><path d="M1163,681 1161,678 1163,674 1168,674 1169,676 1169,679Z" fill="#5A3017" stroke="#A0622E" stroke-width="1.6"/><path d="M1166,674 1171,672 1175,674 1175,677 1170,678 1167,676Z" fill="#5A3017" stroke="#A0622E" stroke-width="1.6"/><path d="M1187,678 1184,680 1181,681 1179,676 1182,673 1186,675Z" fill="#5A3017" stroke="#A0622E" stroke-width="1.6"/><path d="M1190,672 1195,675 1195,678 1191,680 1186,677 1186,674Z" fill="#5A3017" stroke="#A0622E" stroke-width="1.6"/><path d="M1199,679 1196,676 1199,672 1201,671 1205,675 1204,678Z" fill="#5A3017" stroke="#A0622E" stroke-width="1.6"/><path d="M1207,679 1206,675 1212,672 1215,674 1215,678 1212,679Z" fill="#5A3017" stroke="#A0622E" stroke-width="1.6"/><path d="M1216,682 1212,678 1214,675 1219,674 1221,676 1221,679Z" fill="#5A3017" stroke="#A0622E" stroke-width="1.6"/><path d="M1227,675 1230,674 1235,677 1233,681 1228,681 1225,678Z" fill="#5A3017" stroke="#A0622E" stroke-width="1.6"/><path d="M1236,681 1232,678 1234,674 1237,674 1240,676 1239,680Z" fill="#5A3017" stroke="#A0622E" stroke-width="1.6"/><path d="M1248,673 1252,676 1251,679 1245,680 1242,676 1244,674Z" fill="#5A3017" stroke="#A0622E" stroke-width="1.6"/><path d="M1258,676 1257,680 1254,681 1250,679 1250,675 1255,674Z" fill="#5A3017" stroke="#A0622E" stroke-width="1.6"/><path d="M1268,677 1264,678 1262,674 1263,671 1266,671 1270,674Z" fill="#5A3017" stroke="#A0622E" stroke-width="1.6"/><path d="M1268,675 1270,671 1275,671 1277,673 1275,677 1270,677Z" fill="#5A3017" stroke="#A0622E" stroke-width="1.6"/><path d="M1285,679 1281,681 1277,677 1278,674 1281,673 1285,675Z" fill="#5A3017" stroke="#A0622E" stroke-width="1.6"/><path d="M1289,675 1293,673 1300,676 1299,680 1292,682 1289,680Z" fill="#5A3017" stroke="#A0622E" stroke-width="1.6"/><path d="M1297,680 1298,676 1303,673 1307,674 1308,681 1305,683Z" fill="#5A3017" stroke="#A0622E" stroke-width="1.6"/><path d="M1308,679 1310,673 1315,672 1320,676 1318,679 1314,682Z" fill="#5A3017" stroke="#A0622E" stroke-width="1.6"/><path d="M1320,677 1323,673 1329,672 1331,676 1330,680 1324,681Z" fill="#5A3017" stroke="#A0622E" stroke-width="1.6"/><path d="M1345,677 1339,682 1336,679 1334,674 1338,671 1343,673Z" fill="#5A3017" stroke="#A0622E" stroke-width="1.6"/><path d="M1347,678 1345,674 1349,671 1356,673 1357,677 1351,680Z" fill="#5A3017" stroke="#A0622E" stroke-width="1.6"/><path d="M1356,677 1358,671 1362,672 1367,677 1363,680 1357,681Z" fill="#5A3017" stroke="#A0622E" stroke-width="1.6"/><path d="M1379,679 1376,682 1370,679 1368,676 1372,672 1378,674Z" fill="#5A3017" stroke="#A0622E" stroke-width="1.6"/><path d="M1155,685 1152,687 1146,684 1147,682 1151,679 1156,682Z" fill="#5A3017" stroke="#A0622E" stroke-width="1.6"/><path d="M1157,680 1163,680 1164,684 1162,687 1157,687 1155,683Z" fill="#5A3017" stroke="#A0622E" stroke-width="1.6"/><path d="M1167,681 1172,683 1172,686 1169,688 1165,688 1164,683Z" fill="#5A3017" stroke="#A0622E" stroke-width="1.6"/><path d="M1178,680 1184,682 1184,684 1179,687 1176,685 1176,682Z" fill="#5A3017" stroke="#A0622E" stroke-width="1.6"/><path d="M1183,682 1186,680 1191,684 1190,687 1186,688 1182,686Z" fill="#5A3017" stroke="#A0622E" stroke-width="1.6"/><path d="M1200,684 1197,687 1193,686 1191,683 1195,680 1199,681Z" fill="#5A3017" stroke="#A0622E" stroke-width="1.6"/><path d="M1201,687 1200,684 1203,681 1207,681 1208,685 1205,688Z" fill="#5A3017" stroke="#A0622E" stroke-width="1.6"/><path d="M1215,682 1218,682 1222,686 1218,689 1215,689 1213,686Z" fill="#5A3017" stroke="#A0622E" stroke-width="1.6"/><path d="M1221,690 1219,687 1223,684 1226,684 1228,689 1226,691Z" fill="#5A3017" stroke="#A0622E" stroke-width="1.6"/><path d="M1232,680 1236,682 1235,686 1232,687 1227,684 1229,681Z" fill="#5A3017" stroke="#A0622E" stroke-width="1.6"/><path d="M1239,686 1238,682 1240,680 1246,682 1246,685 1242,687Z" fill="#5A3017" stroke="#A0622E" stroke-width="1.6"/><path d="M1247,682 1251,680 1253,680 1256,685 1253,687 1247,686Z" fill="#5A3017" stroke="#A0622E" stroke-width="1.6"/><path d="M1262,682 1264,684 1262,689 1259,688 1256,686 1257,682Z" fill="#5A3017" stroke="#A0622E" stroke-width="1.6"/><path d="M1274,686 1272,688 1268,686 1267,683 1271,680 1275,683Z" fill="#5A3017" stroke="#A0622E" stroke-width="1.6"/><path d="M1276,686 1278,682 1282,682 1285,685 1284,687 1281,689Z" fill="#5A3017" stroke="#A0622E" stroke-width="1.6"/><path d="M1293,686 1291,687 1287,687 1285,682 1289,681 1293,682Z" fill="#5A3017" stroke="#A0622E" stroke-width="1.6"/><path d="M1293,680 1296,678 1302,680 1303,686 1296,688 1292,686Z" fill="#5A3017" stroke="#A0622E" stroke-width="1.6"/><path d="M1303,686 1304,681 1310,681 1315,684 1315,687 1310,690Z" fill="#5A3017" stroke="#A0622E" stroke-width="1.6"/><path d="M1317,690 1315,686 1319,682 1325,683 1327,688 1321,692Z" fill="#5A3017" stroke="#A0622E" stroke-width="1.6"/><path d="M1336,689 1332,689 1327,687 1331,681 1336,681 1339,685Z" fill="#5A3017" stroke="#A0622E" stroke-width="1.6"/><path d="M1342,691 1339,685 1343,682 1347,682 1350,687 1345,691Z" fill="#5A3017" stroke="#A0622E" stroke-width="1.6"/><path d="M1363,685 1363,689 1358,692 1352,688 1353,685 1356,682Z" fill="#5A3017" stroke="#A0622E" stroke-width="1.6"/><path d="M1365,681 1371,682 1373,686 1368,692 1362,689 1362,684Z" fill="#5A3017" stroke="#A0622E" stroke-width="1.6"/><path d="M1374,682 1378,679 1382,680 1384,684 1381,689 1374,687Z" fill="#5A3017" stroke="#A0622E" stroke-width="1.6"/><path d="M1143,689 1147,689 1149,693 1147,696 1141,695 1140,692Z" fill="#5A3017" stroke="#A0622E" stroke-width="1.6"/><path d="M1149,690 1153,689 1157,690 1156,695 1154,696 1149,694Z" fill="#5A3017" stroke="#A0622E" stroke-width="1.6"/><path d="M1158,691 1160,689 1165,691 1165,695 1162,697 1158,694Z" fill="#5A3017" stroke="#A0622E" stroke-width="1.6"/><path d="M1178,693 1177,698 1175,698 1171,697 1170,694 1173,691Z" fill="#5A3017" stroke="#A0622E" stroke-width="1.6"/><path d="M1185,692 1187,696 1184,699 1182,699 1179,697 1180,693Z" fill="#5A3017" stroke="#A0622E" stroke-width="1.6"/><path d="M1188,695 1187,692 1191,689 1196,690 1195,695 1192,697Z" fill="#5A3017" stroke="#A0622E" stroke-width="1.6"/><path d="M1195,694 1198,689 1201,689 1204,693 1202,696 1198,697Z" fill="#5A3017" stroke="#A0622E" stroke-width="1.6"/><path d="M1206,695 1205,692 1209,689 1214,692 1214,695 1210,696Z" fill="#5A3017" stroke="#A0622E" stroke-width="1.6"/><path d="M1220,689 1224,690 1224,694 1221,696 1215,693 1217,690Z" fill="#5A3017" stroke="#A0622E" stroke-width="1.6"/><path d="M1225,693 1230,693 1231,697 1228,700 1224,699 1222,697Z" fill="#5A3017" stroke="#A0622E" stroke-width="1.6"/><path d="M1240,693 1241,697 1238,699 1234,699 1232,695 1234,693Z" fill="#5A3017" stroke="#A0622E" stroke-width="1.6"/><path d="M1244,698 1241,696 1241,693 1248,691 1249,693 1248,698Z" fill="#5A3017" stroke="#A0622E" stroke-width="1.6"/><path d="M1255,697 1253,696 1252,692 1256,689 1259,691 1260,695Z" fill="#5A3017" stroke="#A0622E" stroke-width="1.6"/><path d="M1268,695 1265,697 1261,694 1261,691 1266,689 1269,692Z" fill="#5A3017" stroke="#A0622E" stroke-width="1.6"/><path d="M1278,696 1276,699 1271,698 1270,695 1272,692 1275,692Z" fill="#5A3017" stroke="#A0622E" stroke-width="1.6"/><path d="M1287,693 1287,698 1281,699 1279,697 1280,693 1283,691Z" fill="#5A3017" stroke="#A0622E" stroke-width="1.6"/><path d="M1297,691 1296,697 1293,699 1287,696 1288,692 1291,689Z" fill="#5A3017" stroke="#A0622E" stroke-width="1.6"/><path d="M1303,702 1297,698 1298,693 1302,691 1307,694 1306,700Z" fill="#5A3017" stroke="#A0622E" stroke-width="1.6"/><path d="M1322,696 1315,697 1311,695 1313,689 1317,688 1322,691Z" fill="#5A3017" stroke="#A0622E" stroke-width="1.6"/><path d="M1327,699 1324,699 1322,694 1326,690 1333,692 1333,695Z" fill="#5A3017" stroke="#A0622E" stroke-width="1.6"/><path d="M1339,688 1344,689 1345,696 1340,697 1335,696 1336,690Z" fill="#5A3017" stroke="#A0622E" stroke-width="1.6"/><path d="M1353,696 1348,698 1344,697 1343,691 1348,688 1352,691Z" fill="#5A3017" stroke="#A0622E" stroke-width="1.6"/><path d="M1366,692 1367,696 1361,699 1358,698 1355,693 1360,690Z" fill="#5A3017" stroke="#A0622E" stroke-width="1.6"/><path d="M1377,700 1373,701 1367,697 1367,694 1374,691 1379,695Z" fill="#5A3017" stroke="#A0622E" stroke-width="1.6"/><path d="M1155,704 1150,707 1147,705 1146,701 1152,699 1154,701Z" fill="#5A3017" stroke="#A0622E" stroke-width="1.6"/><path d="M1164,703 1162,706 1156,705 1156,702 1159,699 1162,700Z" fill="#5A3017" stroke="#A0622E" stroke-width="1.6"/><path d="M1167,706 1168,701 1171,700 1175,703 1175,707 1171,708Z" fill="#5A3017" stroke="#A0622E" stroke-width="1.6"/><path d="M1182,704 1180,706 1175,705 1174,701 1177,699 1182,700Z" fill="#5A3017" stroke="#A0622E" stroke-width="1.6"/><path d="M1185,699 1190,701 1190,702 1188,706 1183,705 1182,701Z" fill="#5A3017" stroke="#A0622E" stroke-width="1.6"/><path d="M1195,706 1192,703 1195,699 1200,700 1202,704 1199,706Z" fill="#5A3017" stroke="#A0622E" stroke-width="1.6"/><path d="M1203,704 1203,701 1208,698 1211,699 1212,704 1207,706Z" fill="#5A3017" stroke="#A0622E" stroke-width="1.6"/><path d="M1214,707 1212,704 1215,701 1219,701 1221,705 1218,708Z" fill="#5A3017" stroke="#A0622E" stroke-width="1.6"/><path d="M1229,706 1223,707 1220,704 1221,701 1225,700 1228,701Z" fill="#5A3017" stroke="#A0622E" stroke-width="1.6"/><path d="M1230,705 1232,701 1237,701 1239,705 1237,707 1231,707Z" fill="#5A3017" stroke="#A0622E" stroke-width="1.6"/><path d="M1240,698 1245,700 1245,704 1242,706 1237,703 1238,699Z" fill="#5A3017" stroke="#A0622E" stroke-width="1.6"/><path d="M1248,703 1255,702 1256,703 1257,707 1253,709 1249,707Z" fill="#5A3017" stroke="#A0622E" stroke-width="1.6"/><path d="M1257,708 1256,702 1259,701 1264,702 1265,705 1260,709Z" fill="#5A3017" stroke="#A0622E" stroke-width="1.6"/><path d="M1273,700 1276,703 1275,707 1270,708 1268,706 1268,703Z" fill="#5A3017" stroke="#A0622E" stroke-width="1.6"/><path d="M1282,709 1278,707 1276,704 1278,702 1282,701 1284,705Z" fill="#5A3017" stroke="#A0622E" stroke-width="1.6"/><path d="M1291,704 1289,707 1287,707 1283,706 1284,701 1289,700Z" fill="#5A3017" stroke="#A0622E" stroke-width="1.6"/><path d="M1294,704 1298,699 1303,700 1304,706 1301,708 1295,707Z" fill="#5A3017" stroke="#A0622E" stroke-width="1.6"/><path d="M1303,708 1303,702 1308,700 1312,702 1313,707 1308,709Z" fill="#5A3017" stroke="#A0622E" stroke-width="1.6"/><path d="M1316,706 1317,701 1322,699 1326,701 1326,706 1321,708Z" fill="#5A3017" stroke="#A0622E" stroke-width="1.6"/><path d="M1337,707 1331,710 1327,709 1326,703 1332,700 1336,702Z" fill="#5A3017" stroke="#A0622E" stroke-width="1.6"/><path d="M1346,698 1349,702 1346,707 1340,707 1337,703 1339,699Z" fill="#5A3017" stroke="#A0622E" stroke-width="1.6"/><path d="M1353,706 1351,703 1356,699 1360,698 1362,705 1360,707Z" fill="#5A3017" stroke="#A0622E" stroke-width="1.6"/><path d="M1371,705 1369,709 1362,708 1361,702 1366,700 1370,701Z" fill="#5A3017" stroke="#A0622E" stroke-width="1.6"/><path d="M1383,698 1384,705 1381,707 1374,704 1373,700 1378,697Z" fill="#5A3017" stroke="#A0622E" stroke-width="1.6"/><path d="M1147,711 1147,715 1143,716 1140,714 1140,710 1143,709Z" fill="#5A3017" stroke="#A0622E" stroke-width="1.6"/><path d="M1158,711 1159,714 1156,717 1152,716 1150,712 1153,710Z" fill="#5A3017" stroke="#A0622E" stroke-width="1.6"/><path d="M1166,717 1163,717 1162,712 1164,711 1168,710 1170,716Z" fill="#5A3017" stroke="#A0622E" stroke-width="1.6"/><path d="M1175,717 1171,716 1170,712 1173,710 1179,713 1178,717Z" fill="#5A3017" stroke="#A0622E" stroke-width="1.6"/><path d="M1180,715 1179,713 1182,710 1186,710 1188,714 1185,717Z" fill="#5A3017" stroke="#A0622E" stroke-width="1.6"/><path d="M1190,717 1187,713 1190,710 1193,710 1196,713 1195,715Z" fill="#5A3017" stroke="#A0622E" stroke-width="1.6"/><path d="M1197,708 1202,709 1203,712 1201,715 1196,715 1195,711Z" fill="#5A3017" stroke="#A0622E" stroke-width="1.6"/><path d="M1212,715 1208,715 1206,711 1208,707 1212,708 1215,712Z" fill="#5A3017" stroke="#A0622E" stroke-width="1.6"/><path d="M1213,712 1214,710 1219,709 1222,710 1222,714 1217,715Z" fill="#5A3017" stroke="#A0622E" stroke-width="1.6"/><path d="M1223,713 1222,710 1227,708 1230,709 1230,714 1228,715Z" fill="#5A3017" stroke="#A0622E" stroke-width="1.6"/><path d="M1235,708 1239,708 1241,712 1240,714 1234,714 1233,711Z" fill="#5A3017" stroke="#A0622E" stroke-width="1.6"/><path d="M1245,709 1250,710 1251,713 1248,716 1244,716 1242,713Z" fill="#5A3017" stroke="#A0622E" stroke-width="1.6"/><path d="M1252,714 1253,711 1257,710 1260,714 1259,717 1255,718Z" fill="#5A3017" stroke="#A0622E" stroke-width="1.6"/><path d="M1261,711 1264,708 1268,709 1271,711 1268,715 1264,715Z" fill="#5A3017" stroke="#A0622E" stroke-width="1.6"/><path d="M1272,710 1277,710 1279,713 1276,716 1271,716 1270,714Z" fill="#5A3017" stroke="#A0622E" stroke-width="1.6"/><path d="M1282,719 1278,716 1278,712 1282,711 1286,713 1285,716Z" fill="#5A3017" stroke="#A0622E" stroke-width="1.6"/><path d="M1293,708 1295,710 1295,715 1291,717 1286,714 1287,709Z" fill="#5A3017" stroke="#A0622E" stroke-width="1.6"/><path d="M1299,712 1304,709 1308,711 1309,714 1303,719 1298,717Z" fill="#5A3017" stroke="#A0622E" stroke-width="1.6"/><path d="M1307,712 1308,709 1315,708 1318,710 1317,716 1312,717Z" fill="#5A3017" stroke="#A0622E" stroke-width="1.6"/><path d="M1327,707 1331,709 1330,716 1325,717 1321,713 1322,709Z" fill="#5A3017" stroke="#A0622E" stroke-width="1.6"/><path d="M1332,715 1331,710 1335,706 1341,708 1341,713 1338,716Z" fill="#5A3017" stroke="#A0622E" stroke-width="1.6"/><path d="M1347,707 1355,709 1356,712 1350,717 1347,716 1344,712Z" fill="#5A3017" stroke="#A0622E" stroke-width="1.6"/><path d="M1365,711 1364,715 1359,718 1355,716 1354,711 1358,707Z" fill="#5A3017" stroke="#A0622E" stroke-width="1.6"/><path d="M1372,710 1379,712 1379,717 1375,719 1371,718 1369,713Z" fill="#5A3017" stroke="#A0622E" stroke-width="1.6"/><path d="M1154,721 1152,724 1148,725 1146,724 1147,719 1151,718Z" fill="#5A3017" stroke="#A0622E" stroke-width="1.6"/><path d="M1161,724 1155,723 1155,720 1158,717 1163,718 1164,723Z" fill="#5A3017" stroke="#A0622E" stroke-width="1.6"/><path d="M1168,725 1164,725 1163,720 1166,718 1171,719 1172,723Z" fill="#5A3017" stroke="#A0622E" stroke-width="1.6"/><path d="M1177,720 1179,719 1183,720 1183,725 1181,726 1177,725Z" fill="#5A3017" stroke="#A0622E" stroke-width="1.6"/><path d="M1186,718 1189,718 1192,721 1189,725 1184,724 1183,721Z" fill="#5A3017" stroke="#A0622E" stroke-width="1.6"/><path d="M1195,718 1198,718 1203,721 1201,724 1197,725 1195,723Z" fill="#5A3017" stroke="#A0622E" stroke-width="1.6"/><path d="M1211,722 1208,726 1205,726 1202,723 1204,720 1209,719Z" fill="#5A3017" stroke="#A0622E" stroke-width="1.6"/><path d="M1213,720 1215,718 1220,720 1220,725 1215,726 1213,725Z" fill="#5A3017" stroke="#A0622E" stroke-width="1.6"/><path d="M1221,720 1227,720 1228,724 1225,726 1220,726 1219,722Z" fill="#5A3017" stroke="#A0622E" stroke-width="1.6"/><path d="M1238,721 1238,725 1234,726 1230,724 1230,722 1233,718Z" fill="#5A3017" stroke="#A0622E" stroke-width="1.6"/><path d="M1245,718 1248,722 1246,725 1243,726 1238,722 1240,719Z" fill="#5A3017" stroke="#A0622E" stroke-width="1.6"/><path d="M1249,727 1248,723 1250,721 1254,721 1256,724 1255,727Z" fill="#5A3017" stroke="#A0622E" stroke-width="1.6"/><path d="M1259,726 1257,722 1260,719 1264,720 1266,724 1263,726Z" fill="#5A3017" stroke="#A0622E" stroke-width="1.6"/><path d="M1267,723 1271,720 1274,721 1275,725 1272,728 1267,725Z" fill="#5A3017" stroke="#A0622E" stroke-width="1.6"/><path d="M1281,718 1285,721 1283,724 1278,726 1276,724 1277,719Z" fill="#5A3017" stroke="#A0622E" stroke-width="1.6"/><path d="M1293,725 1289,725 1285,723 1286,719 1292,718 1293,720Z" fill="#5A3017" stroke="#A0622E" stroke-width="1.6"/><path d="M1293,722 1296,718 1300,717 1305,720 1304,725 1298,726Z" fill="#5A3017" stroke="#A0622E" stroke-width="1.6"/><path d="M1314,720 1310,726 1307,726 1303,723 1304,718 1311,717Z" fill="#5A3017" stroke="#A0622E" stroke-width="1.6"/><path d="M1325,724 1319,726 1314,723 1315,717 1324,717 1326,719Z" fill="#5A3017" stroke="#A0622E" stroke-width="1.6"/><path d="M1327,724 1329,720 1335,719 1337,722 1337,727 1331,728Z" fill="#5A3017" stroke="#A0622E" stroke-width="1.6"/><path d="M1348,720 1347,724 1341,727 1338,725 1337,719 1341,717Z" fill="#5A3017" stroke="#A0622E" stroke-width="1.6"/><path d="M1363,722 1359,726 1357,727 1350,723 1352,720 1356,717Z" fill="#5A3017" stroke="#A0622E" stroke-width="1.6"/><path d="M1369,727 1363,728 1359,722 1364,718 1369,719 1371,723Z" fill="#5A3017" stroke="#A0622E" stroke-width="1.6"/><path d="M1382,718 1386,720 1383,726 1379,727 1375,723 1377,717Z" fill="#5A3017" stroke="#A0622E" stroke-width="1.6"/><path d="M1140,731 1141,728 1148,728 1148,731 1146,734 1142,734Z" fill="#5A3017" stroke="#A0622E" stroke-width="1.6"/><path d="M1150,731 1151,728 1155,726 1158,728 1158,732 1153,733Z" fill="#5A3017" stroke="#A0622E" stroke-width="1.6"/><path d="M1161,729 1166,729 1168,732 1166,735 1162,735 1160,731Z" fill="#5A3017" stroke="#A0622E" stroke-width="1.6"/><path d="M1169,736 1168,730 1170,728 1175,730 1175,734 1173,735Z" fill="#5A3017" stroke="#A0622E" stroke-width="1.6"/><path d="M1186,733 1182,733 1178,731 1179,727 1183,726 1187,729Z" fill="#5A3017" stroke="#A0622E" stroke-width="1.6"/><path d="M1194,729 1193,732 1188,733 1185,731 1186,727 1191,726Z" fill="#5A3017" stroke="#A0622E" stroke-width="1.6"/><path d="M1196,732 1198,727 1201,727 1204,731 1203,734 1200,735Z" fill="#5A3017" stroke="#A0622E" stroke-width="1.6"/><path d="M1205,729 1209,727 1213,729 1214,732 1210,735 1205,733Z" fill="#5A3017" stroke="#A0622E" stroke-width="1.6"/><path d="M1217,737 1215,734 1218,729 1221,729 1224,733 1221,736Z" fill="#5A3017" stroke="#A0622E" stroke-width="1.6"/><path d="M1230,727 1233,730 1231,735 1227,734 1224,730 1226,728Z" fill="#5A3017" stroke="#A0622E" stroke-width="1.6"/><path d="M1238,733 1234,733 1232,729 1237,726 1240,727 1242,730Z" fill="#5A3017" stroke="#A0622E" stroke-width="1.6"/><path d="M1246,728 1249,730 1250,734 1247,735 1242,734 1243,730Z" fill="#5A3017" stroke="#A0622E" stroke-width="1.6"/><path d="M1251,732 1249,729 1251,726 1255,725 1258,730 1257,732Z" fill="#5A3017" stroke="#A0622E" stroke-width="1.6"/><path d="M1264,728 1268,730 1268,735 1265,736 1261,734 1260,730Z" fill="#5A3017" stroke="#A0622E" stroke-width="1.6"/><path d="M1276,732 1277,734 1274,737 1268,736 1268,732 1273,730Z" fill="#5A3017" stroke="#A0622E" stroke-width="1.6"/><path d="M1278,730 1283,729 1286,731 1286,734 1281,736 1279,735Z" fill="#5A3017" stroke="#A0622E" stroke-width="1.6"/><path d="M1288,732 1291,727 1298,728 1300,732 1296,736 1292,736Z" fill="#5A3017" stroke="#A0622E" stroke-width="1.6"/><path d="M1302,738 1299,736 1297,732 1303,728 1307,730 1308,736Z" fill="#5A3017" stroke="#A0622E" stroke-width="1.6"/><path d="M1311,731 1316,727 1321,727 1321,734 1316,737 1311,734Z" fill="#5A3017" stroke="#A0622E" stroke-width="1.6"/><path d="M1332,731 1330,737 1324,737 1320,734 1323,730 1329,728Z" fill="#5A3017" stroke="#A0622E" stroke-width="1.6"/><path d="M1337,726 1343,727 1344,731 1340,735 1336,734 1334,730Z" fill="#5A3017" stroke="#A0622E" stroke-width="1.6"/><path d="M1356,726 1357,731 1354,734 1348,733 1346,727 1350,725Z" fill="#5A3017" stroke="#A0622E" stroke-width="1.6"/><path d="M1368,733 1362,736 1357,731 1358,728 1364,726 1369,729Z" fill="#5A3017" stroke="#A0622E" stroke-width="1.6"/><path d="M1375,727 1379,731 1378,734 1372,735 1367,732 1370,727Z" fill="#5A3017" stroke="#A0622E" stroke-width="1.6"/><path d="M1146,741 1148,738 1153,738 1155,741 1153,744 1149,744Z" fill="#5A3017" stroke="#A0622E" stroke-width="1.6"/><path d="M1160,736 1163,739 1162,742 1159,744 1155,742 1154,739Z" fill="#5A3017" stroke="#A0622E" stroke-width="1.6"/><path d="M1165,737 1169,736 1172,738 1171,742 1167,743 1165,742Z" fill="#5A3017" stroke="#A0622E" stroke-width="1.6"/><path d="M1172,741 1174,737 1178,737 1181,741 1178,744 1175,744Z" fill="#5A3017" stroke="#A0622E" stroke-width="1.6"/><path d="M1190,737 1193,738 1193,742 1188,744 1186,743 1185,739Z" fill="#5A3017" stroke="#A0622E" stroke-width="1.6"/><path d="M1197,735 1200,737 1200,742 1196,743 1192,741 1193,736Z" fill="#5A3017" stroke="#A0622E" stroke-width="1.6"/><path d="M1203,744 1204,739 1207,738 1211,740 1212,743 1207,746Z" fill="#5A3017" stroke="#A0622E" stroke-width="1.6"/><path d="M1218,737 1219,742 1217,743 1213,744 1211,739 1215,737Z" fill="#5A3017" stroke="#A0622E" stroke-width="1.6"/><path d="M1224,743 1220,741 1219,737 1223,736 1228,739 1227,742Z" fill="#5A3017" stroke="#A0622E" stroke-width="1.6"/><path d="M1231,741 1235,738 1238,740 1239,743 1235,746 1232,744Z" fill="#5A3017" stroke="#A0622E" stroke-width="1.6"/><path d="M1240,742 1239,740 1243,737 1247,737 1248,741 1245,743Z" fill="#5A3017" stroke="#A0622E" stroke-width="1.6"/><path d="M1251,738 1253,739 1256,742 1256,745 1250,745 1247,743Z" fill="#5A3017" stroke="#A0622E" stroke-width="1.6"/><path d="M1261,743 1256,742 1255,739 1258,736 1264,738 1264,741Z" fill="#5A3017" stroke="#A0622E" stroke-width="1.6"/><path d="M1271,734 1275,737 1274,741 1271,742 1267,741 1268,736Z" fill="#5A3017" stroke="#A0622E" stroke-width="1.6"/><path d="M1280,744 1276,743 1275,741 1277,737 1281,738 1283,742Z" fill="#5A3017" stroke="#A0622E" stroke-width="1.6"/><path d="M1291,737 1292,740 1289,743 1285,743 1283,739 1286,736Z" fill="#5A3017" stroke="#A0622E" stroke-width="1.6"/><path d="M1299,745 1295,746 1292,740 1295,736 1301,736 1303,740Z" fill="#5A3017" stroke="#A0622E" stroke-width="1.6"/><path d="M1308,735 1312,735 1316,741 1311,745 1305,743 1304,739Z" fill="#5A3017" stroke="#A0622E" stroke-width="1.6"/><path d="M1319,736 1324,734 1328,739 1325,743 1320,744 1317,740Z" fill="#5A3017" stroke="#A0622E" stroke-width="1.6"/><path d="M1335,747 1328,744 1327,740 1331,737 1337,738 1338,743Z" fill="#5A3017" stroke="#A0622E" stroke-width="1.6"/><path d="M1351,741 1347,743 1340,740 1342,736 1345,735 1351,736Z" fill="#5A3017" stroke="#A0622E" stroke-width="1.6"/><path d="M1360,741 1358,744 1351,742 1350,738 1354,735 1361,737Z" fill="#5A3017" stroke="#A0622E" stroke-width="1.6"/><path d="M1362,743 1362,738 1366,735 1371,737 1373,741 1367,745Z" fill="#5A3017" stroke="#A0622E" stroke-width="1.6"/><path d="M1385,736 1385,740 1378,743 1375,742 1375,735 1378,734Z" fill="#5A3017" stroke="#A0622E" stroke-width="1.6"/><path d="M1150,752 1147,753 1142,750 1142,747 1148,745 1151,747Z" fill="#5A3017" stroke="#A0622E" stroke-width="1.6"/><path d="M1158,748 1161,752 1160,754 1156,755 1152,752 1153,748Z" fill="#5A3017" stroke="#A0622E" stroke-width="1.6"/><path d="M1169,747 1168,752 1164,753 1161,749 1162,746 1165,745Z" fill="#5A3017" stroke="#A0622E" stroke-width="1.6"/><path d="M1170,751 1170,749 1175,746 1178,748 1177,752 1175,754Z" fill="#5A3017" stroke="#A0622E" stroke-width="1.6"/><path d="M1180,753 1179,749 1183,747 1187,747 1188,751 1184,754Z" fill="#5A3017" stroke="#A0622E" stroke-width="1.6"/><path d="M1188,750 1190,746 1194,744 1196,747 1196,750 1192,753Z" fill="#5A3017" stroke="#A0622E" stroke-width="1.6"/><path d="M1204,745 1206,749 1204,751 1200,751 1198,749 1199,745Z" fill="#5A3017" stroke="#A0622E" stroke-width="1.6"/><path d="M1211,744 1214,746 1214,750 1212,751 1207,750 1205,747Z" fill="#5A3017" stroke="#A0622E" stroke-width="1.6"/><path d="M1217,745 1223,748 1222,751 1218,753 1214,751 1214,747Z" fill="#5A3017" stroke="#A0622E" stroke-width="1.6"/><path d="M1225,752 1227,748 1231,748 1233,750 1232,753 1228,755Z" fill="#5A3017" stroke="#A0622E" stroke-width="1.6"/><path d="M1242,750 1241,753 1236,754 1234,752 1234,748 1239,746Z" fill="#5A3017" stroke="#A0622E" stroke-width="1.6"/><path d="M1249,752 1247,755 1244,755 1239,752 1240,749 1246,748Z" fill="#5A3017" stroke="#A0622E" stroke-width="1.6"/><path d="M1249,750 1252,746 1257,746 1259,751 1255,753 1252,753Z" fill="#5A3017" stroke="#A0622E" stroke-width="1.6"/><path d="M1268,745 1270,749 1267,752 1263,751 1262,749 1264,745Z" fill="#5A3017" stroke="#A0622E" stroke-width="1.6"/><path d="M1270,753 1270,749 1273,747 1277,749 1278,751 1274,755Z" fill="#5A3017" stroke="#A0622E" stroke-width="1.6"/><path d="M1279,751 1278,748 1284,747 1287,748 1286,752 1282,754Z" fill="#5A3017" stroke="#A0622E" stroke-width="1.6"/><path d="M1297,744 1300,748 1295,753 1289,751 1288,748 1292,743Z" fill="#5A3017" stroke="#A0622E" stroke-width="1.6"/><path d="M1306,744 1309,747 1308,752 1303,752 1298,750 1299,744Z" fill="#5A3017" stroke="#A0622E" stroke-width="1.6"/><path d="M1314,755 1309,752 1308,747 1315,745 1320,749 1319,754Z" fill="#5A3017" stroke="#A0622E" stroke-width="1.6"/><path d="M1328,747 1332,751 1330,755 1325,757 1319,752 1320,749Z" fill="#5A3017" stroke="#A0622E" stroke-width="1.6"/><path d="M1344,746 1345,750 1339,754 1335,752 1334,746 1337,744Z" fill="#5A3017" stroke="#A0622E" stroke-width="1.6"/><path d="M1353,752 1348,754 1342,752 1343,746 1350,744 1354,749Z" fill="#5A3017" stroke="#A0622E" stroke-width="1.6"/><path d="M1367,747 1369,751 1365,756 1359,754 1357,749 1360,746Z" fill="#5A3017" stroke="#A0622E" stroke-width="1.6"/><path d="M1369,747 1372,744 1379,745 1380,749 1376,753 1372,753Z" fill="#5A3017" stroke="#A0622E" stroke-width="1.6"/><path d="M1147,759 1150,756 1154,757 1156,761 1153,763 1151,763Z" fill="#5A3017" stroke="#A0622E" stroke-width="1.6"/><path d="M1157,756 1163,755 1165,757 1164,761 1160,762 1157,761Z" fill="#5A3017" stroke="#A0622E" stroke-width="1.6"/><path d="M1169,764 1163,760 1164,757 1167,755 1172,757 1172,761Z" fill="#5A3017" stroke="#A0622E" stroke-width="1.6"/><path d="M1175,761 1175,757 1177,755 1183,757 1182,760 1178,763Z" fill="#5A3017" stroke="#A0622E" stroke-width="1.6"/><path d="M1185,763 1183,761 1185,758 1190,757 1192,762 1189,764Z" fill="#5A3017" stroke="#A0622E" stroke-width="1.6"/><path d="M1195,762 1194,759 1197,756 1202,758 1203,762 1197,764Z" fill="#5A3017" stroke="#A0622E" stroke-width="1.6"/><path d="M1204,758 1208,758 1211,761 1208,764 1203,764 1202,759Z" fill="#5A3017" stroke="#A0622E" stroke-width="1.6"/><path d="M1218,754 1221,758 1219,761 1214,761 1212,757 1213,755Z" fill="#5A3017" stroke="#A0622E" stroke-width="1.6"/><path d="M1226,763 1222,761 1221,758 1225,756 1229,757 1230,761Z" fill="#5A3017" stroke="#A0622E" stroke-width="1.6"/><path d="M1230,757 1235,757 1237,761 1234,764 1228,762 1228,760Z" fill="#5A3017" stroke="#A0622E" stroke-width="1.6"/><path d="M1241,754 1244,754 1248,756 1246,760 1244,761 1240,759Z" fill="#5A3017" stroke="#A0622E" stroke-width="1.6"/><path d="M1249,760 1249,757 1254,755 1256,755 1258,759 1253,762Z" fill="#5A3017" stroke="#A0622E" stroke-width="1.6"/><path d="M1265,759 1264,763 1260,765 1257,762 1258,758 1262,757Z" fill="#5A3017" stroke="#A0622E" stroke-width="1.6"/><path d="M1275,759 1273,762 1269,762 1267,759 1268,757 1271,755Z" fill="#5A3017" stroke="#A0622E" stroke-width="1.6"/><path d="M1274,758 1277,757 1282,758 1283,761 1280,763 1275,762Z" fill="#5A3017" stroke="#A0622E" stroke-width="1.6"/><path d="M1286,758 1290,755 1295,756 1295,761 1291,764 1286,763Z" fill="#5A3017" stroke="#A0622E" stroke-width="1.6"/><path d="M1299,754 1303,754 1306,758 1301,764 1298,763 1294,757Z" fill="#5A3017" stroke="#A0622E" stroke-width="1.6"/><path d="M1310,756 1315,757 1317,761 1314,766 1309,765 1306,760Z" fill="#5A3017" stroke="#A0622E" stroke-width="1.6"/><path d="M1321,756 1328,757 1330,760 1327,764 1322,764 1318,759Z" fill="#5A3017" stroke="#A0622E" stroke-width="1.6"/><path d="M1342,760 1341,764 1333,764 1331,761 1334,756 1338,756Z" fill="#5A3017" stroke="#A0622E" stroke-width="1.6"/><path d="M1343,763 1343,758 1349,756 1353,758 1354,762 1348,765Z" fill="#5A3017" stroke="#A0622E" stroke-width="1.6"/><path d="M1358,766 1354,764 1351,759 1354,756 1362,758 1363,761Z" fill="#5A3017" stroke="#A0622E" stroke-width="1.6"/><path d="M1363,758 1367,755 1372,758 1374,764 1371,766 1364,763Z" fill="#5A3017" stroke="#A0622E" stroke-width="1.6"/><path d="M1145,762 1149,767 1147,769 1143,770 1140,765 1142,762Z" fill="#5A3017" stroke="#A0622E" stroke-width="1.6"/><path d="M1158,765 1158,769 1156,772 1151,769 1150,766 1153,764Z" fill="#5A3017" stroke="#A0622E" stroke-width="1.6"/><path d="M1161,764 1166,766 1166,768 1162,771 1159,772 1157,767Z" fill="#5A3017" stroke="#A0622E" stroke-width="1.6"/><path d="M1170,768 1174,764 1177,765 1179,767 1176,771 1171,770Z" fill="#5A3017" stroke="#A0622E" stroke-width="1.6"/><path d="M1177,771 1176,767 1179,764 1183,765 1185,769 1182,772Z" fill="#5A3017" stroke="#A0622E" stroke-width="1.6"/><path d="M1189,767 1190,764 1194,763 1196,765 1196,770 1192,771Z" fill="#5A3017" stroke="#A0622E" stroke-width="1.6"/><path d="M1198,765 1203,765 1205,768 1202,772 1198,772 1195,770Z" fill="#5A3017" stroke="#A0622E" stroke-width="1.6"/><path d="M1205,766 1208,763 1212,765 1212,769 1207,771 1205,769Z" fill="#5A3017" stroke="#A0622E" stroke-width="1.6"/><path d="M1222,767 1221,770 1216,771 1214,770 1214,765 1217,764Z" fill="#5A3017" stroke="#A0622E" stroke-width="1.6"/><path d="M1229,762 1234,764 1232,769 1230,770 1226,769 1225,764Z" fill="#5A3017" stroke="#A0622E" stroke-width="1.6"/><path d="M1235,773 1232,771 1232,766 1237,766 1239,767 1238,772Z" fill="#5A3017" stroke="#A0622E" stroke-width="1.6"/><path d="M1242,768 1242,764 1246,763 1250,766 1248,770 1246,770Z" fill="#5A3017" stroke="#A0622E" stroke-width="1.6"/><path d="M1256,766 1259,767 1258,772 1254,773 1251,772 1252,766Z" fill="#5A3017" stroke="#A0622E" stroke-width="1.6"/><path d="M1264,773 1260,771 1260,767 1264,765 1268,767 1268,769Z" fill="#5A3017" stroke="#A0622E" stroke-width="1.6"/><path d="M1279,764 1280,768 1277,770 1272,769 1271,765 1273,763Z" fill="#5A3017" stroke="#A0622E" stroke-width="1.6"/><path d="M1281,771 1281,767 1284,766 1288,767 1289,771 1284,773Z" fill="#5A3017" stroke="#A0622E" stroke-width="1.6"/><path d="M1299,766 1299,771 1292,773 1288,769 1288,765 1294,763Z" fill="#5A3017" stroke="#A0622E" stroke-width="1.6"/><path d="M1311,766 1310,770 1303,771 1300,766 1303,763 1308,762Z" fill="#5A3017" stroke="#A0622E" stroke-width="1.6"/><path d="M1321,768 1318,771 1313,771 1310,767 1315,762 1319,763Z" fill="#5A3017" stroke="#A0622E" stroke-width="1.6"/><path d="M1329,774 1322,773 1323,767 1326,764 1333,767 1332,773Z" fill="#5A3017" stroke="#A0622E" stroke-width="1.6"/><path d="M1334,768 1338,764 1344,765 1345,770 1344,773 1338,775Z" fill="#5A3017" stroke="#A0622E" stroke-width="1.6"/><path d="M1350,765 1356,766 1356,772 1351,775 1346,772 1346,767Z" fill="#5A3017" stroke="#A0622E" stroke-width="1.6"/><path d="M1363,771 1356,771 1354,769 1357,763 1363,763 1366,768Z" fill="#5A3017" stroke="#A0622E" stroke-width="1.6"/><path d="M1375,774 1369,773 1368,769 1370,765 1377,765 1378,771Z" fill="#5A3017" stroke="#A0622E" stroke-width="1.6"/><path d="M1147,776 1152,774 1157,778 1156,782 1149,784 1146,780Z" fill="#5A3017" stroke="#A0622E" stroke-width="1.6"/><path d="M1167,778 1163,783 1157,783 1155,779 1158,774 1165,776Z" fill="#5A3017" stroke="#A0622E" stroke-width="1.6"/><path d="M1181,778 1177,783 1171,782 1168,778 1173,774 1178,774Z" fill="#5A3017" stroke="#A0622E" stroke-width="1.6"/><path d="M1191,774 1192,778 1187,781 1181,779 1180,775 1185,772Z" fill="#5A3017" stroke="#A0622E" stroke-width="1.6"/><path d="M1203,776 1204,781 1199,783 1192,778 1194,775 1201,774Z" fill="#5A3017" stroke="#A0622E" stroke-width="1.6"/><path d="M1212,776 1212,778 1206,782 1201,780 1202,773 1206,772Z" fill="#5A3017" stroke="#A0622E" stroke-width="1.6"/><path d="M1224,778 1219,782 1215,782 1212,777 1216,773 1221,774Z" fill="#5A3017" stroke="#A0622E" stroke-width="1.6"/><path d="M1225,776 1227,772 1235,772 1237,775 1233,780 1228,780Z" fill="#5A3017" stroke="#A0622E" stroke-width="1.6"/><path d="M1239,779 1240,774 1244,774 1250,777 1249,780 1241,783Z" fill="#5A3017" stroke="#A0622E" stroke-width="1.6"/><path d="M1256,771 1261,772 1261,777 1257,780 1251,778 1250,773Z" fill="#5A3017" stroke="#A0622E" stroke-width="1.6"/><path d="M1261,777 1266,774 1271,775 1273,780 1269,784 1264,782Z" fill="#5A3017" stroke="#A0622E" stroke-width="1.6"/><path d="M1277,783 1274,780 1275,776 1279,773 1285,778 1282,782Z" fill="#5A3017" stroke="#A0622E" stroke-width="1.6"/><path d="M1290,784 1283,781 1283,777 1290,774 1293,777 1293,782Z" fill="#5A3017" stroke="#A0622E" stroke-width="1.6"/><path d="M1304,779 1300,780 1294,777 1295,773 1300,771 1303,773Z" fill="#5A3017" stroke="#A0622E" stroke-width="1.6"/><path d="M1316,779 1312,781 1306,778 1310,772 1315,771 1318,776Z" fill="#5A3017" stroke="#A0622E" stroke-width="1.6"/><path d="M1322,774 1330,777 1329,780 1326,784 1319,781 1320,776Z" fill="#5A3017" stroke="#A0622E" stroke-width="1.6"/><path d="M1334,782 1328,779 1329,776 1334,772 1338,775 1339,779Z" fill="#5A3017" stroke="#A0622E" stroke-width="1.6"/><path d="M1344,771 1350,772 1352,774 1349,780 1344,780 1341,777Z" fill="#5A3017" stroke="#A0622E" stroke-width="1.6"/><path d="M1361,781 1353,779 1353,774 1357,772 1361,773 1363,776Z" fill="#5A3017" stroke="#A0622E" stroke-width="1.6"/><path d="M1363,775 1370,774 1374,778 1373,782 1366,784 1363,779Z" fill="#5A3017" stroke="#A0622E" stroke-width="1.6"/><path d="M1151,786 1152,792 1146,793 1142,792 1141,787 1147,783Z" fill="#5A3017" stroke="#A0622E" stroke-width="1.6"/><path d="M1158,794 1154,793 1152,789 1156,785 1161,786 1164,790Z" fill="#5A3017" stroke="#A0622E" stroke-width="1.6"/><path d="M1173,784 1172,789 1170,791 1163,789 1162,786 1166,782Z" fill="#5A3017" stroke="#A0622E" stroke-width="1.6"/><path d="M1174,792 1173,786 1179,784 1183,785 1185,789 1180,794Z" fill="#5A3017" stroke="#A0622E" stroke-width="1.6"/><path d="M1188,791 1185,786 1187,783 1194,782 1197,786 1194,791Z" fill="#5A3017" stroke="#A0622E" stroke-width="1.6"/><path d="M1199,791 1195,788 1197,782 1203,783 1207,785 1202,791Z" fill="#5A3017" stroke="#A0622E" stroke-width="1.6"/><path d="M1219,789 1215,794 1211,793 1207,788 1208,785 1213,785Z" fill="#5A3017" stroke="#A0622E" stroke-width="1.6"/><path d="M1221,788 1223,785 1230,785 1233,790 1228,793 1224,793Z" fill="#5A3017" stroke="#A0622E" stroke-width="1.6"/><path d="M1242,787 1241,792 1232,791 1231,787 1235,783 1241,783Z" fill="#5A3017" stroke="#A0622E" stroke-width="1.6"/><path d="M1250,792 1244,790 1244,786 1251,783 1255,786 1254,789Z" fill="#5A3017" stroke="#A0622E" stroke-width="1.6"/><path d="M1260,791 1255,789 1253,783 1258,780 1262,782 1264,788Z" fill="#5A3017" stroke="#A0622E" stroke-width="1.6"/><path d="M1274,784 1278,788 1277,792 1272,793 1266,790 1267,786Z" fill="#5A3017" stroke="#A0622E" stroke-width="1.6"/><path d="M1276,789 1277,784 1282,783 1287,786 1285,792 1280,793Z" fill="#5A3017" stroke="#A0622E" stroke-width="1.6"/><path d="M1299,786 1297,792 1291,793 1288,790 1289,784 1295,783Z" fill="#5A3017" stroke="#A0622E" stroke-width="1.6"/><path d="M1300,789 1301,782 1305,782 1311,785 1309,789 1304,792Z" fill="#5A3017" stroke="#A0622E" stroke-width="1.6"/><path d="M1315,792 1312,787 1316,784 1321,783 1324,787 1321,793Z" fill="#5A3017" stroke="#A0622E" stroke-width="1.6"/><path d="M1329,783 1336,784 1336,788 1331,792 1328,792 1325,785Z" fill="#5A3017" stroke="#A0622E" stroke-width="1.6"/><path d="M1344,785 1345,789 1342,793 1336,792 1333,788 1336,783Z" fill="#5A3017" stroke="#A0622E" stroke-width="1.6"/><path d="M1348,790 1349,787 1353,785 1359,786 1358,792 1352,794Z" fill="#5A3017" stroke="#A0622E" stroke-width="1.6"/><path d="M1360,792 1358,789 1363,785 1369,785 1371,788 1367,794Z" fill="#5A3017" stroke="#A0622E" stroke-width="1.6"/><path d="M1371,784 1377,783 1380,786 1377,792 1373,792 1369,787Z" fill="#5A3017" stroke="#A0622E" stroke-width="1.6"/><path d="M1150,795 1154,795 1158,801 1157,804 1148,804 1147,801Z" fill="#5A3017" stroke="#A0622E" stroke-width="1.6"/><path d="M1156,796 1159,795 1166,796 1166,801 1163,804 1157,803Z" fill="#5A3017" stroke="#A0622E" stroke-width="1.6"/><path d="M1177,794 1180,798 1175,803 1170,801 1169,797 1172,793Z" fill="#5A3017" stroke="#A0622E" stroke-width="1.6"/><path d="M1184,792 1190,796 1189,800 1185,803 1180,799 1179,795Z" fill="#5A3017" stroke="#A0622E" stroke-width="1.6"/><path d="M1203,799 1201,803 1194,803 1192,798 1197,794 1201,794Z" fill="#5A3017" stroke="#A0622E" stroke-width="1.6"/><path d="M1203,803 1202,801 1203,794 1208,794 1213,799 1211,802Z" fill="#5A3017" stroke="#A0622E" stroke-width="1.6"/><path d="M1216,800 1216,795 1220,794 1226,795 1226,802 1222,804Z" fill="#5A3017" stroke="#A0622E" stroke-width="1.6"/><path d="M1226,801 1225,799 1230,793 1233,794 1237,798 1233,803Z" fill="#5A3017" stroke="#A0622E" stroke-width="1.6"/><path d="M1238,795 1242,794 1249,796 1247,800 1242,804 1237,799Z" fill="#5A3017" stroke="#A0622E" stroke-width="1.6"/><path d="M1255,791 1260,795 1258,799 1253,801 1249,798 1252,792Z" fill="#5A3017" stroke="#A0622E" stroke-width="1.6"/><path d="M1261,798 1263,793 1267,792 1271,795 1269,801 1265,802Z" fill="#5A3017" stroke="#A0622E" stroke-width="1.6"/><path d="M1276,805 1272,800 1273,796 1281,795 1282,798 1282,803Z" fill="#5A3017" stroke="#A0622E" stroke-width="1.6"/><path d="M1286,801 1282,797 1285,792 1291,792 1294,795 1293,800Z" fill="#5A3017" stroke="#A0622E" stroke-width="1.6"/><path d="M1299,795 1304,794 1308,798 1306,803 1299,803 1296,797Z" fill="#5A3017" stroke="#A0622E" stroke-width="1.6"/><path d="M1316,802 1309,803 1306,798 1309,794 1312,793 1318,797Z" fill="#5A3017" stroke="#A0622E" stroke-width="1.6"/><path d="M1320,802 1318,796 1323,794 1329,797 1329,801 1326,803Z" fill="#5A3017" stroke="#A0622E" stroke-width="1.6"/><path d="M1331,799 1333,795 1338,793 1343,798 1342,802 1335,803Z" fill="#5A3017" stroke="#A0622E" stroke-width="1.6"/><path d="M1341,799 1339,796 1342,792 1349,792 1351,796 1347,800Z" fill="#5A3017" stroke="#A0622E" stroke-width="1.6"/><path d="M1356,794 1360,794 1365,798 1364,802 1355,802 1353,798Z" fill="#5A3017" stroke="#A0622E" stroke-width="1.6"/><path d="M1364,794 1370,791 1373,791 1376,799 1371,800 1365,800Z" fill="#5A3017" stroke="#A0622E" stroke-width="1.6"/><path d="M1139,806 1143,804 1150,807 1150,812 1145,813 1140,812Z" fill="#5A3017" stroke="#A0622E" stroke-width="1.6"/><path d="M1150,809 1151,805 1158,804 1161,808 1158,813 1154,813Z" fill="#5A3017" stroke="#A0622E" stroke-width="1.6"/><path d="M1164,805 1170,806 1172,809 1170,813 1164,813 1160,808Z" fill="#5A3017" stroke="#A0622E" stroke-width="1.6"/><path d="M1185,802 1185,808 1180,811 1176,808 1177,804 1179,801Z" fill="#5A3017" stroke="#A0622E" stroke-width="1.6"/><path d="M1196,813 1189,814 1185,810 1187,806 1193,804 1196,807Z" fill="#5A3017" stroke="#A0622E" stroke-width="1.6"/><path d="M1208,812 1204,812 1198,809 1200,803 1205,803 1209,805Z" fill="#5A3017" stroke="#A0622E" stroke-width="1.6"/><path d="M1213,804 1219,804 1221,807 1219,812 1213,812 1210,810Z" fill="#5A3017" stroke="#A0622E" stroke-width="1.6"/><path d="M1224,811 1218,809 1220,803 1224,802 1228,803 1228,810Z" fill="#5A3017" stroke="#A0622E" stroke-width="1.6"/><path d="M1230,808 1229,805 1234,802 1241,804 1240,809 1235,812Z" fill="#5A3017" stroke="#A0622E" stroke-width="1.6"/><path d="M1246,803 1253,803 1255,805 1255,811 1246,812 1244,810Z" fill="#5A3017" stroke="#A0622E" stroke-width="1.6"/><path d="M1263,805 1267,809 1263,814 1256,812 1254,809 1258,805Z" fill="#5A3017" stroke="#A0622E" stroke-width="1.6"/><path d="M1265,807 1271,804 1276,805 1276,809 1273,813 1266,811Z" fill="#5A3017" stroke="#A0622E" stroke-width="1.6"/><path d="M1289,809 1284,812 1278,811 1277,806 1281,804 1287,804Z" fill="#5A3017" stroke="#A0622E" stroke-width="1.6"/><path d="M1292,803 1295,803 1298,809 1296,811 1288,811 1287,806Z" fill="#5A3017" stroke="#A0622E" stroke-width="1.6"/><path d="M1300,810 1301,806 1308,805 1311,806 1311,812 1306,814Z" fill="#5A3017" stroke="#A0622E" stroke-width="1.6"/><path d="M1317,803 1322,804 1325,808 1321,812 1315,812 1312,807Z" fill="#5A3017" stroke="#A0622E" stroke-width="1.6"/><path d="M1323,804 1329,802 1333,807 1331,811 1325,812 1322,807Z" fill="#5A3017" stroke="#A0622E" stroke-width="1.6"/><path d="M1342,802 1344,807 1340,811 1336,811 1333,806 1337,802Z" fill="#5A3017" stroke="#A0622E" stroke-width="1.6"/><path d="M1358,811 1350,811 1348,808 1351,803 1358,803 1359,807Z" fill="#5A3017" stroke="#A0622E" stroke-width="1.6"/><path d="M1369,806 1372,811 1369,814 1363,814 1360,810 1364,806Z" fill="#5A3017" stroke="#A0622E" stroke-width="1.6"/><path d="M1378,813 1370,813 1369,811 1370,805 1377,805 1380,809Z" fill="#5A3017" stroke="#A0622E" stroke-width="1.6"/><path d="M1155,814 1158,816 1156,822 1151,823 1147,818 1149,814Z" fill="#5A3017" stroke="#A0622E" stroke-width="1.6"/><path d="M1156,814 1161,812 1166,813 1166,819 1162,821 1156,821Z" fill="#5A3017" stroke="#A0622E" stroke-width="1.6"/><path d="M1177,823 1171,822 1167,819 1170,815 1176,814 1179,819Z" fill="#5A3017" stroke="#A0622E" stroke-width="1.6"/><path d="M1184,815 1191,817 1191,822 1185,825 1181,823 1182,817Z" fill="#5A3017" stroke="#A0622E" stroke-width="1.6"/><path d="M1190,817 1193,812 1199,813 1202,816 1198,822 1194,821Z" fill="#5A3017" stroke="#A0622E" stroke-width="1.6"/><path d="M1214,816 1212,823 1208,824 1202,821 1204,816 1208,815Z" fill="#5A3017" stroke="#A0622E" stroke-width="1.6"/><path d="M1226,820 1221,824 1216,823 1213,819 1219,814 1225,816Z" fill="#5A3017" stroke="#A0622E" stroke-width="1.6"/><path d="M1228,815 1232,815 1235,821 1233,824 1227,824 1224,821Z" fill="#5A3017" stroke="#A0622E" stroke-width="1.6"/><path d="M1250,820 1245,825 1241,824 1239,821 1241,815 1248,816Z" fill="#5A3017" stroke="#A0622E" stroke-width="1.6"/><path d="M1255,821 1249,821 1247,816 1251,813 1256,813 1259,816Z" fill="#5A3017" stroke="#A0622E" stroke-width="1.6"/><path d="M1273,819 1272,823 1265,825 1262,823 1264,816 1269,816Z" fill="#5A3017" stroke="#A0622E" stroke-width="1.6"/><path d="M1281,818 1277,822 1274,822 1269,819 1273,813 1278,813Z" fill="#5A3017" stroke="#A0622E" stroke-width="1.6"/><path d="M1289,816 1293,815 1296,821 1293,824 1287,824 1284,820Z" fill="#5A3017" stroke="#A0622E" stroke-width="1.6"/><path d="M1294,817 1300,815 1303,817 1304,822 1299,825 1294,821Z" fill="#5A3017" stroke="#A0622E" stroke-width="1.6"/><path d="M1307,821 1305,817 1309,813 1314,815 1316,819 1311,822Z" fill="#5A3017" stroke="#A0622E" stroke-width="1.6"/><path d="M1327,822 1322,821 1319,817 1322,813 1328,814 1330,818Z" fill="#5A3017" stroke="#A0622E" stroke-width="1.6"/><path d="M1332,821 1329,816 1334,813 1340,816 1341,818 1336,823Z" fill="#5A3017" stroke="#A0622E" stroke-width="1.6"/><path d="M1346,813 1351,816 1352,822 1349,824 1342,821 1342,818Z" fill="#5A3017" stroke="#A0622E" stroke-width="1.6"/><path d="M1355,816 1364,815 1365,819 1362,823 1357,824 1353,818Z" fill="#5A3017" stroke="#A0622E" stroke-width="1.6"/><path d="M1364,815 1369,814 1374,818 1370,823 1367,824 1362,819Z" fill="#5A3017" stroke="#A0622E" stroke-width="1.6"/><path d="M1146,824 1150,827 1149,832 1141,833 1139,830 1140,824Z" fill="#5A3017" stroke="#A0622E" stroke-width="1.6"/><path d="M1151,832 1149,827 1152,824 1159,825 1161,830 1155,833Z" fill="#5A3017" stroke="#A0622E" stroke-width="1.6"/><path d="M1164,826 1171,824 1174,829 1172,832 1167,834 1164,830Z" fill="#5A3017" stroke="#A0622E" stroke-width="1.6"/><path d="M1173,830 1175,824 1180,823 1184,828 1182,833 1176,832Z" fill="#5A3017" stroke="#A0622E" stroke-width="1.6"/><path d="M1194,825 1195,831 1190,835 1186,834 1184,829 1189,825Z" fill="#5A3017" stroke="#A0622E" stroke-width="1.6"/><path d="M1206,832 1202,832 1198,828 1201,823 1207,823 1210,827Z" fill="#5A3017" stroke="#A0622E" stroke-width="1.6"/><path d="M1209,832 1208,828 1211,823 1215,823 1219,828 1215,832Z" fill="#5A3017" stroke="#A0622E" stroke-width="1.6"/><path d="M1225,824 1228,825 1229,831 1226,834 1220,832 1218,829Z" fill="#5A3017" stroke="#A0622E" stroke-width="1.6"/><path d="M1233,833 1230,830 1233,825 1240,825 1242,828 1240,833Z" fill="#5A3017" stroke="#A0622E" stroke-width="1.6"/><path d="M1253,825 1255,829 1253,833 1248,834 1243,830 1246,824Z" fill="#5A3017" stroke="#A0622E" stroke-width="1.6"/><path d="M1268,828 1266,832 1262,833 1256,830 1259,824 1262,823Z" fill="#5A3017" stroke="#A0622E" stroke-width="1.6"/><path d="M1271,834 1267,831 1270,827 1275,825 1279,829 1279,833Z" fill="#5A3017" stroke="#A0622E" stroke-width="1.6"/><path d="M1287,832 1281,832 1279,827 1281,823 1287,823 1290,829Z" fill="#5A3017" stroke="#A0622E" stroke-width="1.6"/><path d="M1295,836 1288,832 1289,827 1295,825 1299,827 1300,832Z" fill="#5A3017" stroke="#A0622E" stroke-width="1.6"/><path d="M1299,827 1301,824 1308,824 1309,827 1308,831 1303,832Z" fill="#5A3017" stroke="#A0622E" stroke-width="1.6"/><path d="M1324,827 1324,832 1320,834 1313,831 1314,827 1320,825Z" fill="#5A3017" stroke="#A0622E" stroke-width="1.6"/><path d="M1328,824 1332,828 1331,833 1328,834 1323,832 1322,827Z" fill="#5A3017" stroke="#A0622E" stroke-width="1.6"/><path d="M1342,835 1336,831 1336,826 1343,824 1345,827 1345,833Z" fill="#5A3017" stroke="#A0622E" stroke-width="1.6"/><path d="M1357,824 1359,828 1353,833 1348,830 1347,827 1353,822Z" fill="#5A3017" stroke="#A0622E" stroke-width="1.6"/><path d="M1369,832 1367,835 1360,834 1357,831 1361,826 1368,827Z" fill="#5A3017" stroke="#A0622E" stroke-width="1.6"/><path d="M1381,832 1375,833 1371,829 1375,824 1379,823 1382,829Z" fill="#5A3017" stroke="#A0622E" stroke-width="1.6"/><path d="M1149,833 1153,834 1156,839 1152,842 1145,841 1145,836Z" fill="#5A3017" stroke="#A0622E" stroke-width="1.6"/><path d="M1162,846 1156,845 1156,838 1160,836 1166,838 1165,844Z" fill="#5A3017" stroke="#A0622E" stroke-width="1.6"/><path d="M1176,843 1171,842 1170,836 1175,833 1180,835 1182,839Z" fill="#5A3017" stroke="#A0622E" stroke-width="1.6"/><path d="M1183,837 1190,839 1189,844 1186,845 1179,844 1179,840Z" fill="#5A3017" stroke="#A0622E" stroke-width="1.6"/><path d="M1201,835 1202,838 1201,842 1195,844 1190,840 1194,834Z" fill="#5A3017" stroke="#A0622E" stroke-width="1.6"/><path d="M1214,839 1212,846 1208,846 1204,842 1206,837 1211,836Z" fill="#5A3017" stroke="#A0622E" stroke-width="1.6"/><path d="M1219,845 1214,843 1214,838 1219,836 1226,839 1224,843Z" fill="#5A3017" stroke="#A0622E" stroke-width="1.6"/><path d="M1228,836 1235,838 1237,841 1234,845 1226,844 1226,839Z" fill="#5A3017" stroke="#A0622E" stroke-width="1.6"/><path d="M1245,833 1251,837 1250,840 1244,843 1240,841 1240,836Z" fill="#5A3017" stroke="#A0622E" stroke-width="1.6"/><path d="M1252,836 1259,837 1258,842 1254,845 1247,842 1247,839Z" fill="#5A3017" stroke="#A0622E" stroke-width="1.6"/><path d="M1267,834 1271,837 1269,842 1262,842 1259,837 1263,834Z" fill="#5A3017" stroke="#A0622E" stroke-width="1.6"/><path d="M1274,841 1272,838 1277,833 1282,834 1284,839 1281,842Z" fill="#5A3017" stroke="#A0622E" stroke-width="1.6"/><path d="M1291,843 1287,842 1283,839 1286,833 1292,833 1294,839Z" fill="#5A3017" stroke="#A0622E" stroke-width="1.6"/><path d="M1298,835 1303,835 1306,838 1304,842 1300,843 1295,838Z" fill="#5A3017" stroke="#A0622E" stroke-width="1.6"/><path d="M1317,836 1318,841 1314,844 1308,842 1307,836 1311,834Z" fill="#5A3017" stroke="#A0622E" stroke-width="1.6"/><path d="M1323,845 1319,841 1321,838 1328,837 1331,838 1328,845Z" fill="#5A3017" stroke="#A0622E" stroke-width="1.6"/><path d="M1338,836 1341,840 1339,845 1333,846 1330,842 1333,836Z" fill="#5A3017" stroke="#A0622E" stroke-width="1.6"/><path d="M1339,839 1342,833 1347,833 1351,839 1349,842 1342,843Z" fill="#5A3017" stroke="#A0622E" stroke-width="1.6"/><path d="M1363,841 1360,844 1354,844 1352,839 1353,836 1361,836Z" fill="#5A3017" stroke="#A0622E" stroke-width="1.6"/><path d="M1369,842 1363,841 1362,837 1368,832 1372,835 1373,840Z" fill="#5A3017" stroke="#A0622E" stroke-width="1.6"/><path d="M1141,853 1138,850 1137,846 1145,843 1148,847 1149,851Z" fill="#5A3017" stroke="#A0622E" stroke-width="1.6"/><path d="M1153,849 1157,845 1161,846 1165,850 1161,854 1156,855Z" fill="#5A3017" stroke="#A0622E" stroke-width="1.6"/><path d="M1167,855 1163,852 1163,848 1166,845 1173,846 1174,851Z" fill="#5A3017" stroke="#A0622E" stroke-width="1.6"/><path d="M1177,847 1185,847 1187,852 1184,855 1179,855 1176,852Z" fill="#5A3017" stroke="#A0622E" stroke-width="1.6"/><path d="M1192,854 1187,853 1185,847 1190,844 1195,846 1196,850Z" fill="#5A3017" stroke="#A0622E" stroke-width="1.6"/><path d="M1200,852 1196,848 1199,844 1205,843 1209,848 1208,851Z" fill="#5A3017" stroke="#A0622E" stroke-width="1.6"/><path d="M1213,845 1217,844 1222,848 1221,853 1215,854 1210,850Z" fill="#5A3017" stroke="#A0622E" stroke-width="1.6"/><path d="M1230,851 1228,855 1223,856 1219,854 1220,848 1226,846Z" fill="#5A3017" stroke="#A0622E" stroke-width="1.6"/><path d="M1239,845 1244,849 1244,853 1238,855 1233,854 1232,849Z" fill="#5A3017" stroke="#A0622E" stroke-width="1.6"/><path d="M1244,855 1242,851 1246,847 1252,847 1255,851 1250,855Z" fill="#5A3017" stroke="#A0622E" stroke-width="1.6"/><path d="M1255,853 1256,847 1260,846 1265,849 1263,856 1258,856Z" fill="#5A3017" stroke="#A0622E" stroke-width="1.6"/><path d="M1267,847 1271,846 1277,846 1277,851 1272,855 1267,853Z" fill="#5A3017" stroke="#A0622E" stroke-width="1.6"/><path d="M1287,843 1290,848 1287,853 1280,852 1279,847 1281,845Z" fill="#5A3017" stroke="#A0622E" stroke-width="1.6"/><path d="M1299,848 1299,851 1293,855 1290,853 1288,847 1295,845Z" fill="#5A3017" stroke="#A0622E" stroke-width="1.6"/><path d="M1306,845 1312,847 1312,851 1308,855 1302,851 1302,849Z" fill="#5A3017" stroke="#A0622E" stroke-width="1.6"/><path d="M1316,854 1311,850 1313,846 1318,844 1322,848 1321,852Z" fill="#5A3017" stroke="#A0622E" stroke-width="1.6"/><path d="M1325,847 1331,846 1335,848 1335,853 1329,854 1325,852Z" fill="#5A3017" stroke="#A0622E" stroke-width="1.6"/><path d="M1335,853 1336,849 1341,847 1346,849 1346,854 1339,856Z" fill="#5A3017" stroke="#A0622E" stroke-width="1.6"/><path d="M1357,847 1358,851 1358,855 1351,856 1348,852 1349,848Z" fill="#5A3017" stroke="#A0622E" stroke-width="1.6"/><path d="M1367,847 1369,852 1366,856 1360,854 1358,849 1362,846Z" fill="#5A3017" stroke="#A0622E" stroke-width="1.6"/><path d="M1378,847 1380,849 1377,854 1370,853 1369,850 1372,846Z" fill="#5A3017" stroke="#A0622E" stroke-width="1.6"/><path d="M1154,855 1154,862 1149,863 1145,861 1143,857 1147,853Z" fill="#5A3017" stroke="#A0622E" stroke-width="1.6"/><path d="M1156,864 1156,860 1160,857 1166,858 1166,861 1161,866Z" fill="#5A3017" stroke="#A0622E" stroke-width="1.6"/><path d="M1170,862 1166,859 1167,856 1172,854 1178,858 1177,860Z" fill="#5A3017" stroke="#A0622E" stroke-width="1.6"/><path d="M1186,856 1190,860 1189,864 1184,866 1179,864 1181,857Z" fill="#5A3017" stroke="#A0622E" stroke-width="1.6"/><path d="M1201,862 1195,864 1191,859 1194,855 1200,855 1202,858Z" fill="#5A3017" stroke="#A0622E" stroke-width="1.6"/><path d="M1203,859 1207,855 1212,855 1215,861 1213,864 1205,863Z" fill="#5A3017" stroke="#A0622E" stroke-width="1.6"/><path d="M1227,858 1225,861 1218,863 1214,859 1216,856 1222,854Z" fill="#5A3017" stroke="#A0622E" stroke-width="1.6"/><path d="M1225,860 1227,855 1232,853 1236,857 1236,860 1230,864Z" fill="#5A3017" stroke="#A0622E" stroke-width="1.6"/><path d="M1241,866 1238,862 1240,858 1247,858 1251,862 1249,864Z" fill="#5A3017" stroke="#A0622E" stroke-width="1.6"/><path d="M1249,863 1248,859 1253,856 1257,858 1259,862 1254,866Z" fill="#5A3017" stroke="#A0622E" stroke-width="1.6"/><path d="M1272,862 1267,865 1263,863 1261,859 1266,856 1273,858Z" fill="#5A3017" stroke="#A0622E" stroke-width="1.6"/><path d="M1275,855 1280,857 1281,862 1276,865 1272,863 1269,860Z" fill="#5A3017" stroke="#A0622E" stroke-width="1.6"/><path d="M1292,864 1286,863 1284,860 1289,854 1294,856 1296,859Z" fill="#5A3017" stroke="#A0622E" stroke-width="1.6"/><path d="M1301,856 1306,860 1305,863 1302,866 1296,865 1295,859Z" fill="#5A3017" stroke="#A0622E" stroke-width="1.6"/><path d="M1307,863 1304,858 1308,854 1311,854 1316,860 1314,863Z" fill="#5A3017" stroke="#A0622E" stroke-width="1.6"/><path d="M1329,861 1324,863 1318,859 1321,854 1328,854 1330,856Z" fill="#5A3017" stroke="#A0622E" stroke-width="1.6"/><path d="M1331,854 1338,857 1338,862 1334,864 1327,861 1327,857Z" fill="#5A3017" stroke="#A0622E" stroke-width="1.6"/><path d="M1349,863 1345,863 1342,859 1344,854 1349,854 1353,859Z" fill="#5A3017" stroke="#A0622E" stroke-width="1.6"/><path d="M1358,865 1352,863 1351,858 1357,855 1361,858 1362,862Z" fill="#5A3017" stroke="#A0622E" stroke-width="1.6"/><path d="M1362,863 1363,858 1367,855 1372,859 1372,863 1369,865Z" fill="#5A3017" stroke="#A0622E" stroke-width="1.6"/><path d="M1146,864 1152,866 1152,873 1146,874 1142,871 1141,867Z" fill="#5A3017" stroke="#A0622E" stroke-width="1.6"/><path d="M1157,874 1152,874 1149,869 1154,865 1157,865 1161,870Z" fill="#5A3017" stroke="#A0622E" stroke-width="1.6"/><path d="M1167,865 1172,867 1172,871 1167,874 1162,872 1161,868Z" fill="#5A3017" stroke="#A0622E" stroke-width="1.6"/><path d="M1176,868 1181,866 1186,869 1186,874 1179,877 1177,875Z" fill="#5A3017" stroke="#A0622E" stroke-width="1.6"/><path d="M1196,873 1191,875 1185,872 1186,868 1192,865 1196,869Z" fill="#5A3017" stroke="#A0622E" stroke-width="1.6"/><path d="M1200,863 1205,865 1207,869 1204,873 1197,872 1195,867Z" fill="#5A3017" stroke="#A0622E" stroke-width="1.6"/><path d="M1219,871 1216,875 1211,874 1209,870 1213,865 1220,868Z" fill="#5A3017" stroke="#A0622E" stroke-width="1.6"/><path d="M1229,870 1228,873 1223,875 1219,872 1219,867 1227,866Z" fill="#5A3017" stroke="#A0622E" stroke-width="1.6"/><path d="M1233,868 1236,865 1242,866 1244,871 1241,875 1234,872Z" fill="#5A3017" stroke="#A0622E" stroke-width="1.6"/><path d="M1253,870 1250,875 1244,876 1241,872 1244,868 1248,866Z" fill="#5A3017" stroke="#A0622E" stroke-width="1.6"/><path d="M1253,871 1253,867 1257,864 1264,867 1263,873 1259,873Z" fill="#5A3017" stroke="#A0622E" stroke-width="1.6"/><path d="M1267,867 1269,865 1276,864 1278,868 1275,873 1270,873Z" fill="#5A3017" stroke="#A0622E" stroke-width="1.6"/><path d="M1287,866 1289,869 1284,874 1277,872 1277,868 1281,864Z" fill="#5A3017" stroke="#A0622E" stroke-width="1.6"/><path d="M1289,873 1289,870 1293,866 1298,868 1299,869 1296,875Z" fill="#5A3017" stroke="#A0622E" stroke-width="1.6"/><path d="M1303,872 1303,867 1308,864 1314,868 1312,872 1308,874Z" fill="#5A3017" stroke="#A0622E" stroke-width="1.6"/><path d="M1322,870 1319,874 1313,872 1310,868 1313,865 1319,865Z" fill="#5A3017" stroke="#A0622E" stroke-width="1.6"/><path d="M1324,875 1322,871 1325,867 1332,868 1334,872 1330,876Z" fill="#5A3017" stroke="#A0622E" stroke-width="1.6"/><path d="M1346,867 1349,871 1345,876 1341,876 1336,870 1340,867Z" fill="#5A3017" stroke="#A0622E" stroke-width="1.6"/><path d="M1358,873 1352,875 1348,871 1351,866 1357,866 1360,870Z" fill="#5A3017" stroke="#A0622E" stroke-width="1.6"/><path d="M1358,870 1360,867 1366,867 1368,871 1367,875 1360,875Z" fill="#5A3017" stroke="#A0622E" stroke-width="1.6"/><path d="M1368,870 1371,867 1378,868 1378,871 1376,875 1368,874Z" fill="#5A3017" stroke="#A0622E" stroke-width="1.6"/><path d="M1146,880 1148,877 1152,875 1157,877 1157,882 1152,884Z" fill="#5A3017" stroke="#A0622E" stroke-width="1.6"/><path d="M1158,882 1163,877 1168,878 1169,883 1167,886 1160,885Z" fill="#5A3017" stroke="#A0622E" stroke-width="1.6"/><path d="M1181,880 1178,883 1174,884 1170,879 1171,876 1178,874Z" fill="#5A3017" stroke="#A0622E" stroke-width="1.6"/><path d="M1191,882 1189,886 1183,887 1180,883 1181,879 1186,878Z" fill="#5A3017" stroke="#A0622E" stroke-width="1.6"/><path d="M1193,878 1199,876 1203,880 1201,885 1195,885 1190,880Z" fill="#5A3017" stroke="#A0622E" stroke-width="1.6"/><path d="M1213,884 1210,886 1204,886 1202,881 1206,878 1213,879Z" fill="#5A3017" stroke="#A0622E" stroke-width="1.6"/><path d="M1225,881 1222,886 1214,884 1213,882 1218,876 1223,879Z" fill="#5A3017" stroke="#A0622E" stroke-width="1.6"/><path d="M1235,884 1231,886 1227,883 1228,878 1234,877 1237,878Z" fill="#5A3017" stroke="#A0622E" stroke-width="1.6"/><path d="M1242,887 1238,886 1238,879 1243,877 1246,878 1249,884Z" fill="#5A3017" stroke="#A0622E" stroke-width="1.6"/><path d="M1253,876 1259,880 1259,884 1253,887 1247,884 1247,880Z" fill="#5A3017" stroke="#A0622E" stroke-width="1.6"/><path d="M1260,881 1263,878 1269,877 1270,879 1271,884 1263,886Z" fill="#5A3017" stroke="#A0622E" stroke-width="1.6"/><path d="M1281,885 1275,885 1272,880 1275,877 1281,877 1284,881Z" fill="#5A3017" stroke="#A0622E" stroke-width="1.6"/><path d="M1295,883 1293,887 1286,886 1284,881 1288,878 1293,878Z" fill="#5A3017" stroke="#A0622E" stroke-width="1.6"/><path d="M1296,878 1303,878 1306,880 1304,885 1297,886 1293,882Z" fill="#5A3017" stroke="#A0622E" stroke-width="1.6"/><path d="M1312,886 1308,884 1307,878 1310,876 1317,878 1318,881Z" fill="#5A3017" stroke="#A0622E" stroke-width="1.6"/><path d="M1330,881 1329,885 1322,886 1320,882 1322,877 1327,877Z" fill="#5A3017" stroke="#A0622E" stroke-width="1.6"/><path d="M1339,883 1335,884 1329,879 1332,876 1337,874 1340,878Z" fill="#5A3017" stroke="#A0622E" stroke-width="1.6"/><path d="M1339,880 1342,877 1349,878 1351,881 1348,885 1339,884Z" fill="#5A3017" stroke="#A0622E" stroke-width="1.6"/><path d="M1354,885 1350,882 1351,878 1357,875 1361,879 1360,885Z" fill="#5A3017" stroke="#A0622E" stroke-width="1.6"/><path d="M1369,877 1375,879 1375,883 1370,886 1364,884 1363,881Z" fill="#5A3017" stroke="#A0622E" stroke-width="1.6"/><path d="M1150,895 1146,897 1139,894 1139,890 1143,888 1149,889Z" fill="#5A3017" stroke="#A0622E" stroke-width="1.6"/><path d="M1160,887 1160,892 1155,895 1151,893 1150,887 1154,885Z" fill="#5A3017" stroke="#A0622E" stroke-width="1.6"/><path d="M1169,888 1173,892 1169,897 1163,896 1162,893 1163,889Z" fill="#5A3017" stroke="#A0622E" stroke-width="1.6"/><path d="M1176,891 1181,888 1186,890 1187,893 1182,897 1176,896Z" fill="#5A3017" stroke="#A0622E" stroke-width="1.6"/><path d="M1194,890 1196,894 1193,897 1186,896 1184,893 1186,889Z" fill="#5A3017" stroke="#A0622E" stroke-width="1.6"/><path d="M1198,895 1198,889 1202,887 1208,889 1208,892 1203,896Z" fill="#5A3017" stroke="#A0622E" stroke-width="1.6"/><path d="M1218,894 1212,896 1208,893 1209,888 1214,886 1220,888Z" fill="#5A3017" stroke="#A0622E" stroke-width="1.6"/><path d="M1230,889 1230,894 1226,897 1220,896 1219,889 1225,887Z" fill="#5A3017" stroke="#A0622E" stroke-width="1.6"/><path d="M1233,886 1238,885 1241,889 1239,893 1234,894 1230,891Z" fill="#5A3017" stroke="#A0622E" stroke-width="1.6"/><path d="M1249,896 1243,894 1241,890 1246,886 1249,886 1253,890Z" fill="#5A3017" stroke="#A0622E" stroke-width="1.6"/><path d="M1253,893 1255,888 1262,887 1266,891 1262,895 1258,896Z" fill="#5A3017" stroke="#A0622E" stroke-width="1.6"/><path d="M1272,897 1268,895 1269,888 1273,887 1279,891 1279,894Z" fill="#5A3017" stroke="#A0622E" stroke-width="1.6"/><path d="M1284,896 1278,892 1280,888 1283,886 1289,887 1289,895Z" fill="#5A3017" stroke="#A0622E" stroke-width="1.6"/><path d="M1300,893 1296,894 1291,891 1293,885 1299,885 1303,889Z" fill="#5A3017" stroke="#A0622E" stroke-width="1.6"/><path d="M1313,894 1307,897 1303,894 1303,889 1307,887 1314,890Z" fill="#5A3017" stroke="#A0622E" stroke-width="1.6"/><path d="M1313,886 1319,887 1322,892 1319,895 1314,896 1311,890Z" fill="#5A3017" stroke="#A0622E" stroke-width="1.6"/><path d="M1324,887 1329,886 1334,891 1330,895 1326,895 1322,892Z" fill="#5A3017" stroke="#A0622E" stroke-width="1.6"/><path d="M1344,886 1346,890 1342,895 1335,894 1334,890 1339,885Z" fill="#5A3017" stroke="#A0622E" stroke-width="1.6"/><path d="M1351,897 1346,894 1347,889 1353,887 1355,888 1357,894Z" fill="#5A3017" stroke="#A0622E" stroke-width="1.6"/><path d="M1360,888 1367,886 1370,889 1369,894 1363,894 1359,891Z" fill="#5A3017" stroke="#A0622E" stroke-width="1.6"/><path d="M1377,895 1371,891 1373,886 1377,885 1382,888 1381,893Z" fill="#5A3017" stroke="#A0622E" stroke-width="1.6"/></g>
<defs><pattern id="gp2" width="6" height="6" patternUnits="userSpaceOnUse"><rect width="6" height="6" fill="#D6A66E"/><path d="M1,1 L4.5,1.5 L4.5,4.5 L1,4 Z" fill="#8E5A2E"/></pattern></defs>
<path d="M1356.9,886.9 C1359.6,889.6 1360.6,902.2 1363.0,911.4 C1365.4,920.6 1368.8,932.5 1371.2,942.1 C1373.6,951.6 1376.6,962.9 1377.3,968.7 C1378.0,974.5 1377.7,975.5 1375.3,976.9 C1372.9,978.2 1364.7,978.6 1363.0,976.9 C1361.3,975.2 1365.7,973.5 1365.0,966.6 C1364.4,959.8 1361.3,945.5 1358.9,936.0 C1356.5,926.4 1352.8,916.2 1350.7,909.4 C1348.7,902.5 1345.6,898.8 1346.6,895.0 C1347.7,891.3 1354.1,884.1 1356.9,886.9 Z" fill="url(#gp2)"/>
<path d="M1342.5,905.3 C1342.2,913.1 1337.4,922.7 1334.4,931.9 C1331.3,941.1 1326.9,953.7 1324.1,960.5 C1321.4,967.3 1320.0,969.7 1318.0,972.8 C1315.9,975.9 1313.6,978.6 1311.8,978.9 C1310.1,979.3 1307.4,977.9 1307.8,974.8 C1308.1,971.8 1311.5,968.0 1313.9,960.5 C1316.3,953.0 1319.7,940.7 1322.1,929.8 C1324.5,918.9 1325.8,902.5 1328.2,895.0 C1330.6,887.5 1334.0,883.1 1336.4,884.8 C1338.8,886.5 1342.9,897.4 1342.5,905.3 Z" fill="url(#gp2)"/>
<path d="M1287.3,884.8 C1288.7,893.3 1288.5,913.1 1289.3,925.7 C1290.2,938.3 1292.1,952.3 1292.4,960.5 C1292.8,968.7 1293.3,972.1 1291.4,974.8 C1289.5,977.6 1283.2,977.9 1281.2,976.9 C1279.1,975.9 1279.3,975.5 1279.1,968.7 C1278.9,961.9 1280.8,948.2 1280.1,936.0 C1279.5,923.7 1276.6,903.6 1275.0,895.0 C1273.5,886.5 1269.9,888.2 1270.9,884.8 C1272.0,881.4 1278.4,874.6 1281.2,874.6 C1283.9,874.6 1285.9,876.3 1287.3,884.8 Z" fill="url(#gp2)"/>
<path d="M1262.7,890.9 C1262.1,897.1 1256.4,903.9 1254.6,911.4 C1252.7,918.9 1251.5,927.4 1251.5,936.0 C1251.5,944.5 1253.4,956.1 1254.6,962.6 C1255.8,969.0 1259.3,971.8 1258.7,974.8 C1258.0,977.9 1253.0,980.6 1250.5,981.0 C1247.9,981.3 1244.3,980.3 1243.3,976.9 C1242.3,973.5 1244.3,967.3 1244.3,960.5 C1244.3,953.7 1243.3,945.2 1243.3,936.0 C1243.3,926.8 1243.1,913.8 1244.3,905.3 C1245.5,896.7 1248.1,889.9 1250.5,884.8 C1252.9,879.7 1256.6,873.6 1258.7,874.6 C1260.7,875.6 1263.4,884.8 1262.7,890.9 Z" fill="url(#gp2)"/>
<path d="M1371.2,952.3 C1373.6,955.1 1376.6,964.6 1377.3,968.7 C1378.0,972.8 1377.7,975.5 1375.3,976.9 C1372.9,978.2 1364.7,978.6 1363.0,976.9 C1361.3,975.2 1365.0,970.7 1365.0,966.6 C1365.0,962.6 1362.0,954.7 1363.0,952.3 C1364.0,949.9 1368.8,949.6 1371.2,952.3 Z" fill="#ECDCC0"/>
<path d="M1322.1,952.3 C1322.8,955.7 1319.7,968.3 1318.0,972.8 C1316.3,977.2 1313.6,978.6 1311.8,978.9 C1310.1,979.3 1307.4,979.3 1307.8,974.8 C1308.1,970.4 1311.5,956.1 1313.9,952.3 C1316.3,948.6 1321.4,948.9 1322.1,952.3 Z" fill="#ECDCC0"/>
<path d="M1291.4,952.3 C1293.3,953.7 1292.4,956.8 1292.4,960.5 C1292.4,964.3 1293.3,972.1 1291.4,974.8 C1289.5,977.6 1283.2,977.9 1281.2,976.9 C1279.1,975.9 1279.1,972.8 1279.1,968.7 C1279.1,964.6 1279.1,955.1 1281.2,952.3 C1283.2,949.6 1289.5,951.0 1291.4,952.3 Z" fill="#ECDCC0"/>
<path d="M1252.5,952.3 C1254.2,954.0 1253.5,958.8 1254.6,962.6 C1255.6,966.3 1259.3,971.8 1258.7,974.8 C1258.0,977.9 1253.0,980.6 1250.5,981.0 C1247.9,981.3 1244.3,981.6 1243.3,976.9 C1242.3,972.1 1242.8,956.4 1244.3,952.3 C1245.9,948.2 1250.8,950.6 1252.5,952.3 Z" fill="#ECDCC0"/>
<path d="M1295.5,845.9 C1300.9,843.6 1318.0,846.6 1324.1,850.0 C1330.3,853.4 1335.7,863.7 1332.3,866.4 C1328.9,869.1 1310.5,866.7 1303.7,866.4 C1296.8,866.1 1292.8,867.8 1291.4,864.4 C1290.0,860.9 1290.0,848.3 1295.5,845.9 Z" fill="#E9DCC0" opacity="0.8"/>
<ellipse cx="1353.8" cy="897.1" rx="4" ry="8" fill="#1E1A18"/>
<path d="M1159.4,698.6 C1162.2,696.3 1166.1,692.8 1170.7,692.5 C1175.3,692.2 1183.3,694.5 1187.1,696.6 C1190.8,698.6 1193.9,701.7 1193.2,704.8 C1192.5,707.8 1186.7,713.0 1183.0,715.0 C1179.2,717.1 1174.8,716.0 1170.7,717.1 C1166.6,718.1 1161.8,720.3 1158.4,721.1 C1155.0,722.0 1151.8,723.2 1150.2,722.2 C1148.7,721.1 1148.5,717.6 1149.2,715.0 C1149.9,712.5 1152.6,709.6 1154.3,706.8 C1156.0,704.1 1156.7,701.0 1159.4,698.6 Z" fill="#9C7A5C"/>
<path d="M1150.2,689.4 C1151.3,688.4 1158.9,688.9 1160.5,690.5 C1162.0,692.0 1160.5,697.6 1159.4,698.6 C1158.4,699.7 1155.9,698.1 1154.3,696.6 C1152.8,695.1 1149.2,690.5 1150.2,689.4 Z" fill="#4A4A4A"/>
<path d="M1187.1,692.5 C1188.6,690.8 1196.9,687.0 1198.3,687.4 C1199.7,687.7 1196.8,692.8 1195.2,694.5 C1193.7,696.3 1190.5,698.0 1189.1,697.6 C1187.7,697.3 1185.5,694.2 1187.1,692.5 Z" fill="#4A4A4A"/>
<g fill="none" stroke="#000" stroke-width="4.3" stroke-linejoin="round" stroke-linecap="butt">
<path d="M206.7,85.4 H222.4 V69.3 H238.7 V70 H254.7 V88.3 H271.1 V106.4 H287.4 V113.1 H303.8 V106 H320.5 V84 H337.4 V66 H354.1 V72 H371.7 V91.6 H389.5 V92.4 H408.3 V68.2 H428 V57.8 H444.7 V62.9 H455.9 V73.8 H467.9 V78.6 H481 V101.8 H495.1 V160.1 H511.4 V235.2 H530.3 V285.6 H554.3 V274.4 H587.8 V284"/>
<path d="M618,174.7 H637.5 V171.2 H650.5 V175.5 H663 V184.2 H676.2 V196.7 H688.8 V211.7 H701.7 V227.5 H714.5 V243.3 H727.5 V258 H740.5 V270.8 H753.3 V282.2 H766.2 V292.5 H779.2 V303 H792.5 V313.7 H805.8 V324.2 H819.5 V333.7 H833.3 V339 H848 V337.8 H862.5 V329.5 H877.8 V314.2 H893.3 V296.6 H910.1 V284 H928.5 V287.6 H948.3 V311 H971 V351.1 H999.3 V398.7"/>
<path d="M1049.5,77.8 H1065.2 V74.8 H1082.2 V66.8 H1099 V53 H1115.5 V39.1 H1132.5 V32.5 H1149.3 V33 H1166.1 V40.8 H1183.1 V53.3 H1200.4 V66.5 H1218.3 V76.9 H1236.5 V80.2 H1255.1 V77.2 H1275 V79.5 H1291.3 V113.6 H1302.7 V149.3 H1314.6 V180 H1327.4 V199.2 H1341.2 V212.3 H1356.9 V222.5 H1375.3 V234.4 H1398.2 V260.8 H1430.3 V224.2"/>
<path d="M1064.1,381.6 H1079 V392.7 H1094.4 V407.8 H1109.7 V434.5 H1125 V456.5 H1140.4 V458.5 H1156.1 V456.5 H1171.7 V465.4 H1187.8 V472.1 H1204.4 V460.7 H1221.8 V431.8 H1239.3 V399.5 H1258 V373.9 H1277.6 V360.5 H1293.9 V359.5 H1305.9 V352 H1317.9 V353.6 H1331 V365.6 H1346.7 V390.3 H1363.5 V417 H1383.4 V506.2 H1409.3 V579.4 H1445.4 V561.4"/>
<path d="M1096,687.4 H1115.4 V690.1 H1128 V686.7 H1140.3 V676 H1152 V655.1 H1164.7 V632 H1177.4 V615.7 H1190.1 V618.7 H1202.3 V643.4 H1215.1 V679.8 H1228.1 V712.1 H1241 V728.1 H1254.1 V729.4 H1267.5 V729.8 H1280.4 V734.4 H1294 V741.6 H1307.9 V750.9 H1321.9 V766.1 H1336.8 V775.6 H1352 V766.8 H1368.1 V740.5 H1385.3 V726.3 H1403.4 V742 H1424.3 V779.4 H1448 V827.1 H1477.3 V842.8"/>
</g>
<text x="247.2" y="44.0" font-size="27.5" text-anchor="start" fill="#000" font-weight="normal" font-style="italic" textLength="265" lengthAdjust="spacingAndGlyphs">Antilocapra americana</text>
<text x="737.6" y="43.6" font-size="27.5" text-anchor="start" fill="#000" font-weight="normal" font-style="italic" textLength="207" lengthAdjust="spacingAndGlyphs">Elephas maximus</text>
<text x="1260.8" y="238.0" font-size="27.5" text-anchor="start" fill="#000" font-weight="normal" font-style="italic" textLength="68.5" lengthAdjust="spacingAndGlyphs">Ursus</text>
<text x="1260.8" y="270.2" font-size="27.5" text-anchor="start" fill="#000" font-weight="normal" font-style="italic" textLength="73.5" lengthAdjust="spacingAndGlyphs">arctos</text>
<text x="1133.4" y="339.2" font-size="27.5" text-anchor="start" fill="#000" font-weight="normal" font-style="italic" textLength="242" lengthAdjust="spacingAndGlyphs">Macropus giganteus</text>
<text x="1252.2" y="657.0" font-size="27.5" text-anchor="start" fill="#000" font-weight="normal" font-style="italic" textLength="77" lengthAdjust="spacingAndGlyphs">Giraffa</text>
<text x="1252.2" y="689.2" font-size="27.5" text-anchor="start" fill="#000" font-weight="normal" font-style="italic" textLength="154" lengthAdjust="spacingAndGlyphs">tippelskirschi</text>
<text x="0.5" y="22.0" font-size="41" text-anchor="start" fill="#000" font-weight="bold" font-style="normal">a</text>
<text x="0.3" y="1126.6" font-size="41" text-anchor="start" fill="#000" font-weight="bold" font-style="normal">b</text>
<text x="776.8" y="1126.8" font-size="41" text-anchor="start" fill="#000" font-weight="bold" font-style="normal">c</text>
<line x1="149.4" y1="1204.1" x2="760.3" y2="1204.1" stroke="#000" stroke-width="3.2" stroke-dasharray="13 13.4" stroke-dashoffset="3.8"/>
<line x1="177.2" y1="1245.0" x2="177.2" y2="1331.0" stroke="#fffa23" stroke-width="3.3"/>
<circle cx="177.2" cy="1287.7" r="4.6" fill="#fffa23"/>
<line x1="178.7" y1="1161.0" x2="178.7" y2="1256.0" stroke="#fff923" stroke-width="3.3"/>
<circle cx="178.7" cy="1208.0" r="4.6" fill="#fff923"/>
<line x1="194.5" y1="1223.5" x2="194.5" y2="1311.0" stroke="#fff424" stroke-width="3.3"/>
<circle cx="194.5" cy="1266.3" r="4.6" fill="#fff424"/>
<line x1="204.0" y1="1262.8" x2="204.0" y2="1402.0" stroke="#fff125" stroke-width="3.3"/>
<circle cx="204.0" cy="1332.4" r="4.6" fill="#fff125"/>
<line x1="208.4" y1="1170.9" x2="208.4" y2="1285.8" stroke="#fff025" stroke-width="3.3"/>
<circle cx="208.4" cy="1228.4" r="4.6" fill="#fff025"/>
<line x1="208.5" y1="1237.2" x2="208.5" y2="1330.2" stroke="#fff025" stroke-width="3.3"/>
<circle cx="208.5" cy="1283.7" r="4.6" fill="#fff025"/>
<line x1="211.9" y1="1315.4" x2="211.9" y2="1390.5" stroke="#ffee26" stroke-width="3.3"/>
<circle cx="211.9" cy="1352.9" r="4.6" fill="#ffee26"/>
<line x1="215.0" y1="1147.0" x2="215.0" y2="1250.0" stroke="#ffed26" stroke-width="3.3"/>
<circle cx="215.0" cy="1198.0" r="4.6" fill="#ffed26"/>
<line x1="216.7" y1="1214.0" x2="216.7" y2="1304.0" stroke="#ffed26" stroke-width="3.3"/>
<circle cx="216.7" cy="1259.2" r="4.6" fill="#ffed26"/>
<line x1="223.0" y1="1250.0" x2="223.0" y2="1352.0" stroke="#ffeb26" stroke-width="3.3"/>
<circle cx="223.0" cy="1312.0" r="4.6" fill="#ffeb26"/>
<line x1="228.3" y1="1228.5" x2="228.3" y2="1330.0" stroke="#ffe927" stroke-width="3.3"/>
<circle cx="228.3" cy="1273.0" r="4.6" fill="#ffe927"/>
<line x1="234.6" y1="1219.0" x2="234.6" y2="1301.0" stroke="#ffe727" stroke-width="3.3"/>
<circle cx="234.6" cy="1258.8" r="4.6" fill="#ffe727"/>
<line x1="242.7" y1="1277.3" x2="242.7" y2="1350.3" stroke="#ffe428" stroke-width="3.3"/>
<circle cx="242.7" cy="1313.8" r="4.6" fill="#ffe428"/>
<line x1="242.8" y1="1242.8" x2="242.8" y2="1334.0" stroke="#ffe428" stroke-width="3.3"/>
<circle cx="242.8" cy="1288.4" r="4.6" fill="#ffe428"/>
<line x1="245.2" y1="1210.0" x2="245.2" y2="1340.0" stroke="#ffe428" stroke-width="3.3"/>
<circle cx="245.2" cy="1279.0" r="4.6" fill="#ffe428"/>
<line x1="245.5" y1="1176.7" x2="245.5" y2="1302.2" stroke="#ffe428" stroke-width="3.3"/>
<circle cx="245.5" cy="1239.4" r="4.6" fill="#ffe428"/>
<line x1="245.7" y1="1242.1" x2="245.7" y2="1344.6" stroke="#ffe428" stroke-width="3.3"/>
<circle cx="245.7" cy="1293.4" r="4.6" fill="#ffe428"/>
<line x1="248.7" y1="1302.9" x2="248.7" y2="1400.9" stroke="#fee328" stroke-width="3.3"/>
<circle cx="248.7" cy="1351.9" r="4.6" fill="#fee328"/>
<line x1="249.5" y1="1248.5" x2="249.5" y2="1334.5" stroke="#fee228" stroke-width="3.3"/>
<circle cx="249.5" cy="1291.5" r="4.6" fill="#fee228"/>
<line x1="253.2" y1="1238.9" x2="253.2" y2="1367.9" stroke="#fee129" stroke-width="3.3"/>
<circle cx="253.2" cy="1303.4" r="4.6" fill="#fee129"/>
<line x1="253.6" y1="1162.5" x2="253.6" y2="1265.1" stroke="#fee129" stroke-width="3.3"/>
<circle cx="253.6" cy="1213.8" r="4.6" fill="#fee129"/>
<line x1="253.6" y1="1290.0" x2="253.6" y2="1380.0" stroke="#fee129" stroke-width="3.3"/>
<circle cx="253.6" cy="1338.3" r="4.6" fill="#fee129"/>
<line x1="253.7" y1="1214.9" x2="253.7" y2="1304.3" stroke="#fee129" stroke-width="3.3"/>
<circle cx="253.7" cy="1259.6" r="4.6" fill="#fee129"/>
<line x1="255.2" y1="1207.1" x2="255.2" y2="1318.3" stroke="#fee029" stroke-width="3.3"/>
<circle cx="255.2" cy="1262.7" r="4.6" fill="#fee029"/>
<line x1="255.6" y1="1207.8" x2="255.6" y2="1324.1" stroke="#fee029" stroke-width="3.3"/>
<circle cx="255.6" cy="1266.0" r="4.6" fill="#fee029"/>
<line x1="255.9" y1="1242.6" x2="255.9" y2="1316.8" stroke="#fee029" stroke-width="3.3"/>
<circle cx="255.9" cy="1279.7" r="4.6" fill="#fee029"/>
<line x1="257.6" y1="1184.6" x2="257.6" y2="1307.7" stroke="#fee029" stroke-width="3.3"/>
<circle cx="257.6" cy="1246.1" r="4.6" fill="#fee029"/>
<line x1="257.8" y1="1186.0" x2="257.8" y2="1380.0" stroke="#fee029" stroke-width="3.3"/>
<circle cx="257.8" cy="1290.0" r="4.6" fill="#fee029"/>
<line x1="258.0" y1="1316.7" x2="258.0" y2="1399.1" stroke="#fee029" stroke-width="3.3"/>
<circle cx="258.0" cy="1357.9" r="4.6" fill="#fee029"/>
<line x1="258.5" y1="1225.1" x2="258.5" y2="1324.6" stroke="#fedf29" stroke-width="3.3"/>
<circle cx="258.5" cy="1274.9" r="4.6" fill="#fedf29"/>
<line x1="258.5" y1="1336.4" x2="258.5" y2="1423.6" stroke="#fedf29" stroke-width="3.3"/>
<circle cx="258.5" cy="1380.0" r="4.6" fill="#fedf29"/>
<line x1="259.6" y1="1242.9" x2="259.6" y2="1313.9" stroke="#fedf29" stroke-width="3.3"/>
<circle cx="259.6" cy="1278.4" r="4.6" fill="#fedf29"/>
<line x1="260.7" y1="1235.4" x2="260.7" y2="1350.5" stroke="#fedf29" stroke-width="3.3"/>
<circle cx="260.7" cy="1292.9" r="4.6" fill="#fedf29"/>
<line x1="261.4" y1="1219.7" x2="261.4" y2="1345.9" stroke="#fede29" stroke-width="3.3"/>
<circle cx="261.4" cy="1282.8" r="4.6" fill="#fede29"/>
<line x1="263.4" y1="1260.1" x2="263.4" y2="1349.0" stroke="#fede29" stroke-width="3.3"/>
<circle cx="263.4" cy="1304.5" r="4.6" fill="#fede29"/>
<line x1="264.1" y1="1330.1" x2="264.1" y2="1462.0" stroke="#fede29" stroke-width="3.3"/>
<circle cx="264.1" cy="1396.0" r="4.6" fill="#fede29"/>
<line x1="264.2" y1="1300.0" x2="264.2" y2="1370.0" stroke="#fede29" stroke-width="3.3"/>
<circle cx="264.2" cy="1338.3" r="4.6" fill="#fede29"/>
<line x1="265.4" y1="1275.1" x2="265.4" y2="1372.1" stroke="#fedd29" stroke-width="3.3"/>
<circle cx="265.4" cy="1323.6" r="4.6" fill="#fedd29"/>
<line x1="267.3" y1="1243.8" x2="267.3" y2="1346.7" stroke="#fedd2a" stroke-width="3.3"/>
<circle cx="267.3" cy="1295.2" r="4.6" fill="#fedd2a"/>
<line x1="268.7" y1="1254.8" x2="268.7" y2="1339.5" stroke="#fedc2a" stroke-width="3.3"/>
<circle cx="268.7" cy="1297.2" r="4.6" fill="#fedc2a"/>
<line x1="269.4" y1="1227.7" x2="269.4" y2="1341.8" stroke="#fedc2a" stroke-width="3.3"/>
<circle cx="269.4" cy="1284.7" r="4.6" fill="#fedc2a"/>
<line x1="269.5" y1="1173.4" x2="269.5" y2="1311.0" stroke="#fedc2a" stroke-width="3.3"/>
<circle cx="269.5" cy="1242.2" r="4.6" fill="#fedc2a"/>
<line x1="269.9" y1="1309.6" x2="269.9" y2="1429.2" stroke="#fedc2a" stroke-width="3.3"/>
<circle cx="269.9" cy="1369.4" r="4.6" fill="#fedc2a"/>
<line x1="271.8" y1="1271.2" x2="271.8" y2="1372.5" stroke="#fedb2a" stroke-width="3.3"/>
<circle cx="271.8" cy="1321.9" r="4.6" fill="#fedb2a"/>
<line x1="272.7" y1="1216.4" x2="272.7" y2="1328.5" stroke="#fedb2a" stroke-width="3.3"/>
<circle cx="272.7" cy="1272.5" r="4.6" fill="#fedb2a"/>
<line x1="274.3" y1="1163.0" x2="274.3" y2="1393.0" stroke="#feda2a" stroke-width="3.3"/>
<circle cx="274.3" cy="1211.7" r="4.6" fill="#feda2a"/>
<line x1="275.5" y1="1262.2" x2="275.5" y2="1343.0" stroke="#feda2a" stroke-width="3.3"/>
<circle cx="275.5" cy="1302.6" r="4.6" fill="#feda2a"/>
<line x1="275.9" y1="1316.2" x2="275.9" y2="1428.5" stroke="#feda2a" stroke-width="3.3"/>
<circle cx="275.9" cy="1372.3" r="4.6" fill="#feda2a"/>
<line x1="279.0" y1="1245.0" x2="279.0" y2="1370.0" stroke="#fed92a" stroke-width="3.3"/>
<circle cx="279.0" cy="1313.0" r="4.6" fill="#fed92a"/>
<line x1="281.2" y1="1233.4" x2="281.2" y2="1335.2" stroke="#fed82b" stroke-width="3.3"/>
<circle cx="281.2" cy="1284.3" r="4.6" fill="#fed82b"/>
<line x1="282.6" y1="1235.8" x2="282.6" y2="1313.0" stroke="#fed82b" stroke-width="3.3"/>
<circle cx="282.6" cy="1274.4" r="4.6" fill="#fed82b"/>
<line x1="283.1" y1="1330.0" x2="283.1" y2="1414.0" stroke="#fed72b" stroke-width="3.3"/>
<circle cx="283.1" cy="1369.0" r="4.6" fill="#fed72b"/>
<line x1="292.2" y1="1206.0" x2="292.2" y2="1341.8" stroke="#fed42b" stroke-width="3.3"/>
<circle cx="292.2" cy="1273.9" r="4.6" fill="#fed42b"/>
<line x1="297.3" y1="1271.1" x2="297.3" y2="1354.4" stroke="#fed32c" stroke-width="3.3"/>
<circle cx="297.3" cy="1312.8" r="4.6" fill="#fed32c"/>
<line x1="298.8" y1="1186.4" x2="298.8" y2="1317.0" stroke="#fed22c" stroke-width="3.3"/>
<circle cx="298.8" cy="1251.7" r="4.6" fill="#fed22c"/>
<line x1="299.0" y1="1247.0" x2="299.0" y2="1327.0" stroke="#fed22c" stroke-width="3.3"/>
<circle cx="299.0" cy="1287.7" r="4.6" fill="#fed22c"/>
<line x1="301.0" y1="1305.0" x2="301.0" y2="1386.0" stroke="#fed22c" stroke-width="3.3"/>
<circle cx="301.0" cy="1346.8" r="4.6" fill="#fed22c"/>
<line x1="301.5" y1="1269.2" x2="301.5" y2="1388.5" stroke="#fed12c" stroke-width="3.3"/>
<circle cx="301.5" cy="1328.8" r="4.6" fill="#fed12c"/>
<line x1="302.8" y1="1281.5" x2="302.8" y2="1367.5" stroke="#fed12c" stroke-width="3.3"/>
<circle cx="302.8" cy="1324.5" r="4.6" fill="#fed12c"/>
<line x1="305.3" y1="1372.0" x2="305.3" y2="1465.0" stroke="#fed02c" stroke-width="3.3"/>
<circle cx="305.3" cy="1420.6" r="4.6" fill="#fed02c"/>
<line x1="308.5" y1="1220.0" x2="308.5" y2="1305.0" stroke="#fecf2d" stroke-width="3.3"/>
<circle cx="308.5" cy="1262.4" r="4.6" fill="#fecf2d"/>
<line x1="309.5" y1="1221.0" x2="309.5" y2="1305.0" stroke="#fecf2d" stroke-width="3.3"/>
<circle cx="309.5" cy="1262.4" r="4.6" fill="#fecf2d"/>
<line x1="310.3" y1="1232.6" x2="310.3" y2="1360.2" stroke="#fecf2d" stroke-width="3.3"/>
<circle cx="310.3" cy="1296.4" r="4.6" fill="#fecf2d"/>
<line x1="310.6" y1="1340.0" x2="310.6" y2="1430.0" stroke="#fecf2d" stroke-width="3.3"/>
<circle cx="310.6" cy="1385.8" r="4.6" fill="#fecf2d"/>
<line x1="319.5" y1="1215.0" x2="319.5" y2="1300.0" stroke="#fecb2d" stroke-width="3.3"/>
<circle cx="319.5" cy="1257.0" r="4.6" fill="#fecb2d"/>
<line x1="320.0" y1="1168.5" x2="320.0" y2="1262.0" stroke="#fecb2d" stroke-width="3.3"/>
<circle cx="320.0" cy="1215.4" r="4.6" fill="#fecb2d"/>
<line x1="320.5" y1="1190.0" x2="320.5" y2="1280.0" stroke="#fecb2d" stroke-width="3.3"/>
<circle cx="320.5" cy="1235.0" r="4.6" fill="#fecb2d"/>
<line x1="322.4" y1="1291.5" x2="322.4" y2="1381.1" stroke="#feca2d" stroke-width="3.3"/>
<circle cx="322.4" cy="1336.3" r="4.6" fill="#feca2d"/>
<line x1="323.9" y1="1238.4" x2="323.9" y2="1358.9" stroke="#feca2d" stroke-width="3.3"/>
<circle cx="323.9" cy="1298.7" r="4.6" fill="#feca2d"/>
<line x1="325.3" y1="1285.6" x2="325.3" y2="1367.0" stroke="#fec92d" stroke-width="3.3"/>
<circle cx="325.3" cy="1326.8" r="4.6" fill="#fec92d"/>
<line x1="336.3" y1="1333.0" x2="336.3" y2="1416.5" stroke="#fdc52c" stroke-width="3.3"/>
<circle cx="336.3" cy="1374.3" r="4.6" fill="#fdc52c"/>
<line x1="336.3" y1="1245.5" x2="336.3" y2="1334.0" stroke="#fdc52c" stroke-width="3.3"/>
<circle cx="336.3" cy="1290.0" r="4.6" fill="#fdc52c"/>
<line x1="336.3" y1="1288.0" x2="336.3" y2="1374.0" stroke="#fdc52c" stroke-width="3.3"/>
<circle cx="336.3" cy="1331.0" r="4.6" fill="#fdc52c"/>
<line x1="340.7" y1="1265.6" x2="340.7" y2="1339.8" stroke="#fdc32c" stroke-width="3.3"/>
<circle cx="340.7" cy="1302.7" r="4.6" fill="#fdc32c"/>
<line x1="344.3" y1="1276.0" x2="344.3" y2="1358.5" stroke="#fdc22c" stroke-width="3.3"/>
<circle cx="344.3" cy="1317.3" r="4.6" fill="#fdc22c"/>
<line x1="347.1" y1="1301.7" x2="347.1" y2="1397.5" stroke="#fdc02c" stroke-width="3.3"/>
<circle cx="347.1" cy="1349.6" r="4.6" fill="#fdc02c"/>
<line x1="355.3" y1="1290.0" x2="355.3" y2="1371.0" stroke="#fcbd2c" stroke-width="3.3"/>
<circle cx="355.3" cy="1330.0" r="4.6" fill="#fcbd2c"/>
<line x1="355.3" y1="1226.5" x2="355.3" y2="1312.0" stroke="#fcbd2c" stroke-width="3.3"/>
<circle cx="355.3" cy="1269.2" r="4.6" fill="#fcbd2c"/>
<line x1="362.9" y1="1269.3" x2="362.9" y2="1401.7" stroke="#fcba2b" stroke-width="3.3"/>
<circle cx="362.9" cy="1335.5" r="4.6" fill="#fcba2b"/>
<line x1="364.4" y1="1284.0" x2="364.4" y2="1368.0" stroke="#fcba2b" stroke-width="3.3"/>
<circle cx="364.4" cy="1325.8" r="4.6" fill="#fcba2b"/>
<line x1="364.4" y1="1221.0" x2="364.4" y2="1305.0" stroke="#fcba2b" stroke-width="3.3"/>
<circle cx="364.4" cy="1263.0" r="4.6" fill="#fcba2b"/>
<line x1="364.4" y1="1330.0" x2="364.4" y2="1414.4" stroke="#fcba2b" stroke-width="3.3"/>
<circle cx="364.4" cy="1372.2" r="4.6" fill="#fcba2b"/>
<line x1="364.4" y1="1250.0" x2="364.4" y2="1334.0" stroke="#fcba2b" stroke-width="3.3"/>
<circle cx="364.4" cy="1292.0" r="4.6" fill="#fcba2b"/>
<line x1="371.8" y1="1272.0" x2="371.8" y2="1363.7" stroke="#fcb72b" stroke-width="3.3"/>
<circle cx="371.8" cy="1318.4" r="4.6" fill="#fcb72b"/>
<line x1="376.7" y1="1229.1" x2="376.7" y2="1313.4" stroke="#fbb52b" stroke-width="3.3"/>
<circle cx="376.7" cy="1271.3" r="4.6" fill="#fbb52b"/>
<line x1="378.1" y1="1363.7" x2="378.1" y2="1449.2" stroke="#fbb42b" stroke-width="3.3"/>
<circle cx="378.1" cy="1405.5" r="4.6" fill="#fbb42b"/>
<line x1="379.2" y1="1282.1" x2="379.2" y2="1398.1" stroke="#fbb42b" stroke-width="3.3"/>
<circle cx="379.2" cy="1340.1" r="4.6" fill="#fbb42b"/>
<line x1="381.1" y1="1236.5" x2="381.1" y2="1370.2" stroke="#fbb32b" stroke-width="3.3"/>
<circle cx="381.1" cy="1303.3" r="4.6" fill="#fbb32b"/>
<line x1="386.5" y1="1320.0" x2="386.5" y2="1401.7" stroke="#fbb12a" stroke-width="3.3"/>
<circle cx="386.5" cy="1360.6" r="4.6" fill="#fbb12a"/>
<line x1="386.5" y1="1273.0" x2="386.5" y2="1353.0" stroke="#fbb12a" stroke-width="3.3"/>
<circle cx="386.5" cy="1313.0" r="4.6" fill="#fbb12a"/>
<line x1="386.5" y1="1295.0" x2="386.5" y2="1375.0" stroke="#fbb12a" stroke-width="3.3"/>
<circle cx="386.5" cy="1335.3" r="4.6" fill="#fbb12a"/>
<line x1="395.0" y1="1207.5" x2="395.0" y2="1300.0" stroke="#fbad2a" stroke-width="3.3"/>
<circle cx="395.0" cy="1254.0" r="4.6" fill="#fbad2a"/>
<line x1="398.2" y1="1277.0" x2="398.2" y2="1361.0" stroke="#faac2a" stroke-width="3.3"/>
<circle cx="398.2" cy="1319.4" r="4.6" fill="#faac2a"/>
<line x1="398.2" y1="1311.0" x2="398.2" y2="1393.3" stroke="#faac2a" stroke-width="3.3"/>
<circle cx="398.2" cy="1352.0" r="4.6" fill="#faac2a"/>
<line x1="398.2" y1="1214.0" x2="398.2" y2="1306.0" stroke="#faac2a" stroke-width="3.3"/>
<circle cx="398.2" cy="1260.3" r="4.6" fill="#faac2a"/>
<line x1="398.2" y1="1285.0" x2="398.2" y2="1368.0" stroke="#faac2a" stroke-width="3.3"/>
<circle cx="398.2" cy="1326.8" r="4.6" fill="#faac2a"/>
<line x1="399.1" y1="1277.6" x2="399.1" y2="1385.9" stroke="#faac2a" stroke-width="3.3"/>
<circle cx="399.1" cy="1331.8" r="4.6" fill="#faac2a"/>
<line x1="401.1" y1="1193.4" x2="401.1" y2="1311.4" stroke="#faab2a" stroke-width="3.3"/>
<circle cx="401.1" cy="1252.4" r="4.6" fill="#faab2a"/>
<line x1="408.7" y1="1223.4" x2="408.7" y2="1290.0" stroke="#faa82a" stroke-width="3.3"/>
<circle cx="408.7" cy="1248.7" r="4.6" fill="#faa82a"/>
<line x1="408.9" y1="1255.8" x2="408.9" y2="1377.0" stroke="#faa82a" stroke-width="3.3"/>
<circle cx="408.9" cy="1316.4" r="4.6" fill="#faa82a"/>
<line x1="411.0" y1="1232.0" x2="411.0" y2="1305.0" stroke="#faa72a" stroke-width="3.3"/>
<circle cx="411.0" cy="1268.8" r="4.6" fill="#faa72a"/>
<line x1="413.0" y1="1245.0" x2="413.0" y2="1326.0" stroke="#faa629" stroke-width="3.3"/>
<circle cx="413.0" cy="1285.6" r="4.6" fill="#faa629"/>
<line x1="415.0" y1="1255.0" x2="415.0" y2="1345.8" stroke="#faa629" stroke-width="3.3"/>
<circle cx="415.0" cy="1296.2" r="4.6" fill="#faa629"/>
<line x1="421.5" y1="1265.9" x2="421.5" y2="1338.4" stroke="#f9a329" stroke-width="3.3"/>
<circle cx="421.5" cy="1302.2" r="4.6" fill="#f9a329"/>
<line x1="422.1" y1="1270.7" x2="422.1" y2="1385.2" stroke="#f9a329" stroke-width="3.3"/>
<circle cx="422.1" cy="1327.9" r="4.6" fill="#f9a329"/>
<line x1="423.5" y1="1239.0" x2="423.5" y2="1323.0" stroke="#f9a229" stroke-width="3.3"/>
<circle cx="423.5" cy="1281.4" r="4.6" fill="#f9a229"/>
<line x1="424.2" y1="1254.1" x2="424.2" y2="1387.1" stroke="#f9a229" stroke-width="3.3"/>
<circle cx="424.2" cy="1320.6" r="4.6" fill="#f9a229"/>
<line x1="424.2" y1="1234.2" x2="424.2" y2="1368.3" stroke="#f9a229" stroke-width="3.3"/>
<circle cx="424.2" cy="1301.3" r="4.6" fill="#f9a229"/>
<line x1="425.0" y1="1278.0" x2="425.0" y2="1360.0" stroke="#f9a229" stroke-width="3.3"/>
<circle cx="425.0" cy="1319.4" r="4.6" fill="#f9a229"/>
<line x1="426.6" y1="1325.0" x2="426.6" y2="1415.5" stroke="#f9a129" stroke-width="3.3"/>
<circle cx="426.6" cy="1369.0" r="4.6" fill="#f9a129"/>
<line x1="432.0" y1="1270.0" x2="432.0" y2="1345.0" stroke="#f99f29" stroke-width="3.3"/>
<circle cx="432.0" cy="1300.0" r="4.6" fill="#f99f29"/>
<line x1="434.1" y1="1286.7" x2="434.1" y2="1412.0" stroke="#f99e29" stroke-width="3.3"/>
<circle cx="434.1" cy="1349.4" r="4.6" fill="#f99e29"/>
<line x1="440.0" y1="1280.0" x2="440.0" y2="1355.0" stroke="#f99c29" stroke-width="3.3"/>
<circle cx="440.0" cy="1317.0" r="4.6" fill="#f99c29"/>
<line x1="441.8" y1="1303.0" x2="441.8" y2="1392.0" stroke="#f99b28" stroke-width="3.3"/>
<circle cx="441.8" cy="1348.0" r="4.6" fill="#f99b28"/>
<line x1="442.6" y1="1276.6" x2="442.6" y2="1392.0" stroke="#f99b28" stroke-width="3.3"/>
<circle cx="442.6" cy="1347.0" r="4.6" fill="#f99b28"/>
<line x1="450.2" y1="1342.0" x2="450.2" y2="1427.2" stroke="#f89828" stroke-width="3.3"/>
<circle cx="450.2" cy="1385.1" r="4.6" fill="#f89828"/>
<line x1="450.2" y1="1301.2" x2="450.2" y2="1385.0" stroke="#f89828" stroke-width="3.3"/>
<circle cx="450.2" cy="1341.7" r="4.6" fill="#f89828"/>
<line x1="460.7" y1="1303.3" x2="460.7" y2="1385.5" stroke="#f89428" stroke-width="3.3"/>
<circle cx="460.7" cy="1345.0" r="4.6" fill="#f89428"/>
<line x1="464.6" y1="1213.7" x2="464.6" y2="1306.5" stroke="#f79228" stroke-width="3.3"/>
<circle cx="464.6" cy="1257.8" r="4.6" fill="#f79228"/>
<line x1="467.0" y1="1263.8" x2="467.0" y2="1352.0" stroke="#f79128" stroke-width="3.3"/>
<circle cx="467.0" cy="1308.7" r="4.6" fill="#f79128"/>
<line x1="468.0" y1="1290.0" x2="468.0" y2="1380.0" stroke="#f79128" stroke-width="3.3"/>
<circle cx="468.0" cy="1335.3" r="4.6" fill="#f79128"/>
<line x1="468.5" y1="1302.0" x2="468.5" y2="1386.0" stroke="#f79128" stroke-width="3.3"/>
<circle cx="468.5" cy="1345.0" r="4.6" fill="#f79128"/>
<line x1="469.9" y1="1300.0" x2="469.9" y2="1388.7" stroke="#f79028" stroke-width="3.3"/>
<circle cx="469.9" cy="1341.7" r="4.6" fill="#f79028"/>
<line x1="504.7" y1="1310.8" x2="504.7" y2="1388.7" stroke="#f48327" stroke-width="3.3"/>
<circle cx="504.7" cy="1350.3" r="4.6" fill="#f48327"/>
<line x1="513.7" y1="1290.0" x2="513.7" y2="1371.6" stroke="#f48026" stroke-width="3.3"/>
<circle cx="513.7" cy="1330.0" r="4.6" fill="#f48026"/>
<line x1="513.7" y1="1266.0" x2="513.7" y2="1345.0" stroke="#f48026" stroke-width="3.3"/>
<circle cx="513.7" cy="1305.5" r="4.6" fill="#f48026"/>
<line x1="518.0" y1="1215.8" x2="518.0" y2="1305.0" stroke="#f37e26" stroke-width="3.3"/>
<circle cx="518.0" cy="1260.6" r="4.6" fill="#f37e26"/>
<line x1="521.0" y1="1282.0" x2="521.0" y2="1364.2" stroke="#f37d26" stroke-width="3.3"/>
<circle cx="521.0" cy="1323.6" r="4.6" fill="#f37d26"/>
<line x1="538.0" y1="1270.0" x2="538.0" y2="1358.0" stroke="#f27726" stroke-width="3.3"/>
<circle cx="538.0" cy="1314.0" r="4.6" fill="#f27726"/>
<line x1="541.0" y1="1290.0" x2="541.0" y2="1372.0" stroke="#f27626" stroke-width="3.3"/>
<circle cx="541.0" cy="1331.0" r="4.6" fill="#f27626"/>
<line x1="544.6" y1="1306.0" x2="544.6" y2="1389.8" stroke="#f27425" stroke-width="3.3"/>
<circle cx="544.6" cy="1348.0" r="4.6" fill="#f27425"/>
<line x1="553.0" y1="1292.6" x2="553.0" y2="1380.0" stroke="#f17125" stroke-width="3.3"/>
<circle cx="553.0" cy="1337.5" r="4.6" fill="#f17125"/>
<line x1="558.5" y1="1310.0" x2="558.5" y2="1390.9" stroke="#f16f25" stroke-width="3.3"/>
<circle cx="558.5" cy="1351.4" r="4.6" fill="#f16f25"/>
<line x1="566.4" y1="1272.0" x2="566.4" y2="1356.0" stroke="#f06c25" stroke-width="3.3"/>
<circle cx="566.4" cy="1314.0" r="4.6" fill="#f06c25"/>
<line x1="566.4" y1="1307.0" x2="566.4" y2="1391.0" stroke="#f06c25" stroke-width="3.3"/>
<circle cx="566.4" cy="1349.2" r="4.6" fill="#f06c25"/>
<line x1="566.4" y1="1262.0" x2="566.4" y2="1346.0" stroke="#f06c25" stroke-width="3.3"/>
<circle cx="566.4" cy="1304.4" r="4.6" fill="#f06c25"/>
<line x1="566.4" y1="1242.5" x2="566.4" y2="1326.0" stroke="#f06c25" stroke-width="3.3"/>
<circle cx="566.4" cy="1285.2" r="4.6" fill="#f06c25"/>
<line x1="566.4" y1="1315.0" x2="566.4" y2="1403.7" stroke="#f06c25" stroke-width="3.3"/>
<circle cx="566.4" cy="1357.3" r="4.6" fill="#f06c25"/>
<line x1="594.8" y1="1320.0" x2="594.8" y2="1399.4" stroke="#ee6124" stroke-width="3.3"/>
<circle cx="594.8" cy="1359.9" r="4.6" fill="#ee6124"/>
<line x1="594.8" y1="1266.0" x2="594.8" y2="1347.0" stroke="#ee6124" stroke-width="3.3"/>
<circle cx="594.8" cy="1306.5" r="4.6" fill="#ee6124"/>
<line x1="602.7" y1="1309.7" x2="602.7" y2="1393.0" stroke="#ed5d24" stroke-width="3.3"/>
<circle cx="602.7" cy="1352.4" r="4.6" fill="#ed5d24"/>
<line x1="614.4" y1="1269.2" x2="614.4" y2="1352.4" stroke="#ec5823" stroke-width="3.3"/>
<circle cx="614.4" cy="1309.7" r="4.6" fill="#ec5823"/>
<line x1="627.2" y1="1349.2" x2="627.2" y2="1434.6" stroke="#eb5123" stroke-width="3.3"/>
<circle cx="627.2" cy="1390.9" r="4.6" fill="#eb5123"/>
<line x1="691.3" y1="1322.5" x2="691.3" y2="1405.8" stroke="#e63220" stroke-width="3.3"/>
<circle cx="691.3" cy="1362.0" r="4.6" fill="#e63220"/>
<line x1="698.3" y1="1299.0" x2="698.3" y2="1386.6" stroke="#e52f1f" stroke-width="3.3"/>
<circle cx="698.3" cy="1342.4" r="4.6" fill="#e52f1f"/>
<line x1="732.9" y1="1280.9" x2="732.9" y2="1409.0" stroke="#e21e1e" stroke-width="3.3"/>
<circle cx="732.9" cy="1365.9" r="4.6" fill="#e21e1e"/>
<line x1="732.9" y1="1280.9" x2="732.9" y2="1409.0" stroke="#e21e1e" stroke-width="3.3"/>
<circle cx="732.9" cy="1325.3" r="4.6" fill="#e21e1e"/>
<path d="M177.0,1257.5 L181.0,1258.3 L185.0,1259.2 L189.0,1260.0 L193.0,1260.8 L197.0,1261.6 L201.0,1262.5 L205.0,1263.3 L209.0,1264.1 L213.0,1264.9 L217.0,1265.7 L221.0,1266.6 L225.0,1267.4 L229.0,1268.2 L233.0,1269.0 L237.0,1269.8 L241.0,1270.6 L245.0,1271.4 L249.0,1272.2 L253.0,1273.0 L257.0,1273.8 L261.0,1274.5 L265.0,1275.3 L269.0,1276.1 L273.0,1276.9 L277.0,1277.7 L281.0,1278.4 L285.0,1279.2 L289.0,1279.9 L293.0,1280.7 L297.0,1281.5 L301.0,1282.2 L305.0,1282.9 L309.0,1283.7 L313.0,1284.4 L317.0,1285.1 L321.0,1285.8 L325.0,1286.6 L329.0,1287.3 L333.0,1288.0 L337.0,1288.7 L341.0,1289.4 L345.0,1290.0 L349.0,1290.7 L353.0,1291.4 L357.0,1292.1 L361.0,1292.7 L365.0,1293.4 L369.0,1294.0 L373.0,1294.6 L377.0,1295.3 L381.0,1295.9 L385.0,1296.5 L389.0,1297.1 L393.0,1297.7 L397.0,1298.3 L401.0,1298.9 L405.0,1299.5 L409.0,1300.1 L413.0,1300.6 L417.0,1301.2 L421.0,1301.8 L425.0,1302.3 L429.0,1302.9 L433.0,1303.4 L437.0,1303.9 L441.0,1304.4 L445.0,1305.0 L449.0,1305.5 L453.0,1306.0 L457.0,1306.5 L461.0,1307.0 L465.0,1307.5 L469.0,1308.0 L473.0,1308.5 L477.0,1309.0 L481.0,1309.4 L485.0,1309.9 L489.0,1310.4 L493.0,1310.8 L497.0,1311.3 L501.0,1311.8 L505.0,1312.2 L509.0,1312.7 L513.0,1313.1 L517.0,1313.6 L521.0,1314.0 L525.0,1314.4 L529.0,1314.9 L533.0,1315.3 L537.0,1315.8 L541.0,1316.2 L545.0,1316.6 L549.0,1317.0 L553.0,1317.5 L557.0,1317.9 L561.0,1318.3 L565.0,1318.7 L569.0,1319.1 L573.0,1319.6 L577.0,1320.0 L581.0,1320.4 L585.0,1320.8 L589.0,1321.2 L593.0,1321.6 L597.0,1322.0 L601.0,1322.4 L605.0,1322.8 L609.0,1323.2 L613.0,1323.6 L617.0,1324.0 L621.0,1324.4 L625.0,1324.8 L629.0,1325.2 L633.0,1325.6 L637.0,1326.0 L641.0,1326.4 L645.0,1326.8 L649.0,1327.2 L653.0,1327.6 L657.0,1328.0 L661.0,1328.4 L665.0,1328.8 L669.0,1329.2 L673.0,1329.5 L677.0,1329.9 L681.0,1330.3 L685.0,1330.7 L689.0,1331.1 L693.0,1331.5 L697.0,1331.9 L701.0,1332.2 L705.0,1332.6 L709.0,1333.0 L713.0,1333.4 L717.0,1333.8 L721.0,1334.1 L725.0,1334.5 L729.0,1334.9 L733.0,1335.3 L733.0,1335.3 L733.0,1385.9 L733.0,1385.9 L729.0,1385.1 L725.0,1384.2 L721.0,1383.3 L717.0,1382.5 L713.0,1381.6 L709.0,1380.7 L705.0,1379.9 L701.0,1379.0 L697.0,1378.2 L693.0,1377.3 L689.0,1376.4 L685.0,1375.6 L681.0,1374.7 L677.0,1373.9 L673.0,1373.0 L669.0,1372.2 L665.0,1371.3 L661.0,1370.5 L657.0,1369.6 L653.0,1368.7 L649.0,1367.9 L645.0,1367.0 L641.0,1366.2 L637.0,1365.3 L633.0,1364.5 L629.0,1363.7 L625.0,1362.8 L621.0,1362.0 L617.0,1361.1 L613.0,1360.3 L609.0,1359.4 L605.0,1358.6 L601.0,1357.8 L597.0,1356.9 L593.0,1356.1 L589.0,1355.2 L585.0,1354.4 L581.0,1353.6 L577.0,1352.7 L573.0,1351.9 L569.0,1351.1 L565.0,1350.3 L561.0,1349.4 L557.0,1348.6 L553.0,1347.8 L549.0,1347.0 L545.0,1346.2 L541.0,1345.3 L537.0,1344.5 L533.0,1343.7 L529.0,1342.9 L525.0,1342.1 L521.0,1341.3 L517.0,1340.5 L513.0,1339.7 L509.0,1338.9 L505.0,1338.1 L501.0,1337.3 L497.0,1336.6 L493.0,1335.8 L489.0,1335.0 L485.0,1334.2 L481.0,1333.5 L477.0,1332.7 L473.0,1331.9 L469.0,1331.2 L465.0,1330.4 L461.0,1329.7 L457.0,1328.9 L453.0,1328.2 L449.0,1327.5 L445.0,1326.7 L441.0,1326.0 L437.0,1325.3 L433.0,1324.6 L429.0,1323.9 L425.0,1323.2 L421.0,1322.5 L417.0,1321.8 L413.0,1321.1 L409.0,1320.4 L405.0,1319.8 L401.0,1319.1 L397.0,1318.5 L393.0,1317.8 L389.0,1317.2 L385.0,1316.5 L381.0,1315.9 L377.0,1315.3 L373.0,1314.7 L369.0,1314.1 L365.0,1313.5 L361.0,1312.9 L357.0,1312.3 L353.0,1311.7 L349.0,1311.1 L345.0,1310.6 L341.0,1310.0 L337.0,1309.5 L333.0,1308.9 L329.0,1308.4 L325.0,1307.8 L321.0,1307.3 L317.0,1306.8 L313.0,1306.3 L309.0,1305.8 L305.0,1305.2 L301.0,1304.7 L297.0,1304.2 L293.0,1303.8 L289.0,1303.3 L285.0,1302.8 L281.0,1302.3 L277.0,1301.8 L273.0,1301.4 L269.0,1300.9 L265.0,1300.4 L261.0,1300.0 L257.0,1299.5 L253.0,1299.0 L249.0,1298.6 L245.0,1298.1 L241.0,1297.7 L237.0,1297.3 L233.0,1296.8 L229.0,1296.4 L225.0,1296.0 L221.0,1295.5 L217.0,1295.1 L213.0,1294.7 L209.0,1294.2 L205.0,1293.8 L201.0,1293.4 L197.0,1293.0 L193.0,1292.6 L189.0,1292.1 L185.0,1291.7 L181.0,1291.3 L177.0,1290.9Z" fill="#000" fill-opacity="0.25"/>
<line x1="177" y1="1274.2" x2="733" y2="1360.6" stroke="#000" stroke-width="3.2" stroke-dasharray="13 13.4"/>
<g stroke="#000" stroke-width="2.7" fill="none">
<line x1="149.8" y1="1130.5" x2="149.8" y2="1483"/>
<line x1="148.5" y1="1481.7" x2="760.3" y2="1481.7"/>
<line x1="141.5" y1="1204.1" x2="149.8" y2="1204.1" stroke="#333" stroke-width="2.4"/>
<line x1="141.5" y1="1295.6" x2="149.8" y2="1295.6" stroke="#333" stroke-width="2.4"/>
<line x1="141.5" y1="1387.1" x2="149.8" y2="1387.1" stroke="#333" stroke-width="2.4"/>
<line x1="141.5" y1="1478.6" x2="149.8" y2="1478.6" stroke="#333" stroke-width="2.4"/>
<line x1="210" y1="1481.7" x2="210" y2="1489.7" stroke="#333" stroke-width="2.4"/>
<line x1="336.1" y1="1481.7" x2="336.1" y2="1489.7" stroke="#333" stroke-width="2.4"/>
<line x1="451.2" y1="1481.7" x2="451.2" y2="1489.7" stroke="#333" stroke-width="2.4"/>
<line x1="577.6" y1="1481.7" x2="577.6" y2="1489.7" stroke="#333" stroke-width="2.4"/>
<line x1="692.1" y1="1481.7" x2="692.1" y2="1489.7" stroke="#333" stroke-width="2.4"/>
</g>
<text x="133.2" y="1214.1" font-size="27" text-anchor="end" fill="#4D4D4D" font-weight="normal" font-style="normal">0.00</text>
<text x="133.2" y="1305.6" font-size="27" text-anchor="end" fill="#4D4D4D" font-weight="normal" font-style="normal">-0.25</text>
<text x="133.2" y="1397.1" font-size="27" text-anchor="end" fill="#4D4D4D" font-weight="normal" font-style="normal">-0.50</text>
<text x="133.2" y="1488.6" font-size="27" text-anchor="end" fill="#4D4D4D" font-weight="normal" font-style="normal">-0.75</text>
<text x="210.0" y="1516.5" font-size="27" text-anchor="middle" fill="#4D4D4D" font-weight="normal" font-style="normal">30</text>
<text x="336.1" y="1516.5" font-size="27" text-anchor="middle" fill="#4D4D4D" font-weight="normal" font-style="normal">100</text>
<text x="451.2" y="1516.5" font-size="27" text-anchor="middle" fill="#4D4D4D" font-weight="normal" font-style="normal">300</text>
<text x="577.6" y="1516.5" font-size="27" text-anchor="middle" fill="#4D4D4D" font-weight="normal" font-style="normal">1000</text>
<text x="692.1" y="1516.5" font-size="27" text-anchor="middle" fill="#4D4D4D" font-weight="normal" font-style="normal">3000</text>
<text x="381.3" y="1554.0" font-size="34.5" text-anchor="start" fill="#000" font-weight="normal" font-style="normal" textLength="148" lengthAdjust="spacingAndGlyphs">Mass (kg)</text>
<text transform="translate(54,1306.2) rotate(-90)" font-size="34" text-anchor="middle" fill="#000" textLength="82.4" lengthAdjust="spacingAndGlyphs">Slope</text>
<g fill="#595959" stroke="#666" stroke-width="0.5">
<rect x="913.4" y="1455.0" width="18.53" height="10.6"/>
<rect x="950.5" y="1455.0" width="18.53" height="10.6"/>
<rect x="969.0" y="1455.0" width="18.53" height="10.6"/>
<rect x="1024.3" y="1455.0" width="18.53" height="10.6"/>
<rect x="1098.8" y="1455.0" width="18.53" height="10.6"/>
<rect x="1135.8" y="1455.0" width="18.53" height="10.6"/>
<rect x="1154.3" y="1433.7" width="18.53" height="31.9"/>
<rect x="1172.9" y="1444.3" width="18.53" height="21.3"/>
<rect x="1191.4" y="1455.0" width="18.53" height="10.6"/>
<rect x="1209.9" y="1455.0" width="18.53" height="10.6"/>
<rect x="1228.5" y="1433.7" width="18.53" height="31.9"/>
<rect x="1247.0" y="1433.7" width="18.53" height="31.9"/>
<rect x="1265.5" y="1401.8" width="18.53" height="63.8"/>
<rect x="1284.0" y="1444.3" width="18.53" height="21.3"/>
<rect x="1302.6" y="1423.0" width="18.53" height="42.6"/>
<rect x="1321.1" y="1423.0" width="18.53" height="42.6"/>
<rect x="1339.6" y="1391.1" width="18.53" height="74.5"/>
<rect x="1358.2" y="1337.9" width="18.53" height="127.7"/>
<rect x="1376.7" y="1359.2" width="18.53" height="106.4"/>
<rect x="1395.2" y="1359.2" width="18.53" height="106.4"/>
<rect x="1413.8" y="1167.7" width="18.53" height="297.9"/>
<rect x="1432.3" y="1146.4" width="18.53" height="319.2"/>
<rect x="1450.8" y="1391.1" width="18.53" height="74.5"/>
</g>
<g stroke="#000" stroke-width="2.7" fill="none">
<line x1="885.3" y1="1130.8" x2="885.3" y2="1482.6"/>
<line x1="884" y1="1481.3" x2="1494.7" y2="1481.3"/>
<line x1="877" y1="1146.4" x2="885.3" y2="1146.4" stroke="#333" stroke-width="2.4"/>
<line x1="877" y1="1252.8" x2="885.3" y2="1252.8" stroke="#333" stroke-width="2.4"/>
<line x1="877" y1="1359.2" x2="885.3" y2="1359.2" stroke="#333" stroke-width="2.4"/>
<line x1="877" y1="1465.6" x2="885.3" y2="1465.6" stroke="#333" stroke-width="2.4"/>
<line x1="973.8" y1="1481.3" x2="973.8" y2="1489.2" stroke="#333" stroke-width="2.4"/>
<line x1="1134.4" y1="1481.3" x2="1134.4" y2="1489.2" stroke="#333" stroke-width="2.4"/>
<line x1="1295" y1="1481.3" x2="1295" y2="1489.2" stroke="#333" stroke-width="2.4"/>
<line x1="1455.6" y1="1481.3" x2="1455.6" y2="1489.2" stroke="#333" stroke-width="2.4"/>
</g>
<text x="868.8" y="1156.4" font-size="27" text-anchor="end" fill="#4D4D4D" font-weight="normal" font-style="normal">30</text>
<text x="868.8" y="1262.8" font-size="27" text-anchor="end" fill="#4D4D4D" font-weight="normal" font-style="normal">20</text>
<text x="868.8" y="1369.2" font-size="27" text-anchor="end" fill="#4D4D4D" font-weight="normal" font-style="normal">10</text>
<text x="868.8" y="1475.6" font-size="27" text-anchor="end" fill="#4D4D4D" font-weight="normal" font-style="normal">0</text>
<text x="973.8" y="1516.2" font-size="27" text-anchor="middle" fill="#4D4D4D" font-weight="normal" font-style="normal">70</text>
<text x="1134.4" y="1516.2" font-size="27" text-anchor="middle" fill="#4D4D4D" font-weight="normal" font-style="normal">80</text>
<text x="1295.0" y="1516.2" font-size="27" text-anchor="middle" fill="#4D4D4D" font-weight="normal" font-style="normal">90</text>
<text x="1455.6" y="1516.2" font-size="27" text-anchor="middle" fill="#4D4D4D" font-weight="normal" font-style="normal">100</text>
<text x="1191.2" y="1553.9" font-size="34.5" text-anchor="middle" fill="#000" font-weight="normal" font-style="normal" textLength="300.5" lengthAdjust="spacingAndGlyphs">Decline severity (%)</text>
<text transform="translate(824.2,1306) rotate(-90)" font-size="33.5" text-anchor="middle" fill="#000" textLength="172.3" lengthAdjust="spacingAndGlyphs">No. species</text>
</svg></body></html>
